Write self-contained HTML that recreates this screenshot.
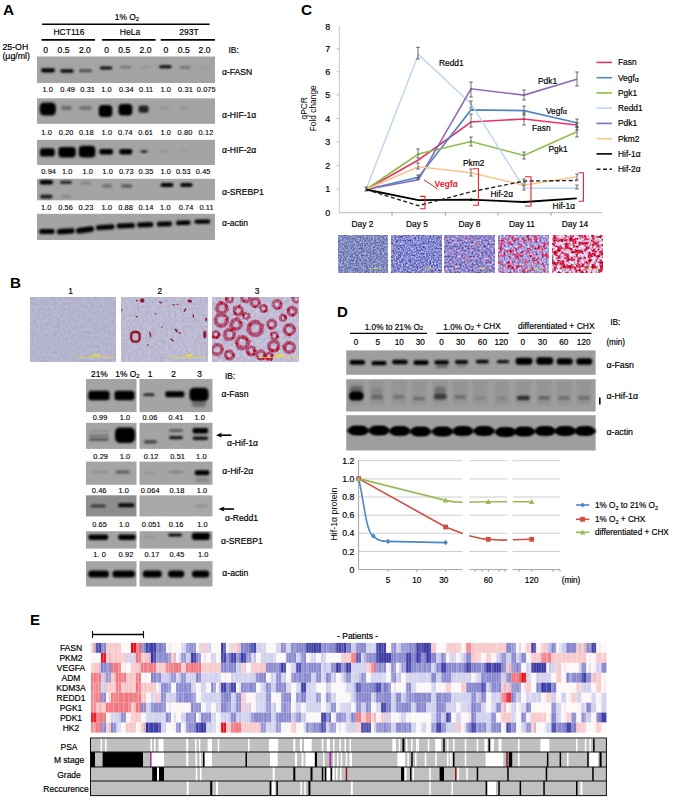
<!DOCTYPE html>
<html><head><meta charset="utf-8"><style>
html,body{margin:0;padding:0;background:#fff;}
body{width:675px;height:803px;overflow:hidden;}
svg{display:block;font-family:"Liberation Sans",sans-serif;}
</style></head><body>
<svg width="675" height="803" viewBox="0 0 675 803">
<defs>
<filter id="b05" x="-20%" y="-20%" width="140%" height="140%"><feGaussianBlur stdDeviation="0.5"/></filter>
<filter id="b07" x="-30%" y="-50%" width="160%" height="200%"><feGaussianBlur stdDeviation="0.8"/></filter>
<filter id="b1" x="-50%" y="-100%" width="200%" height="300%"><feGaussianBlur stdDeviation="1.0"/></filter>
<filter id="disp" x="-5%" y="-5%" width="110%" height="110%" color-interpolation-filters="sRGB"><feTurbulence type="fractalNoise" baseFrequency="0.25" numOctaves="2" seed="4" result="t"/><feDisplacementMap in="SourceGraphic" in2="t" scale="2.5" xChannelSelector="R" yChannelSelector="G" result="d"/><feGaussianBlur in="d" stdDeviation="0.5"/></filter>
<filter id="b2" x="-50%" y="-100%" width="200%" height="300%"><feGaussianBlur stdDeviation="1.8"/></filter>
<clipPath id="cpb1"><rect x="121.5" y="297" width="85.8" height="64.8"/></clipPath>
<clipPath id="cpb2"><rect x="212" y="297" width="86.6" height="64.8"/></clipPath><filter id="tx0" x="0" y="0" width="1" height="1" filterUnits="objectBoundingBox" color-interpolation-filters="sRGB">
<feTurbulence type="fractalNoise" baseFrequency="0.26" numOctaves="2" seed="3" result="A"/>
<feTurbulence type="fractalNoise" baseFrequency="0.6" numOctaves="2" seed="11" result="B"/>
<feColorMatrix in="A" type="matrix" values="1 0 0 0 0  0 0 0 0 0  0 0 0 0 0  0 0 0 0 1" result="A2"/>
<feColorMatrix in="B" type="matrix" values="0 0 0 0 0  0 1 0 0 0  0 0 0 0 0  0 0 0 0 1" result="B2"/>
<feComposite in="A2" in2="B2" operator="arithmetic" k1="0" k2="1" k3="1" k4="0" result="C"/>
<feComponentTransfer in="C"><feFuncR type="linear" slope="6.0" intercept="-2.500"/><feFuncG type="linear" slope="1.8" intercept="-0.4"/></feComponentTransfer>
<feColorMatrix type="matrix" values="0.000 0.400 0 0 0.300  0.000 0.400 0 0 0.340  0.000 0.400 0 0 0.550  0 0 0 0 1"/>
</filter>
<filter id="tx1" x="0" y="0" width="1" height="1" filterUnits="objectBoundingBox" color-interpolation-filters="sRGB">
<feTurbulence type="fractalNoise" baseFrequency="0.26" numOctaves="2" seed="10" result="A"/>
<feTurbulence type="fractalNoise" baseFrequency="0.6" numOctaves="2" seed="16" result="B"/>
<feColorMatrix in="A" type="matrix" values="1 0 0 0 0  0 0 0 0 0  0 0 0 0 0  0 0 0 0 1" result="A2"/>
<feColorMatrix in="B" type="matrix" values="0 0 0 0 0  0 1 0 0 0  0 0 0 0 0  0 0 0 0 1" result="B2"/>
<feComposite in="A2" in2="B2" operator="arithmetic" k1="0" k2="1" k3="1" k4="0" result="C"/>
<feComponentTransfer in="C"><feFuncR type="linear" slope="6.0" intercept="-2.500"/><feFuncG type="linear" slope="1.8" intercept="-0.4"/></feComponentTransfer>
<feColorMatrix type="matrix" values="0.000 0.550 0 0 0.245  0.000 0.550 0 0 0.255  0.000 0.550 0 0 0.535  0 0 0 0 1"/>
</filter>
<filter id="tx2" x="0" y="0" width="1" height="1" filterUnits="objectBoundingBox" color-interpolation-filters="sRGB">
<feTurbulence type="fractalNoise" baseFrequency="0.26" numOctaves="2" seed="17" result="A"/>
<feTurbulence type="fractalNoise" baseFrequency="0.5" numOctaves="2" seed="21" result="B"/>
<feColorMatrix in="A" type="matrix" values="1 0 0 0 0  0 0 0 0 0  0 0 0 0 0  0 0 0 0 1" result="A2"/>
<feColorMatrix in="B" type="matrix" values="0 0 0 0 0  0 1 0 0 0  0 0 0 0 0  0 0 0 0 1" result="B2"/>
<feComposite in="A2" in2="B2" operator="arithmetic" k1="0" k2="1" k3="1" k4="0" result="C"/>
<feComponentTransfer in="C"><feFuncR type="linear" slope="6.0" intercept="-3.280"/><feFuncG type="linear" slope="1.8" intercept="-0.4"/></feComponentTransfer>
<feColorMatrix type="matrix" values="0.280 0.500 0 0 0.290  0.030 0.500 0 0 0.280  -0.060 0.500 0 0 0.550  0 0 0 0 1"/>
</filter>
<filter id="tx3" x="0" y="0" width="1" height="1" filterUnits="objectBoundingBox" color-interpolation-filters="sRGB">
<feTurbulence type="fractalNoise" baseFrequency="0.26" numOctaves="2" seed="24" result="A"/>
<feTurbulence type="fractalNoise" baseFrequency="0.5" numOctaves="2" seed="26" result="B"/>
<feColorMatrix in="A" type="matrix" values="1 0 0 0 0  0 0 0 0 0  0 0 0 0 0  0 0 0 0 1" result="A2"/>
<feColorMatrix in="B" type="matrix" values="0 0 0 0 0  0 1 0 0 0  0 0 0 0 0  0 0 0 0 1" result="B2"/>
<feComposite in="A2" in2="B2" operator="arithmetic" k1="0" k2="1" k3="1" k4="0" result="C"/>
<feComponentTransfer in="C"><feFuncR type="linear" slope="6.0" intercept="-2.860"/><feFuncG type="linear" slope="1.8" intercept="-0.4"/></feComponentTransfer>
<feColorMatrix type="matrix" values="0.220 0.500 0 0 0.400  -0.420 0.500 0 0 0.400  -0.480 0.500 0 0 0.640  0 0 0 0 1"/>
</filter>
<filter id="tx4" x="0" y="0" width="1" height="1" filterUnits="objectBoundingBox" color-interpolation-filters="sRGB">
<feTurbulence type="fractalNoise" baseFrequency="0.26" numOctaves="2" seed="31" result="A"/>
<feTurbulence type="fractalNoise" baseFrequency="0.5" numOctaves="2" seed="31" result="B"/>
<feColorMatrix in="A" type="matrix" values="1 0 0 0 0  0 0 0 0 0  0 0 0 0 0  0 0 0 0 1" result="A2"/>
<feColorMatrix in="B" type="matrix" values="0 0 0 0 0  0 1 0 0 0  0 0 0 0 0  0 0 0 0 1" result="B2"/>
<feComposite in="A2" in2="B2" operator="arithmetic" k1="0" k2="1" k3="1" k4="0" result="C"/>
<feComponentTransfer in="C"><feFuncR type="linear" slope="6.0" intercept="-2.560"/><feFuncG type="linear" slope="1.8" intercept="-0.4"/></feComponentTransfer>
<feColorMatrix type="matrix" values="-0.040 0.450 0 0 0.645  -0.680 0.450 0 0 0.585  -0.670 0.450 0 0 0.715  0 0 0 0 1"/>
</filter>
<filter id="txb0" x="0" y="0" width="1" height="1" filterUnits="objectBoundingBox" color-interpolation-filters="sRGB">
<feTurbulence type="fractalNoise" baseFrequency="0.35" numOctaves="2" seed="21"/>
<feColorMatrix type="matrix" values="0 0.12 0 0 0.645  0 0.12 0 0 0.645  0 0.12 0 0 0.745  0 0 0 0 1"/>
</filter>
<filter id="txb1" x="0" y="0" width="1" height="1" filterUnits="objectBoundingBox" color-interpolation-filters="sRGB">
<feTurbulence type="fractalNoise" baseFrequency="0.35" numOctaves="2" seed="27"/>
<feColorMatrix type="matrix" values="0 0.14 0 0 0.665  0 0.14 0 0 0.66  0 0.14 0 0 0.755  0 0 0 0 1"/>
</filter>
<filter id="txb2" x="0" y="0" width="1" height="1" filterUnits="objectBoundingBox" color-interpolation-filters="sRGB">
<feTurbulence type="fractalNoise" baseFrequency="0.3" numOctaves="2" seed="31"/>
<feColorMatrix type="matrix" values="0 0.16 0 0 0.68  0 0.16 0 0 0.66  0 0.16 0 0 0.76  0 0 0 0 1"/>
</filter>
</defs>
<text x="3.0" y="14.6" font-size="15.4" text-anchor="start" font-weight="bold" fill="#000" >A</text>
<text x="127.0" y="20.0" font-size="8.4" text-anchor="middle" font-weight="normal" fill="#000"  stroke="#000" stroke-width="0.18">1% O<tspan font-size="6" dy="0.8">2</tspan></text>
<line x1="42.0" y1="24.2" x2="209.6" y2="24.2" stroke="#000" stroke-width="1.6" />
<text x="69.0" y="35.3" font-size="8.5" text-anchor="middle" font-weight="normal" fill="#000"  stroke="#000" stroke-width="0.18">HCT116</text>
<text x="130.0" y="35.3" font-size="8.5" text-anchor="middle" font-weight="normal" fill="#000"  stroke="#000" stroke-width="0.18">HeLa</text>
<text x="189.0" y="35.3" font-size="8.5" text-anchor="middle" font-weight="normal" fill="#000"  stroke="#000" stroke-width="0.18">293T</text>
<line x1="41.5" y1="39.9" x2="95.0" y2="39.9" stroke="#000" stroke-width="1.6" />
<line x1="102.0" y1="39.9" x2="155.6" y2="39.9" stroke="#000" stroke-width="1.6" />
<line x1="160.7" y1="39.9" x2="215.0" y2="39.9" stroke="#000" stroke-width="1.6" />
<text x="2.4" y="49.6" font-size="8.8" text-anchor="start" font-weight="normal" fill="#000"  stroke="#000" stroke-width="0.18">25-OH</text>
<text x="2.4" y="59.1" font-size="8.8" text-anchor="start" font-weight="normal" fill="#000"  stroke="#000" stroke-width="0.18">(µg/ml)</text>
<text x="45.7" y="53.1" font-size="8.6" text-anchor="middle" font-weight="normal" fill="#000"  stroke="#000" stroke-width="0.18">0</text>
<text x="63.6" y="53.1" font-size="8.6" text-anchor="middle" font-weight="normal" fill="#000"  stroke="#000" stroke-width="0.18">0.5</text>
<text x="84.9" y="53.1" font-size="8.6" text-anchor="middle" font-weight="normal" fill="#000"  stroke="#000" stroke-width="0.18">2.0</text>
<text x="106.7" y="53.1" font-size="8.6" text-anchor="middle" font-weight="normal" fill="#000"  stroke="#000" stroke-width="0.18">0</text>
<text x="124.2" y="53.1" font-size="8.6" text-anchor="middle" font-weight="normal" fill="#000"  stroke="#000" stroke-width="0.18">0.5</text>
<text x="145.5" y="53.1" font-size="8.6" text-anchor="middle" font-weight="normal" fill="#000"  stroke="#000" stroke-width="0.18">2.0</text>
<text x="166.0" y="53.1" font-size="8.6" text-anchor="middle" font-weight="normal" fill="#000"  stroke="#000" stroke-width="0.18">0</text>
<text x="183.7" y="53.1" font-size="8.6" text-anchor="middle" font-weight="normal" fill="#000"  stroke="#000" stroke-width="0.18">0.5</text>
<text x="204.6" y="53.1" font-size="8.6" text-anchor="middle" font-weight="normal" fill="#000"  stroke="#000" stroke-width="0.18">2.0</text>
<text x="228.5" y="53.0" font-size="8.4" text-anchor="start" font-weight="normal" fill="#000"  stroke="#000" stroke-width="0.18">IB:</text>
<rect x="37.0" y="56.5" width="178.0" height="26.5" fill="#a4a4a4" />
<rect x="37.0" y="98.3" width="178.0" height="25.5" fill="#a4a4a4" />
<rect x="37.0" y="139.8" width="178.0" height="25.2" fill="#a4a4a4" />
<rect x="37.0" y="178.8" width="178.0" height="21.5" fill="#a4a4a4" />
<rect x="37.0" y="213.8" width="178.0" height="26.2" fill="#a4a4a4" />
<text x="47.7" y="91.9" font-size="7.4" text-anchor="middle" font-weight="normal" fill="#000" letter-spacing="0.1" stroke="#000" stroke-width="0.12">1.0</text>
<text x="67.7" y="91.9" font-size="7.4" text-anchor="middle" font-weight="normal" fill="#000" letter-spacing="0.1" stroke="#000" stroke-width="0.12">0.49</text>
<text x="87.7" y="91.9" font-size="7.4" text-anchor="middle" font-weight="normal" fill="#000" letter-spacing="0.1" stroke="#000" stroke-width="0.12">0.31</text>
<text x="106.5" y="91.9" font-size="7.4" text-anchor="middle" font-weight="normal" fill="#000" letter-spacing="0.1" stroke="#000" stroke-width="0.12">1.0</text>
<text x="126.4" y="91.9" font-size="7.4" text-anchor="middle" font-weight="normal" fill="#000" letter-spacing="0.1" stroke="#000" stroke-width="0.12">0.34</text>
<text x="146.2" y="91.9" font-size="7.4" text-anchor="middle" font-weight="normal" fill="#000" letter-spacing="0.1" stroke="#000" stroke-width="0.12">0.11</text>
<text x="165.8" y="91.9" font-size="7.4" text-anchor="middle" font-weight="normal" fill="#000" letter-spacing="0.1" stroke="#000" stroke-width="0.12">1.0</text>
<text x="185.5" y="91.9" font-size="7.4" text-anchor="middle" font-weight="normal" fill="#000" letter-spacing="0.1" stroke="#000" stroke-width="0.12">0.31</text>
<text x="206.3" y="91.9" font-size="7.4" text-anchor="middle" font-weight="normal" fill="#000" letter-spacing="0.1" stroke="#000" stroke-width="0.12">0.075</text>
<text x="46.6" y="134.7" font-size="7.4" text-anchor="middle" font-weight="normal" fill="#000" letter-spacing="0.1" stroke="#000" stroke-width="0.12">1.0</text>
<text x="66.2" y="134.7" font-size="7.4" text-anchor="middle" font-weight="normal" fill="#000" letter-spacing="0.1" stroke="#000" stroke-width="0.12">0.20</text>
<text x="86.4" y="134.7" font-size="7.4" text-anchor="middle" font-weight="normal" fill="#000" letter-spacing="0.1" stroke="#000" stroke-width="0.12">0.18</text>
<text x="106.9" y="134.7" font-size="7.4" text-anchor="middle" font-weight="normal" fill="#000" letter-spacing="0.1" stroke="#000" stroke-width="0.12">1.0</text>
<text x="125.4" y="134.7" font-size="7.4" text-anchor="middle" font-weight="normal" fill="#000" letter-spacing="0.1" stroke="#000" stroke-width="0.12">0.74</text>
<text x="145.7" y="134.7" font-size="7.4" text-anchor="middle" font-weight="normal" fill="#000" letter-spacing="0.1" stroke="#000" stroke-width="0.12">0.61</text>
<text x="165.7" y="134.7" font-size="7.4" text-anchor="middle" font-weight="normal" fill="#000" letter-spacing="0.1" stroke="#000" stroke-width="0.12">1.0</text>
<text x="185.0" y="134.7" font-size="7.4" text-anchor="middle" font-weight="normal" fill="#000" letter-spacing="0.1" stroke="#000" stroke-width="0.12">0.80</text>
<text x="206.0" y="134.7" font-size="7.4" text-anchor="middle" font-weight="normal" fill="#000" letter-spacing="0.1" stroke="#000" stroke-width="0.12">0.12</text>
<text x="48.7" y="174.3" font-size="7.4" text-anchor="middle" font-weight="normal" fill="#000" letter-spacing="0.1" stroke="#000" stroke-width="0.12">0.94</text>
<text x="67.2" y="174.3" font-size="7.4" text-anchor="middle" font-weight="normal" fill="#000" letter-spacing="0.1" stroke="#000" stroke-width="0.12">1.0</text>
<text x="87.8" y="174.3" font-size="7.4" text-anchor="middle" font-weight="normal" fill="#000" letter-spacing="0.1" stroke="#000" stroke-width="0.12">1.0</text>
<text x="107.6" y="174.3" font-size="7.4" text-anchor="middle" font-weight="normal" fill="#000" letter-spacing="0.1" stroke="#000" stroke-width="0.12">1.0</text>
<text x="126.3" y="174.3" font-size="7.4" text-anchor="middle" font-weight="normal" fill="#000" letter-spacing="0.1" stroke="#000" stroke-width="0.12">0.73</text>
<text x="146.0" y="174.3" font-size="7.4" text-anchor="middle" font-weight="normal" fill="#000" letter-spacing="0.1" stroke="#000" stroke-width="0.12">0.35</text>
<text x="165.7" y="174.3" font-size="7.4" text-anchor="middle" font-weight="normal" fill="#000" letter-spacing="0.1" stroke="#000" stroke-width="0.12">1.0</text>
<text x="183.3" y="174.3" font-size="7.4" text-anchor="middle" font-weight="normal" fill="#000" letter-spacing="0.1" stroke="#000" stroke-width="0.12">0.53</text>
<text x="203.2" y="174.3" font-size="7.4" text-anchor="middle" font-weight="normal" fill="#000" letter-spacing="0.1" stroke="#000" stroke-width="0.12">0.45</text>
<text x="46.2" y="210.0" font-size="7.4" text-anchor="middle" font-weight="normal" fill="#000" letter-spacing="0.1" stroke="#000" stroke-width="0.12">1.0</text>
<text x="65.6" y="210.0" font-size="7.4" text-anchor="middle" font-weight="normal" fill="#000" letter-spacing="0.1" stroke="#000" stroke-width="0.12">0.56</text>
<text x="86.0" y="210.0" font-size="7.4" text-anchor="middle" font-weight="normal" fill="#000" letter-spacing="0.1" stroke="#000" stroke-width="0.12">0.23</text>
<text x="106.9" y="210.0" font-size="7.4" text-anchor="middle" font-weight="normal" fill="#000" letter-spacing="0.1" stroke="#000" stroke-width="0.12">1.0</text>
<text x="125.6" y="210.0" font-size="7.4" text-anchor="middle" font-weight="normal" fill="#000" letter-spacing="0.1" stroke="#000" stroke-width="0.12">0.88</text>
<text x="146.0" y="210.0" font-size="7.4" text-anchor="middle" font-weight="normal" fill="#000" letter-spacing="0.1" stroke="#000" stroke-width="0.12">0.14</text>
<text x="165.4" y="210.0" font-size="7.4" text-anchor="middle" font-weight="normal" fill="#000" letter-spacing="0.1" stroke="#000" stroke-width="0.12">1.0</text>
<text x="186.1" y="210.0" font-size="7.4" text-anchor="middle" font-weight="normal" fill="#000" letter-spacing="0.1" stroke="#000" stroke-width="0.12">0.74</text>
<text x="206.5" y="210.0" font-size="7.4" text-anchor="middle" font-weight="normal" fill="#000" letter-spacing="0.1" stroke="#000" stroke-width="0.12">0.11</text>
<text x="222.0" y="75.0" font-size="8.6" text-anchor="start" font-weight="normal" fill="#000"  stroke="#000" stroke-width="0.18">α-FASN</text>
<text x="222.0" y="117.9" font-size="8.6" text-anchor="start" font-weight="normal" fill="#000"  stroke="#000" stroke-width="0.18">α-HIF-1α</text>
<text x="222.0" y="152.8" font-size="8.6" text-anchor="start" font-weight="normal" fill="#000"  stroke="#000" stroke-width="0.18">α-HIF-2α</text>
<text x="222.0" y="195.2" font-size="8.6" text-anchor="start" font-weight="normal" fill="#000"  stroke="#000" stroke-width="0.18">α-SREBP1</text>
<text x="222.0" y="225.6" font-size="8.6" text-anchor="start" font-weight="normal" fill="#000"  stroke="#000" stroke-width="0.18">α-actin</text>
<rect x="41.0" y="68.2" width="14.0" height="4.2" rx="2.1" fill="#000" fill-opacity="1.00" filter="url(#b1)"/>
<rect x="60.2" y="69.3" width="13.5" height="3.4" rx="1.7" fill="#000" fill-opacity="0.95" filter="url(#b1)"/>
<rect x="79.0" y="69.4" width="13.0" height="2.6" rx="1.3" fill="#000" fill-opacity="0.60" filter="url(#b1)"/>
<rect x="99.8" y="66.6" width="12.5" height="2.8" rx="1.4" fill="#000" fill-opacity="0.95" filter="url(#b1)"/>
<rect x="120.0" y="66.3" width="11.0" height="2.0" rx="1.0" fill="#000" fill-opacity="0.35" filter="url(#b1)"/>
<rect x="140.5" y="66.2" width="10.0" height="1.5" rx="0.8" fill="#000" fill-opacity="0.15" filter="url(#b1)"/>
<rect x="159.2" y="65.3" width="12.5" height="3.0" rx="1.5" fill="#000" fill-opacity="0.95" filter="url(#b1)"/>
<rect x="179.5" y="66.5" width="11.0" height="2.0" rx="1.0" fill="#000" fill-opacity="0.40" filter="url(#b1)"/>
<rect x="200.0" y="66.8" width="10.0" height="1.5" rx="0.8" fill="#000" fill-opacity="0.12" filter="url(#b1)"/>
<rect x="39.8" y="102.5" width="16.0" height="13.0" rx="4.2" fill="#000" fill-opacity="1.00" filter="url(#b1)"/>
<rect x="61.0" y="106.0" width="11.0" height="4.0" rx="2.0" fill="#000" fill-opacity="0.35" filter="url(#b1)"/>
<rect x="79.0" y="106.0" width="13.0" height="4.0" rx="2.0" fill="#000" fill-opacity="0.30" filter="url(#b1)"/>
<rect x="98.8" y="105.0" width="13.5" height="12.0" rx="3.8" fill="#000" fill-opacity="1.00" filter="url(#b1)"/>
<rect x="118.5" y="104.0" width="13.8" height="11.5" rx="3.7" fill="#000" fill-opacity="1.00" filter="url(#b1)"/>
<rect x="138.6" y="105.4" width="10.0" height="7.4" rx="2.4" fill="#000" fill-opacity="0.80" filter="url(#b1)"/>
<rect x="160.0" y="106.0" width="10.0" height="4.0" rx="2.0" fill="#000" fill-opacity="0.08" filter="url(#b1)"/>
<rect x="179.0" y="106.0" width="10.0" height="4.0" rx="2.0" fill="#000" fill-opacity="0.08" filter="url(#b1)"/>
<rect x="40.0" y="148.3" width="14.7" height="8.3" rx="2.7" fill="#000" fill-opacity="1.00" filter="url(#b1)"/>
<rect x="58.4" y="146.9" width="17.3" height="10.5" rx="3.4" fill="#000" fill-opacity="1.00" filter="url(#b1)"/>
<rect x="78.8" y="145.7" width="16.5" height="11.8" rx="3.8" fill="#000" fill-opacity="1.00" filter="url(#b1)"/>
<rect x="99.4" y="148.9" width="13.6" height="5.5" rx="1.8" fill="#000" fill-opacity="1.00" filter="url(#b1)"/>
<rect x="119.3" y="148.9" width="12.9" height="5.5" rx="1.8" fill="#000" fill-opacity="1.00" filter="url(#b1)"/>
<rect x="140.5" y="150.0" width="7.0" height="3.0" rx="1.5" fill="#000" fill-opacity="0.70" filter="url(#b1)"/>
<rect x="160.5" y="150.0" width="9.0" height="3.0" rx="1.5" fill="#000" fill-opacity="0.08" filter="url(#b1)"/>
<rect x="179.5" y="150.0" width="9.0" height="3.0" rx="1.5" fill="#000" fill-opacity="0.05" filter="url(#b1)"/>
<rect x="39.6" y="180.0" width="13.5" height="4.6" rx="2.3" fill="#000" fill-opacity="1.00" filter="url(#b1)"/>
<rect x="40.1" y="194.8" width="12.5" height="3.6" rx="1.8" fill="#000" fill-opacity="0.85" filter="url(#b1)"/>
<rect x="60.1" y="180.7" width="11.8" height="3.2" rx="1.6" fill="#000" fill-opacity="0.75" filter="url(#b1)"/>
<rect x="61.0" y="195.3" width="10.0" height="2.5" rx="1.2" fill="#000" fill-opacity="0.20" filter="url(#b1)"/>
<rect x="80.5" y="181.5" width="11.0" height="3.0" rx="1.5" fill="#000" fill-opacity="0.20" filter="url(#b1)"/>
<rect x="101.8" y="184.4" width="10.3" height="3.0" rx="1.5" fill="#000" fill-opacity="0.35" filter="url(#b1)"/>
<rect x="121.3" y="184.4" width="11.0" height="3.0" rx="1.5" fill="#000" fill-opacity="0.50" filter="url(#b1)"/>
<rect x="160.5" y="182.9" width="13.0" height="4.2" rx="2.1" fill="#000" fill-opacity="1.00" filter="url(#b1)"/>
<rect x="180.2" y="183.1" width="12.4" height="3.8" rx="1.9" fill="#000" fill-opacity="0.95" filter="url(#b1)"/>
<rect x="39.1" y="228.9" width="15.6" height="5.2" rx="2.3" fill="#000" filter="url(#b07)" transform="rotate(0 46.9 231.5)"/>
<rect x="56.9" y="228.5" width="17.8" height="5.6" rx="2.5" fill="#000" filter="url(#b07)" transform="rotate(-4 65.8 231.3)"/>
<rect x="76.0" y="226.9" width="18.0" height="5.8" rx="2.6" fill="#000" filter="url(#b07)" transform="rotate(-8 85 229.8)"/>
<rect x="95.9" y="224.7" width="18.7" height="5.0" rx="2.2" fill="#000" filter="url(#b07)" transform="rotate(-4 105.2 227.2)"/>
<rect x="116.6" y="223.3" width="18.4" height="5.0" rx="2.2" fill="#000" filter="url(#b07)" transform="rotate(-2 125.8 225.8)"/>
<rect x="137.0" y="222.2" width="16.4" height="5.0" rx="2.2" fill="#000" filter="url(#b07)" transform="rotate(-2 145.2 224.7)"/>
<rect x="156.9" y="221.5" width="15.1" height="5.0" rx="2.2" fill="#000" filter="url(#b07)" transform="rotate(-2 164.5 224)"/>
<rect x="176.0" y="220.4" width="14.6" height="4.6" rx="2.1" fill="#000" filter="url(#b07)" transform="rotate(-2 183.3 222.7)"/>
<rect x="194.5" y="219.5" width="15.8" height="4.2" rx="1.9" fill="#000" filter="url(#b07)" transform="rotate(-1 202.4 221.6)"/>
<text x="9.9" y="287.8" font-size="15.2" text-anchor="start" font-weight="bold" fill="#000" >B</text>
<text x="70.7" y="294.0" font-size="8.4" text-anchor="middle" font-weight="normal" fill="#000"  stroke="#000" stroke-width="0.18">1</text>
<text x="159.8" y="294.0" font-size="8.4" text-anchor="middle" font-weight="normal" fill="#000"  stroke="#000" stroke-width="0.18">2</text>
<text x="257.0" y="294.0" font-size="8.4" text-anchor="middle" font-weight="normal" fill="#000"  stroke="#000" stroke-width="0.18">3</text>
<rect x="30" y="297" width="86" height="64.8" fill="#888" filter="url(#txb0)"/>
<rect x="76.4" y="357.0" width="39.20" height="0.80" fill="#e0d840" />
<rect x="92.7" y="354.5" width="7.50" height="1.60" fill="#f0e040" />
<rect x="121.5" y="297" width="85.8" height="64.8" fill="#888" filter="url(#txb1)"/>
<g clip-path="url(#cpb1)"><g filter="url(#b05)" fill="#8e1a34">
<ellipse cx="142.2" cy="300.4" rx="2.25" ry="2.25" transform="rotate(0 142.2 300.4)"/>
<ellipse cx="136.7" cy="300.5" rx="1.12" ry="0.75" transform="rotate(0 136.7 300.5)"/>
<ellipse cx="160.5" cy="302.5" rx="1.65" ry="0.75" transform="rotate(30 160.5 302.5)"/>
<ellipse cx="173.5" cy="304.8" rx="1.20" ry="0.75" transform="rotate(0 173.5 304.8)"/>
<ellipse cx="177.6" cy="304.5" rx="0.90" ry="0.75" transform="rotate(0 177.6 304.5)"/>
<ellipse cx="189.8" cy="301.1" rx="2.25" ry="1.50" transform="rotate(10 189.8 301.1)"/>
<ellipse cx="185" cy="310" rx="0.75" ry="2.25" transform="rotate(30 185 310)"/>
<ellipse cx="136.7" cy="316.8" rx="1.20" ry="0.75" transform="rotate(0 136.7 316.8)"/>
<ellipse cx="155.8" cy="314" rx="0.75" ry="0.75" transform="rotate(0 155.8 314)"/>
<ellipse cx="193.3" cy="316" rx="0.75" ry="1.88" transform="rotate(-10 193.3 316)"/>
<ellipse cx="206.2" cy="319.5" rx="0.90" ry="1.88" transform="rotate(0 206.2 319.5)"/>
<ellipse cx="150.3" cy="334.5" rx="0.75" ry="3.00" transform="rotate(-15 150.3 334.5)"/>
<ellipse cx="176.2" cy="330.4" rx="2.25" ry="1.05" transform="rotate(50 176.2 330.4)"/>
<ellipse cx="172.1" cy="340" rx="2.25" ry="0.75" transform="rotate(35 172.1 340)"/>
<ellipse cx="204.8" cy="334.5" rx="1.65" ry="3.75" transform="rotate(0 204.8 334.5)"/>
<ellipse cx="147.6" cy="344.7" rx="0.75" ry="0.75" transform="rotate(0 147.6 344.7)"/>
<ellipse cx="121.7" cy="310" rx="0.75" ry="1.50" transform="rotate(0 121.7 310)"/>
<ellipse cx="161.9" cy="327" rx="0.75" ry="0.75" transform="rotate(0 161.9 327)"/>
<ellipse cx="180" cy="333" rx="0.90" ry="0.90" transform="rotate(0 180 333)"/>
</g></g>
<rect x="131.2" y="332" width="8.4" height="9.6" rx="3" fill="none" stroke="#8e1628" stroke-width="2.3" filter="url(#b05)"/>
<rect x="168.0" y="357.0" width="39.30" height="0.80" fill="#e0d840" />
<rect x="185.5" y="354.5" width="7.50" height="1.60" fill="#f0e040" />
<rect x="212" y="297" width="86.6" height="64.8" fill="#888" filter="url(#txb2)"/>
<g clip-path="url(#cpb2)"><g filter="url(#disp)">
<circle cx="221.9" cy="307.9" r="4.8" fill="none" stroke="#b24a6c" stroke-opacity="0.85" stroke-width="3.9"/>
<circle cx="221.9" cy="307.9" r="4.8" fill="none" stroke="#8a1c40" stroke-opacity="0.6" stroke-width="1.2" stroke-dasharray="2 1.5"/>
<circle cx="238.3" cy="310.7" r="4.0" fill="none" stroke="#b24a6c" stroke-opacity="0.85" stroke-width="3.4"/>
<circle cx="238.3" cy="310.7" r="4.0" fill="none" stroke="#8a1c40" stroke-opacity="0.6" stroke-width="1.0" stroke-dasharray="2 1.5"/>
<circle cx="255.3" cy="302.5" r="4.0" fill="none" stroke="#b24a6c" stroke-opacity="0.85" stroke-width="3.4"/>
<circle cx="255.3" cy="302.5" r="4.0" fill="none" stroke="#8a1c40" stroke-opacity="0.6" stroke-width="1.0" stroke-dasharray="2 1.5"/>
<circle cx="263.5" cy="308.6" r="3.2" fill="none" stroke="#b24a6c" stroke-opacity="0.85" stroke-width="2.8"/>
<circle cx="263.5" cy="308.6" r="3.2" fill="none" stroke="#8a1c40" stroke-opacity="0.6" stroke-width="0.8" stroke-dasharray="2 1.5"/>
<circle cx="277.1" cy="304.5" r="4.0" fill="none" stroke="#b24a6c" stroke-opacity="0.85" stroke-width="3.4"/>
<circle cx="277.1" cy="304.5" r="4.0" fill="none" stroke="#8a1c40" stroke-opacity="0.6" stroke-width="1.0" stroke-dasharray="2 1.5"/>
<circle cx="292.1" cy="311.3" r="4.0" fill="none" stroke="#b24a6c" stroke-opacity="0.85" stroke-width="3.4"/>
<circle cx="292.1" cy="311.3" r="4.0" fill="none" stroke="#8a1c40" stroke-opacity="0.6" stroke-width="1.0" stroke-dasharray="2 1.5"/>
<circle cx="221.3" cy="320.2" r="5.6" fill="none" stroke="#b24a6c" stroke-opacity="0.85" stroke-width="4.5"/>
<circle cx="221.3" cy="320.2" r="5.6" fill="none" stroke="#8a1c40" stroke-opacity="0.6" stroke-width="1.4" stroke-dasharray="2 1.5"/>
<circle cx="236.2" cy="324.3" r="4.8" fill="none" stroke="#b24a6c" stroke-opacity="0.85" stroke-width="3.9"/>
<circle cx="236.2" cy="324.3" r="4.8" fill="none" stroke="#8a1c40" stroke-opacity="0.6" stroke-width="1.2" stroke-dasharray="2 1.5"/>
<circle cx="255.3" cy="328.4" r="6.4" fill="none" stroke="#b24a6c" stroke-opacity="0.85" stroke-width="5.0"/>
<circle cx="255.3" cy="328.4" r="6.4" fill="none" stroke="#8a1c40" stroke-opacity="0.6" stroke-width="1.6" stroke-dasharray="2 1.5"/>
<circle cx="271.7" cy="324.3" r="4.0" fill="none" stroke="#b24a6c" stroke-opacity="0.85" stroke-width="3.4"/>
<circle cx="271.7" cy="324.3" r="4.0" fill="none" stroke="#8a1c40" stroke-opacity="0.6" stroke-width="1.0" stroke-dasharray="2 1.5"/>
<circle cx="289.4" cy="329.7" r="4.8" fill="none" stroke="#b24a6c" stroke-opacity="0.85" stroke-width="3.9"/>
<circle cx="289.4" cy="329.7" r="4.8" fill="none" stroke="#8a1c40" stroke-opacity="0.6" stroke-width="1.2" stroke-dasharray="2 1.5"/>
<circle cx="215.8" cy="334.5" r="3.2" fill="none" stroke="#b24a6c" stroke-opacity="0.85" stroke-width="2.8"/>
<circle cx="215.8" cy="334.5" r="3.2" fill="none" stroke="#8a1c40" stroke-opacity="0.6" stroke-width="0.8" stroke-dasharray="2 1.5"/>
<circle cx="229.4" cy="334.5" r="4.8" fill="none" stroke="#b24a6c" stroke-opacity="0.85" stroke-width="3.9"/>
<circle cx="229.4" cy="334.5" r="4.8" fill="none" stroke="#8a1c40" stroke-opacity="0.6" stroke-width="1.2" stroke-dasharray="2 1.5"/>
<circle cx="242.4" cy="342.7" r="5.6" fill="none" stroke="#b24a6c" stroke-opacity="0.85" stroke-width="4.5"/>
<circle cx="242.4" cy="342.7" r="5.6" fill="none" stroke="#8a1c40" stroke-opacity="0.6" stroke-width="1.4" stroke-dasharray="2 1.5"/>
<circle cx="274.4" cy="335.9" r="3.2" fill="none" stroke="#b24a6c" stroke-opacity="0.85" stroke-width="2.8"/>
<circle cx="274.4" cy="335.9" r="3.2" fill="none" stroke="#8a1c40" stroke-opacity="0.6" stroke-width="0.8" stroke-dasharray="2 1.5"/>
<circle cx="273.7" cy="346.1" r="4.8" fill="none" stroke="#b24a6c" stroke-opacity="0.85" stroke-width="3.9"/>
<circle cx="273.7" cy="346.1" r="4.8" fill="none" stroke="#8a1c40" stroke-opacity="0.6" stroke-width="1.2" stroke-dasharray="2 1.5"/>
<circle cx="289.4" cy="347.5" r="4.8" fill="none" stroke="#b24a6c" stroke-opacity="0.85" stroke-width="3.9"/>
<circle cx="289.4" cy="347.5" r="4.8" fill="none" stroke="#8a1c40" stroke-opacity="0.6" stroke-width="1.2" stroke-dasharray="2 1.5"/>
<circle cx="217.2" cy="349.5" r="4.8" fill="none" stroke="#b24a6c" stroke-opacity="0.85" stroke-width="3.9"/>
<circle cx="217.2" cy="349.5" r="4.8" fill="none" stroke="#8a1c40" stroke-opacity="0.6" stroke-width="1.2" stroke-dasharray="2 1.5"/>
<circle cx="229.4" cy="355" r="4.0" fill="none" stroke="#b24a6c" stroke-opacity="0.85" stroke-width="3.4"/>
<circle cx="229.4" cy="355" r="4.0" fill="none" stroke="#8a1c40" stroke-opacity="0.6" stroke-width="1.0" stroke-dasharray="2 1.5"/>
<circle cx="251.2" cy="350.9" r="4.0" fill="none" stroke="#b24a6c" stroke-opacity="0.85" stroke-width="3.4"/>
<circle cx="251.2" cy="350.9" r="4.0" fill="none" stroke="#8a1c40" stroke-opacity="0.6" stroke-width="1.0" stroke-dasharray="2 1.5"/>
<circle cx="260.8" cy="355" r="4.0" fill="none" stroke="#b24a6c" stroke-opacity="0.85" stroke-width="3.4"/>
<circle cx="260.8" cy="355" r="4.0" fill="none" stroke="#8a1c40" stroke-opacity="0.6" stroke-width="1.0" stroke-dasharray="2 1.5"/>
<circle cx="269" cy="356.3" r="3.2" fill="none" stroke="#b24a6c" stroke-opacity="0.85" stroke-width="2.8"/>
<circle cx="269" cy="356.3" r="3.2" fill="none" stroke="#8a1c40" stroke-opacity="0.6" stroke-width="0.8" stroke-dasharray="2 1.5"/>
<circle cx="245.8" cy="297.7" r="4.0" fill="none" stroke="#b24a6c" stroke-opacity="0.85" stroke-width="3.4"/>
<circle cx="245.8" cy="297.7" r="4.0" fill="none" stroke="#8a1c40" stroke-opacity="0.6" stroke-width="1.0" stroke-dasharray="2 1.5"/>
<circle cx="229.4" cy="299.1" r="3.2" fill="none" stroke="#b24a6c" stroke-opacity="0.85" stroke-width="2.8"/>
<circle cx="229.4" cy="299.1" r="3.2" fill="none" stroke="#8a1c40" stroke-opacity="0.6" stroke-width="0.8" stroke-dasharray="2 1.5"/>
<circle cx="296.2" cy="299.1" r="3.2" fill="none" stroke="#b24a6c" stroke-opacity="0.85" stroke-width="2.8"/>
<circle cx="296.2" cy="299.1" r="3.2" fill="none" stroke="#8a1c40" stroke-opacity="0.6" stroke-width="0.8" stroke-dasharray="2 1.5"/>
<circle cx="283" cy="318" r="2.8" fill="none" stroke="#b24a6c" stroke-opacity="0.85" stroke-width="2.5"/>
<circle cx="283" cy="318" r="2.8" fill="none" stroke="#8a1c40" stroke-opacity="0.6" stroke-width="0.7" stroke-dasharray="2 1.5"/>
<circle cx="246" cy="316" r="2.8" fill="none" stroke="#b24a6c" stroke-opacity="0.85" stroke-width="2.5"/>
<circle cx="246" cy="316" r="2.8" fill="none" stroke="#8a1c40" stroke-opacity="0.6" stroke-width="0.7" stroke-dasharray="2 1.5"/>
<circle cx="221.6" cy="303.1" r="1.5" fill="#b8102c"/>
<circle cx="226.4" cy="306.2" r="1.4" fill="#b8102c"/>
<circle cx="226.1" cy="305.6" r="1.0" fill="#b8102c"/>
<circle cx="238.9" cy="306.8" r="1.1" fill="#b8102c"/>
<circle cx="242.1" cy="312.0" r="1.1" fill="#b8102c"/>
<circle cx="235.5" cy="313.6" r="1.5" fill="#b8102c"/>
<circle cx="235.4" cy="313.4" r="1.1" fill="#b8102c"/>
<circle cx="259.3" cy="302.8" r="1.1" fill="#b8102c"/>
<circle cx="254.6" cy="306.4" r="1.5" fill="#b8102c"/>
<circle cx="265.2" cy="311.3" r="1.5" fill="#b8102c"/>
<circle cx="265.6" cy="311.0" r="1.4" fill="#b8102c"/>
<circle cx="265.7" cy="310.9" r="1.0" fill="#b8102c"/>
<circle cx="265.7" cy="306.3" r="1.1" fill="#b8102c"/>
<circle cx="281.0" cy="303.5" r="1.1" fill="#b8102c"/>
<circle cx="279.1" cy="308.0" r="1.2" fill="#b8102c"/>
<circle cx="288.2" cy="310.3" r="1.4" fill="#b8102c"/>
<circle cx="293.2" cy="315.1" r="1.6" fill="#b8102c"/>
<circle cx="226.8" cy="319.0" r="1.5" fill="#b8102c"/>
<circle cx="219.6" cy="325.5" r="1.2" fill="#b8102c"/>
<circle cx="240.6" cy="322.4" r="1.2" fill="#b8102c"/>
<circle cx="233.8" cy="328.5" r="1.5" fill="#b8102c"/>
<circle cx="250.0" cy="324.8" r="1.4" fill="#b8102c"/>
<circle cx="270.2" cy="328.0" r="1.5" fill="#b8102c"/>
<circle cx="287.8" cy="325.2" r="1.1" fill="#b8102c"/>
<circle cx="284.7" cy="330.5" r="1.1" fill="#b8102c"/>
<circle cx="289.2" cy="334.5" r="1.6" fill="#b8102c"/>
<circle cx="294.0" cy="328.2" r="1.2" fill="#b8102c"/>
<circle cx="219.0" cy="334.9" r="1.5" fill="#b8102c"/>
<circle cx="213.7" cy="336.9" r="1.3" fill="#b8102c"/>
<circle cx="219.0" cy="334.7" r="1.0" fill="#b8102c"/>
<circle cx="217.1" cy="337.4" r="1.6" fill="#b8102c"/>
<circle cx="232.9" cy="337.8" r="1.1" fill="#b8102c"/>
<circle cx="231.4" cy="330.1" r="1.3" fill="#b8102c"/>
<circle cx="246.8" cy="339.2" r="1.2" fill="#b8102c"/>
<circle cx="237.0" cy="344.0" r="1.4" fill="#b8102c"/>
<circle cx="243.5" cy="337.2" r="1.2" fill="#b8102c"/>
<circle cx="277.5" cy="336.6" r="1.6" fill="#b8102c"/>
<circle cx="277.1" cy="337.6" r="1.2" fill="#b8102c"/>
<circle cx="271.9" cy="333.9" r="1.6" fill="#b8102c"/>
<circle cx="272.9" cy="350.8" r="1.4" fill="#b8102c"/>
<circle cx="277.7" cy="348.7" r="1.4" fill="#b8102c"/>
<circle cx="272.0" cy="350.6" r="1.5" fill="#b8102c"/>
<circle cx="288.5" cy="342.8" r="1.2" fill="#b8102c"/>
<circle cx="284.6" cy="348.0" r="1.4" fill="#b8102c"/>
<circle cx="222.0" cy="349.1" r="1.3" fill="#b8102c"/>
<circle cx="233.3" cy="355.8" r="1.4" fill="#b8102c"/>
<circle cx="227.2" cy="358.3" r="1.2" fill="#b8102c"/>
<circle cx="227.1" cy="351.8" r="1.1" fill="#b8102c"/>
<circle cx="233.4" cy="354.5" r="1.4" fill="#b8102c"/>
<circle cx="249.2" cy="354.4" r="1.1" fill="#b8102c"/>
<circle cx="255.2" cy="350.4" r="1.3" fill="#b8102c"/>
<circle cx="253.9" cy="353.9" r="1.5" fill="#b8102c"/>
<circle cx="247.8" cy="353.0" r="1.1" fill="#b8102c"/>
<circle cx="263.2" cy="358.2" r="1.5" fill="#b8102c"/>
<circle cx="259.7" cy="358.8" r="1.3" fill="#b8102c"/>
<circle cx="264.8" cy="355.0" r="1.5" fill="#b8102c"/>
<circle cx="272.1" cy="355.5" r="1.4" fill="#b8102c"/>
<circle cx="267.7" cy="359.2" r="1.2" fill="#b8102c"/>
<circle cx="265.9" cy="356.9" r="1.5" fill="#b8102c"/>
<circle cx="271.4" cy="358.4" r="1.5" fill="#b8102c"/>
<circle cx="243.0" cy="294.8" r="1.3" fill="#b8102c"/>
<circle cx="243.7" cy="301.1" r="1.1" fill="#b8102c"/>
<circle cx="226.2" cy="298.8" r="1.3" fill="#b8102c"/>
<circle cx="226.2" cy="299.0" r="1.0" fill="#b8102c"/>
<circle cx="230.3" cy="296.0" r="1.2" fill="#b8102c"/>
<circle cx="296.4" cy="295.9" r="1.2" fill="#b8102c"/>
<circle cx="284.4" cy="315.6" r="1.2" fill="#b8102c"/>
<circle cx="285.8" cy="317.7" r="1.4" fill="#b8102c"/>
<circle cx="285.7" cy="317.2" r="1.2" fill="#b8102c"/>
<circle cx="243.5" cy="314.6" r="1.0" fill="#b8102c"/>
<circle cx="243.3" cy="315.2" r="1.2" fill="#b8102c"/>
</g></g>
<rect x="258.7" y="357.0" width="39.30" height="0.80" fill="#e0d840" />
<rect x="276.0" y="354.5" width="7.50" height="1.60" fill="#f0e040" />
<text x="99.4" y="377.2" font-size="8.4" text-anchor="middle" font-weight="normal" fill="#000"  stroke="#000" stroke-width="0.18">21%</text>
<text x="127.4" y="377.2" font-size="8.4" text-anchor="middle" font-weight="normal" fill="#000"  stroke="#000" stroke-width="0.18">1% O<tspan font-size="6" dy="0.8">2</tspan></text>
<text x="150.0" y="377.2" font-size="8.4" text-anchor="middle" font-weight="normal" fill="#000"  stroke="#000" stroke-width="0.18">1</text>
<text x="173.6" y="377.2" font-size="8.4" text-anchor="middle" font-weight="normal" fill="#000"  stroke="#000" stroke-width="0.18">2</text>
<text x="199.7" y="377.2" font-size="8.4" text-anchor="middle" font-weight="normal" fill="#000"  stroke="#000" stroke-width="0.18">3</text>
<text x="225.0" y="379.0" font-size="8.4" text-anchor="start" font-weight="normal" fill="#000"  stroke="#000" stroke-width="0.18">IB:</text>
<rect x="86.0" y="379.0" width="50.5" height="33.1" fill="#a4a4a4" />
<rect x="139.5" y="379.0" width="73.0" height="33.1" fill="#a4a4a4" />
<rect x="86.0" y="422.8" width="50.5" height="26.1" fill="#a4a4a4" />
<rect x="139.5" y="422.8" width="73.0" height="26.1" fill="#a4a4a4" />
<rect x="86.0" y="461.6" width="50.5" height="23.2" fill="#a4a4a4" />
<rect x="139.5" y="461.6" width="73.0" height="23.2" fill="#a4a4a4" />
<rect x="86.0" y="495.3" width="50.5" height="21.1" fill="#8e8e8e" />
<rect x="139.5" y="495.3" width="73.0" height="21.1" fill="#a8a8a8" />
<rect x="86.0" y="531.2" width="50.5" height="17.4" fill="#a4a4a4" />
<rect x="139.5" y="531.2" width="73.0" height="17.4" fill="#a4a4a4" />
<rect x="86.0" y="561.2" width="50.5" height="25.3" fill="#a4a4a4" />
<rect x="139.5" y="561.2" width="73.0" height="25.3" fill="#a4a4a4" />
<text x="100.1" y="419.6" font-size="7.4" text-anchor="middle" font-weight="normal" fill="#000" letter-spacing="0.1" stroke="#000" stroke-width="0.12">0.99</text>
<text x="125.0" y="419.6" font-size="7.4" text-anchor="middle" font-weight="normal" fill="#000" letter-spacing="0.1" stroke="#000" stroke-width="0.12">1.0</text>
<text x="150.0" y="419.6" font-size="7.4" text-anchor="middle" font-weight="normal" fill="#000" letter-spacing="0.1" stroke="#000" stroke-width="0.12">0.06</text>
<text x="176.0" y="419.6" font-size="7.4" text-anchor="middle" font-weight="normal" fill="#000" letter-spacing="0.1" stroke="#000" stroke-width="0.12">0.41</text>
<text x="199.7" y="419.6" font-size="7.4" text-anchor="middle" font-weight="normal" fill="#000" letter-spacing="0.1" stroke="#000" stroke-width="0.12">1.0</text>
<text x="100.7" y="458.7" font-size="7.4" text-anchor="middle" font-weight="normal" fill="#000" letter-spacing="0.1" stroke="#000" stroke-width="0.12">0.29</text>
<text x="125.0" y="458.7" font-size="7.4" text-anchor="middle" font-weight="normal" fill="#000" letter-spacing="0.1" stroke="#000" stroke-width="0.12">1.0</text>
<text x="151.1" y="458.7" font-size="7.4" text-anchor="middle" font-weight="normal" fill="#000" letter-spacing="0.1" stroke="#000" stroke-width="0.12">0.12</text>
<text x="177.7" y="458.7" font-size="7.4" text-anchor="middle" font-weight="normal" fill="#000" letter-spacing="0.1" stroke="#000" stroke-width="0.12">0.51</text>
<text x="201.4" y="458.7" font-size="7.4" text-anchor="middle" font-weight="normal" fill="#000" letter-spacing="0.1" stroke="#000" stroke-width="0.12">1.0</text>
<text x="99.2" y="493.2" font-size="7.4" text-anchor="middle" font-weight="normal" fill="#000" letter-spacing="0.1" stroke="#000" stroke-width="0.12">0.46</text>
<text x="123.8" y="493.2" font-size="7.4" text-anchor="middle" font-weight="normal" fill="#000" letter-spacing="0.1" stroke="#000" stroke-width="0.12">1.0</text>
<text x="150.2" y="493.2" font-size="7.4" text-anchor="middle" font-weight="normal" fill="#000" letter-spacing="0.1" stroke="#000" stroke-width="0.12">0.064</text>
<text x="177.0" y="493.2" font-size="7.4" text-anchor="middle" font-weight="normal" fill="#000" letter-spacing="0.1" stroke="#000" stroke-width="0.12">0.18</text>
<text x="202.0" y="493.2" font-size="7.4" text-anchor="middle" font-weight="normal" fill="#000" letter-spacing="0.1" stroke="#000" stroke-width="0.12">1.0</text>
<text x="99.6" y="527.1" font-size="7.4" text-anchor="middle" font-weight="normal" fill="#000" letter-spacing="0.1" stroke="#000" stroke-width="0.12">0.65</text>
<text x="124.3" y="527.1" font-size="7.4" text-anchor="middle" font-weight="normal" fill="#000" letter-spacing="0.1" stroke="#000" stroke-width="0.12">1.0</text>
<text x="151.3" y="527.1" font-size="7.4" text-anchor="middle" font-weight="normal" fill="#000" letter-spacing="0.1" stroke="#000" stroke-width="0.12">0.051</text>
<text x="176.2" y="527.1" font-size="7.4" text-anchor="middle" font-weight="normal" fill="#000" letter-spacing="0.1" stroke="#000" stroke-width="0.12">0.16</text>
<text x="202.5" y="527.1" font-size="7.4" text-anchor="middle" font-weight="normal" fill="#000" letter-spacing="0.1" stroke="#000" stroke-width="0.12">1.0</text>
<text x="99.5" y="556.9" font-size="7.4" text-anchor="middle" font-weight="normal" fill="#000" letter-spacing="0.1" stroke="#000" stroke-width="0.12">1. 0</text>
<text x="126.0" y="556.9" font-size="7.4" text-anchor="middle" font-weight="normal" fill="#000" letter-spacing="0.1" stroke="#000" stroke-width="0.12">0.92</text>
<text x="152.0" y="556.9" font-size="7.4" text-anchor="middle" font-weight="normal" fill="#000" letter-spacing="0.1" stroke="#000" stroke-width="0.12">0.17</text>
<text x="177.0" y="556.9" font-size="7.4" text-anchor="middle" font-weight="normal" fill="#000" letter-spacing="0.1" stroke="#000" stroke-width="0.12">0.45</text>
<text x="203.2" y="556.9" font-size="7.4" text-anchor="middle" font-weight="normal" fill="#000" letter-spacing="0.1" stroke="#000" stroke-width="0.12">1.0</text>
<text x="221.5" y="397.2" font-size="8.6" text-anchor="start" font-weight="normal" fill="#000"  stroke="#000" stroke-width="0.18">α-Fasn</text>
<text x="227.0" y="445.7" font-size="8.6" text-anchor="start" font-weight="normal" fill="#000"  stroke="#000" stroke-width="0.18">α-Hif-1α</text>
<text x="222.3" y="473.6" font-size="8.6" text-anchor="start" font-weight="normal" fill="#000"  stroke="#000" stroke-width="0.18">α-Hif-2α</text>
<text x="225.0" y="521.1" font-size="8.6" text-anchor="start" font-weight="normal" fill="#000"  stroke="#000" stroke-width="0.18">α-Redd1</text>
<text x="221.0" y="544.3" font-size="8.6" text-anchor="start" font-weight="normal" fill="#000"  stroke="#000" stroke-width="0.18">α-SREBP1</text>
<text x="222.3" y="576.4" font-size="8.6" text-anchor="start" font-weight="normal" fill="#000"  stroke="#000" stroke-width="0.18">α-actin</text>
<line x1="220.0" y1="435.2" x2="231.4" y2="435.2" stroke="#000" stroke-width="1.6" />
<path d="M216.0,435.2 L222.0,432.6 L220.5,435.2 L222.0,437.8 Z" fill="#000"/>
<line x1="222.5" y1="509.0" x2="234.0" y2="509.0" stroke="#000" stroke-width="1.6" />
<path d="M218.5,509.0 L224.5,506.4 L223.0,509.0 L224.5,511.6 Z" fill="#000"/>
<rect x="88.3" y="390.8" width="21.3" height="9.5" rx="3.0" fill="#000" fill-opacity="1.00" filter="url(#b1)"/>
<rect x="114.5" y="390.8" width="20.0" height="9.5" rx="3.0" fill="#000" fill-opacity="1.00" filter="url(#b1)"/>
<rect x="143.5" y="393.5" width="11.0" height="2.6" rx="1.3" fill="#000" fill-opacity="0.85" filter="url(#b1)"/>
<rect x="165.3" y="391.2" width="19.0" height="6.1" rx="2.0" fill="#000" fill-opacity="1.00" filter="url(#b1)"/>
<rect x="189.5" y="387.8" width="19.0" height="13.5" rx="4.3" fill="#000" fill-opacity="1.00" filter="url(#b1)"/>
<rect x="192.0" y="401.0" width="14.0" height="6.0" rx="3.0" fill="#000" fill-opacity="0.35" filter="url(#b2)"/>
<rect x="89.0" y="430.0" width="20.0" height="2.0" rx="1.0" fill="#000" fill-opacity="0.15" filter="url(#b1)"/>
<rect x="89.0" y="434.6" width="20.0" height="2.4" rx="1.2" fill="#000" fill-opacity="0.30" filter="url(#b1)"/>
<rect x="89.0" y="437.9" width="20.0" height="3.0" rx="1.5" fill="#000" fill-opacity="0.45" filter="url(#b1)"/>
<rect x="115.0" y="427.4" width="20.0" height="15.5" rx="5.0" fill="#000" fill-opacity="1.00" filter="url(#b1)"/>
<rect x="144.0" y="440.2" width="13.0" height="3.2" rx="1.6" fill="#000" fill-opacity="0.60" filter="url(#b1)"/>
<rect x="169.0" y="428.9" width="14.0" height="3.0" rx="1.5" fill="#000" fill-opacity="0.45" filter="url(#b1)"/>
<rect x="169.0" y="436.1" width="14.0" height="3.2" rx="1.6" fill="#000" fill-opacity="0.85" filter="url(#b1)"/>
<rect x="192.6" y="427.9" width="15.5" height="5.5" rx="1.8" fill="#000" fill-opacity="1.00" filter="url(#b1)"/>
<rect x="192.6" y="436.4" width="15.5" height="3.6" rx="1.8" fill="#000" fill-opacity="0.90" filter="url(#b1)"/>
<rect x="90.0" y="470.9" width="18.0" height="2.2" rx="1.1" fill="#000" fill-opacity="0.15" filter="url(#b1)"/>
<rect x="115.4" y="470.5" width="14.3" height="3.0" rx="1.5" fill="#000" fill-opacity="0.45" filter="url(#b1)"/>
<rect x="144.0" y="472.0" width="12.0" height="2.0" rx="1.0" fill="#000" fill-opacity="0.08" filter="url(#b1)"/>
<rect x="169.0" y="470.7" width="14.0" height="2.6" rx="1.3" fill="#000" fill-opacity="0.20" filter="url(#b1)"/>
<rect x="194.8" y="470.2" width="14.5" height="5.0" rx="1.6" fill="#000" fill-opacity="1.00" filter="url(#b1)"/>
<rect x="195.0" y="478.0" width="14.0" height="4.0" rx="2.0" fill="#000" fill-opacity="0.20" filter="url(#b2)"/>
<rect x="90.6" y="504.5" width="15.3" height="3.0" rx="1.5" fill="#000" fill-opacity="0.60" filter="url(#b1)"/>
<rect x="118.0" y="503.2" width="16.5" height="4.0" rx="2.0" fill="#000" fill-opacity="0.95" filter="url(#b1)"/>
<rect x="195.0" y="504.5" width="13.0" height="3.0" rx="1.5" fill="#000" fill-opacity="0.15" filter="url(#b1)"/>
<rect x="88.4" y="534.4" width="19.7" height="5.5" rx="1.8" fill="#000" fill-opacity="1.00" filter="url(#b1)"/>
<rect x="118.3" y="534.4" width="17.3" height="5.5" rx="1.8" fill="#000" fill-opacity="1.00" filter="url(#b1)"/>
<rect x="144.0" y="535.5" width="12.0" height="3.0" rx="1.5" fill="#000" fill-opacity="0.08" filter="url(#b1)"/>
<rect x="168.2" y="533.6" width="13.7" height="3.0" rx="1.5" fill="#000" fill-opacity="0.95" filter="url(#b1)"/>
<rect x="191.9" y="532.7" width="18.0" height="7.2" rx="2.3" fill="#000" fill-opacity="1.00" filter="url(#b1)"/>
<rect x="88.2" y="570.6" width="20.7" height="6.8" rx="3.2" fill="#000" fill-opacity="1.00" filter="url(#b07)"/>
<rect x="112.5" y="570.6" width="22.5" height="6.8" rx="3.2" fill="#000" fill-opacity="1.00" filter="url(#b07)"/>
<rect x="142.8" y="570.6" width="19.0" height="6.8" rx="3.2" fill="#000" fill-opacity="1.00" filter="url(#b07)"/>
<rect x="168.1" y="570.6" width="16.1" height="6.8" rx="3.2" fill="#000" fill-opacity="1.00" filter="url(#b07)"/>
<rect x="192.0" y="570.6" width="17.2" height="6.8" rx="3.2" fill="#000" fill-opacity="1.00" filter="url(#b07)"/>
<text x="301.1" y="14.6" font-size="15.4" text-anchor="start" font-weight="bold" fill="#000" >C</text>
<line x1="339.3" y1="25.6" x2="339.3" y2="212.7" stroke="#c4c4c4" stroke-width="0.9" />
<line x1="339.3" y1="212.7" x2="602.0" y2="212.7" stroke="#b0b0b0" stroke-width="0.9" />
<text x="327.7" y="215.9" font-size="9" text-anchor="middle" font-weight="normal" fill="#000"  stroke="#000" stroke-width="0.18">0</text>
<text x="327.7" y="192.2" font-size="9" text-anchor="middle" font-weight="normal" fill="#000"  stroke="#000" stroke-width="0.18">1</text>
<text x="327.7" y="168.8" font-size="9" text-anchor="middle" font-weight="normal" fill="#000"  stroke="#000" stroke-width="0.18">2</text>
<text x="327.7" y="145.4" font-size="9" text-anchor="middle" font-weight="normal" fill="#000"  stroke="#000" stroke-width="0.18">3</text>
<text x="327.7" y="121.5" font-size="9" text-anchor="middle" font-weight="normal" fill="#000"  stroke="#000" stroke-width="0.18">4</text>
<text x="327.7" y="97.5" font-size="9" text-anchor="middle" font-weight="normal" fill="#000"  stroke="#000" stroke-width="0.18">5</text>
<text x="327.7" y="74.9" font-size="9" text-anchor="middle" font-weight="normal" fill="#000"  stroke="#000" stroke-width="0.18">6</text>
<text x="327.7" y="51.7" font-size="9" text-anchor="middle" font-weight="normal" fill="#000"  stroke="#000" stroke-width="0.18">7</text>
<text x="327.7" y="30.3" font-size="9" text-anchor="middle" font-weight="normal" fill="#000"  stroke="#000" stroke-width="0.18">8</text>
<line x1="336.7" y1="189.1" x2="339.0" y2="189.1" stroke="#aaa" stroke-width="0.8" />
<line x1="336.7" y1="165.4" x2="339.0" y2="165.4" stroke="#aaa" stroke-width="0.8" />
<line x1="336.7" y1="142.0" x2="339.0" y2="142.0" stroke="#aaa" stroke-width="0.8" />
<line x1="336.7" y1="118.6" x2="339.0" y2="118.6" stroke="#aaa" stroke-width="0.8" />
<line x1="336.7" y1="95.0" x2="339.0" y2="95.0" stroke="#aaa" stroke-width="0.8" />
<line x1="336.7" y1="71.7" x2="339.0" y2="71.7" stroke="#aaa" stroke-width="0.8" />
<line x1="336.7" y1="48.7" x2="339.0" y2="48.7" stroke="#aaa" stroke-width="0.8" />
<line x1="392.0" y1="212.7" x2="392.0" y2="215.7" stroke="#888" stroke-width="0.8" />
<line x1="445.4" y1="212.7" x2="445.4" y2="215.7" stroke="#888" stroke-width="0.8" />
<line x1="498.0" y1="212.7" x2="498.0" y2="215.7" stroke="#888" stroke-width="0.8" />
<line x1="551.0" y1="212.7" x2="551.0" y2="215.7" stroke="#888" stroke-width="0.8" />
<text x="362.4" y="227.4" font-size="8.4" text-anchor="middle" font-weight="normal" fill="#000"  stroke="#000" stroke-width="0.18">Day 2</text>
<text x="417.0" y="227.4" font-size="8.4" text-anchor="middle" font-weight="normal" fill="#000"  stroke="#000" stroke-width="0.18">Day 5</text>
<text x="469.5" y="227.4" font-size="8.4" text-anchor="middle" font-weight="normal" fill="#000"  stroke="#000" stroke-width="0.18">Day 8</text>
<text x="522.0" y="227.4" font-size="8.4" text-anchor="middle" font-weight="normal" fill="#000"  stroke="#000" stroke-width="0.18">Day 11</text>
<text x="575.0" y="227.4" font-size="8.4" text-anchor="middle" font-weight="normal" fill="#000"  stroke="#000" stroke-width="0.18">Day 14</text>
<text transform="translate(311.5,108.3) rotate(-90)" font-size="8.4" text-anchor="middle" fill="#000"><tspan x="0" dy="-4.2">qPCR</tspan><tspan x="0" dy="9">Fold change</tspan></text>
<polyline points="366.0,189.5 418.4,160.0 471.0,122.0 524.0,119.0 576.8,125.0" fill="none" stroke="#e8336b" stroke-width="1.6" />
<polyline points="366.0,189.5 418.4,177.2 471.0,109.9 524.0,110.6 576.8,122.7" fill="none" stroke="#4f86c6" stroke-width="1.6" />
<polyline points="366.0,189.5 418.4,154.0 471.0,141.5 524.0,155.4 576.8,131.7" fill="none" stroke="#8fbc45" stroke-width="1.6" />
<polyline points="366.0,189.5 418.4,54.5 471.0,103.7 524.0,188.1 576.8,188.3" fill="none" stroke="#bcd4ee" stroke-width="1.4" />
<polyline points="366.0,189.5 418.4,179.8 471.0,88.8 524.0,95.1 576.8,79.3" fill="none" stroke="#8c6bb6" stroke-width="1.6" />
<polyline points="366.0,189.5 418.4,166.8 471.0,172.8 524.0,185.3 576.8,176.7" fill="none" stroke="#f8c48c" stroke-width="1.4" />
<polyline points="366.0,189.5 418.4,200.2 471.0,199.7 524.0,202.0 576.8,198.3" fill="none" stroke="#000" stroke-width="1.8" />
<polyline points="366.0,189.5 418.4,205.7 471.0,191.8 524.0,181.1 576.8,180.5" fill="none" stroke="#222" stroke-width="1.4" stroke-dasharray="4,2.5"/>
<line x1="418.0" y1="47.3" x2="418.0" y2="59.0" stroke="#333" stroke-width="0.7" />
<line x1="416.2" y1="47.3" x2="419.8" y2="47.3" stroke="#333" stroke-width="0.7" />
<line x1="416.2" y1="59.0" x2="419.8" y2="59.0" stroke="#333" stroke-width="0.7" />
<line x1="471.0" y1="82.0" x2="471.0" y2="97.0" stroke="#333" stroke-width="0.7" />
<line x1="469.2" y1="82.0" x2="472.8" y2="82.0" stroke="#333" stroke-width="0.7" />
<line x1="469.2" y1="97.0" x2="472.8" y2="97.0" stroke="#333" stroke-width="0.7" />
<line x1="471.0" y1="101.0" x2="471.0" y2="108.0" stroke="#333" stroke-width="0.7" />
<line x1="469.2" y1="101.0" x2="472.8" y2="101.0" stroke="#333" stroke-width="0.7" />
<line x1="469.2" y1="108.0" x2="472.8" y2="108.0" stroke="#333" stroke-width="0.7" />
<line x1="471.0" y1="114.0" x2="471.0" y2="127.0" stroke="#333" stroke-width="0.7" />
<line x1="469.2" y1="114.0" x2="472.8" y2="114.0" stroke="#333" stroke-width="0.7" />
<line x1="469.2" y1="127.0" x2="472.8" y2="127.0" stroke="#333" stroke-width="0.7" />
<line x1="471.0" y1="137.0" x2="471.0" y2="146.0" stroke="#333" stroke-width="0.7" />
<line x1="469.2" y1="137.0" x2="472.8" y2="137.0" stroke="#333" stroke-width="0.7" />
<line x1="469.2" y1="146.0" x2="472.8" y2="146.0" stroke="#333" stroke-width="0.7" />
<line x1="524.0" y1="90.0" x2="524.0" y2="100.0" stroke="#333" stroke-width="0.7" />
<line x1="522.2" y1="90.0" x2="525.8" y2="90.0" stroke="#333" stroke-width="0.7" />
<line x1="522.2" y1="100.0" x2="525.8" y2="100.0" stroke="#333" stroke-width="0.7" />
<line x1="524.0" y1="106.0" x2="524.0" y2="115.0" stroke="#333" stroke-width="0.7" />
<line x1="522.2" y1="106.0" x2="525.8" y2="106.0" stroke="#333" stroke-width="0.7" />
<line x1="522.2" y1="115.0" x2="525.8" y2="115.0" stroke="#333" stroke-width="0.7" />
<line x1="524.0" y1="113.0" x2="524.0" y2="125.0" stroke="#333" stroke-width="0.7" />
<line x1="522.2" y1="113.0" x2="525.8" y2="113.0" stroke="#333" stroke-width="0.7" />
<line x1="522.2" y1="125.0" x2="525.8" y2="125.0" stroke="#333" stroke-width="0.7" />
<line x1="524.0" y1="152.0" x2="524.0" y2="159.0" stroke="#333" stroke-width="0.7" />
<line x1="522.2" y1="152.0" x2="525.8" y2="152.0" stroke="#333" stroke-width="0.7" />
<line x1="522.2" y1="159.0" x2="525.8" y2="159.0" stroke="#333" stroke-width="0.7" />
<line x1="577.0" y1="72.0" x2="577.0" y2="86.0" stroke="#333" stroke-width="0.7" />
<line x1="575.2" y1="72.0" x2="578.8" y2="72.0" stroke="#333" stroke-width="0.7" />
<line x1="575.2" y1="86.0" x2="578.8" y2="86.0" stroke="#333" stroke-width="0.7" />
<line x1="577.0" y1="119.0" x2="577.0" y2="127.0" stroke="#333" stroke-width="0.7" />
<line x1="575.2" y1="119.0" x2="578.8" y2="119.0" stroke="#333" stroke-width="0.7" />
<line x1="575.2" y1="127.0" x2="578.8" y2="127.0" stroke="#333" stroke-width="0.7" />
<line x1="577.0" y1="123.0" x2="577.0" y2="130.0" stroke="#333" stroke-width="0.7" />
<line x1="575.2" y1="123.0" x2="578.8" y2="123.0" stroke="#333" stroke-width="0.7" />
<line x1="575.2" y1="130.0" x2="578.8" y2="130.0" stroke="#333" stroke-width="0.7" />
<line x1="577.0" y1="127.0" x2="577.0" y2="137.0" stroke="#333" stroke-width="0.7" />
<line x1="575.2" y1="127.0" x2="578.8" y2="127.0" stroke="#333" stroke-width="0.7" />
<line x1="575.2" y1="137.0" x2="578.8" y2="137.0" stroke="#333" stroke-width="0.7" />
<line x1="418.0" y1="149.0" x2="418.0" y2="158.0" stroke="#333" stroke-width="0.7" />
<line x1="416.2" y1="149.0" x2="419.8" y2="149.0" stroke="#333" stroke-width="0.7" />
<line x1="416.2" y1="158.0" x2="419.8" y2="158.0" stroke="#333" stroke-width="0.7" />
<line x1="418.0" y1="163.0" x2="418.0" y2="169.0" stroke="#333" stroke-width="0.7" />
<line x1="416.2" y1="163.0" x2="419.8" y2="163.0" stroke="#333" stroke-width="0.7" />
<line x1="416.2" y1="169.0" x2="419.8" y2="169.0" stroke="#333" stroke-width="0.7" />
<line x1="418.0" y1="175.0" x2="418.0" y2="179.0" stroke="#333" stroke-width="0.7" />
<line x1="416.2" y1="175.0" x2="419.8" y2="175.0" stroke="#333" stroke-width="0.7" />
<line x1="416.2" y1="179.0" x2="419.8" y2="179.0" stroke="#333" stroke-width="0.7" />
<line x1="471.0" y1="169.0" x2="471.0" y2="176.0" stroke="#333" stroke-width="0.7" />
<line x1="469.2" y1="169.0" x2="472.8" y2="169.0" stroke="#333" stroke-width="0.7" />
<line x1="469.2" y1="176.0" x2="472.8" y2="176.0" stroke="#333" stroke-width="0.7" />
<line x1="524.0" y1="185.0" x2="524.0" y2="190.0" stroke="#333" stroke-width="0.7" />
<line x1="522.2" y1="185.0" x2="525.8" y2="185.0" stroke="#333" stroke-width="0.7" />
<line x1="522.2" y1="190.0" x2="525.8" y2="190.0" stroke="#333" stroke-width="0.7" />
<line x1="577.0" y1="174.0" x2="577.0" y2="180.0" stroke="#333" stroke-width="0.7" />
<line x1="575.2" y1="174.0" x2="578.8" y2="174.0" stroke="#333" stroke-width="0.7" />
<line x1="575.2" y1="180.0" x2="578.8" y2="180.0" stroke="#333" stroke-width="0.7" />
<line x1="577.0" y1="185.0" x2="577.0" y2="189.0" stroke="#333" stroke-width="0.7" />
<line x1="575.2" y1="185.0" x2="578.8" y2="185.0" stroke="#333" stroke-width="0.7" />
<line x1="575.2" y1="189.0" x2="578.8" y2="189.0" stroke="#333" stroke-width="0.7" />
<line x1="524.0" y1="179.0" x2="524.0" y2="183.0" stroke="#333" stroke-width="0.7" />
<line x1="522.2" y1="179.0" x2="525.8" y2="179.0" stroke="#333" stroke-width="0.7" />
<line x1="522.2" y1="183.0" x2="525.8" y2="183.0" stroke="#333" stroke-width="0.7" />
<line x1="366.0" y1="187.0" x2="366.0" y2="191.0" stroke="#333" stroke-width="0.7" />
<line x1="364.2" y1="187.0" x2="367.8" y2="187.0" stroke="#333" stroke-width="0.7" />
<line x1="364.2" y1="191.0" x2="367.8" y2="191.0" stroke="#333" stroke-width="0.7" />
<circle cx="471.0" cy="199.7" r="1.2" fill="#000"/>
<circle cx="524.0" cy="202.0" r="1.2" fill="#000"/>
<text x="439.0" y="66.0" font-size="8.4" text-anchor="start" font-weight="normal" fill="#000"  stroke="#000" stroke-width="0.18">Redd1</text>
<text x="538.0" y="84.0" font-size="8.4" text-anchor="start" font-weight="normal" fill="#000"  stroke="#000" stroke-width="0.18">Pdk1</text>
<text x="546.0" y="113.5" font-size="8.4" text-anchor="start" font-weight="normal" fill="#000"  stroke="#000" stroke-width="0.18">Vegf<tspan font-size="7.2" dy="0.8">α</tspan></text>
<text x="532.0" y="130.5" font-size="8.4" text-anchor="start" font-weight="normal" fill="#000"  stroke="#000" stroke-width="0.18">Fasn</text>
<text x="548.5" y="152.0" font-size="8.4" text-anchor="start" font-weight="normal" fill="#000"  stroke="#000" stroke-width="0.18">Pgk1</text>
<text x="463.0" y="166.3" font-size="8.4" text-anchor="start" font-weight="normal" fill="#000"  stroke="#000" stroke-width="0.18">Pkm2</text>
<text x="490.5" y="197.0" font-size="8.4" text-anchor="start" font-weight="normal" fill="#000"  stroke="#000" stroke-width="0.18">Hif-2α</text>
<text x="552.6" y="209.0" font-size="8.4" text-anchor="start" font-weight="normal" fill="#000"  stroke="#000" stroke-width="0.18">Hif-1α</text>
<text x="434.4" y="187.4" font-size="8.6" text-anchor="start" font-weight="bold" fill="#e8212e" >Vegfα</text>
<line x1="424.0" y1="179.8" x2="437.5" y2="189.0" stroke="#e8212e" stroke-width="1.0" />
<polyline points="420.0,196.4 425.0,196.4 425.0,208.8 420.0,208.8" fill="none" stroke="#e8212e" stroke-width="1.1"/>
<polyline points="473.0,168.8 478.4,168.8 478.4,205.3 473.0,205.3" fill="none" stroke="#e8212e" stroke-width="1.1"/>
<polyline points="525.0,176.8 531.0,176.8 531.0,206.0 525.0,206.0" fill="none" stroke="#e8212e" stroke-width="1.1"/>
<polyline points="578.7,172.8 583.4,172.8 583.4,201.3 578.7,201.3" fill="none" stroke="#e8212e" stroke-width="1.1"/>
<line x1="596.5" y1="62.4" x2="612.0" y2="62.4" stroke="#e8336b" stroke-width="1.6" />
<text x="618.0" y="65.4" font-size="8.4" text-anchor="start" font-weight="normal" fill="#000"  stroke="#000" stroke-width="0.18">Fasn</text>
<line x1="596.5" y1="77.7" x2="612.0" y2="77.7" stroke="#4f86c6" stroke-width="1.6" />
<text x="618.0" y="80.7" font-size="8.4" text-anchor="start" font-weight="normal" fill="#000"  stroke="#000" stroke-width="0.18">Vegf<tspan font-size="7.2" dy="0.8">α</tspan></text>
<line x1="596.5" y1="92.9" x2="612.0" y2="92.9" stroke="#8fbc45" stroke-width="1.6" />
<text x="618.0" y="95.9" font-size="8.4" text-anchor="start" font-weight="normal" fill="#000"  stroke="#000" stroke-width="0.18">Pgk1</text>
<line x1="596.5" y1="108.2" x2="612.0" y2="108.2" stroke="#bcd4ee" stroke-width="1.6" />
<text x="618.0" y="111.2" font-size="8.4" text-anchor="start" font-weight="normal" fill="#000"  stroke="#000" stroke-width="0.18">Redd1</text>
<line x1="596.5" y1="123.4" x2="612.0" y2="123.4" stroke="#8c6bb6" stroke-width="1.6" />
<text x="618.0" y="126.4" font-size="8.4" text-anchor="start" font-weight="normal" fill="#000"  stroke="#000" stroke-width="0.18">Pdk1</text>
<line x1="596.5" y1="138.7" x2="612.0" y2="138.7" stroke="#f8c48c" stroke-width="1.6" />
<text x="618.0" y="141.7" font-size="8.4" text-anchor="start" font-weight="normal" fill="#000"  stroke="#000" stroke-width="0.18">Pkm2</text>
<line x1="596.5" y1="153.9" x2="612.0" y2="153.9" stroke="#000" stroke-width="1.6" />
<text x="618.0" y="156.9" font-size="8.4" text-anchor="start" font-weight="normal" fill="#000"  stroke="#000" stroke-width="0.18">Hif-1α</text>
<line x1="596.5" y1="169.2" x2="612.0" y2="169.2" stroke="#222" stroke-width="1.6" stroke-dasharray="4,2.5"/>
<text x="618.0" y="172.2" font-size="8.4" text-anchor="start" font-weight="normal" fill="#000"  stroke="#000" stroke-width="0.18">Hif-2α</text>
<rect x="338" y="235.5" width="49.8" height="37.4" fill="#888" filter="url(#tx0)"/>
<rect x="367.9" y="268.4" width="17.93" height="0.60" fill="#d8d040" fill-opacity="0.6"/>
<rect x="373.9" y="267.7" width="3.50" height="1.40" fill="#f0e040" fill-opacity="0.8"/>
<rect x="391.2" y="235.5" width="50.2" height="37.4" fill="#888" filter="url(#tx1)"/>
<rect x="421.3" y="268.4" width="18.07" height="0.60" fill="#d8d040" fill-opacity="0.6"/>
<rect x="427.3" y="267.7" width="3.50" height="1.40" fill="#f0e040" fill-opacity="0.8"/>
<rect x="444.6" y="235.5" width="50.3" height="37.4" fill="#888" filter="url(#tx2)"/>
<rect x="474.8" y="268.4" width="18.11" height="0.60" fill="#d8d040" fill-opacity="0.6"/>
<rect x="480.8" y="267.7" width="3.50" height="1.40" fill="#f0e040" fill-opacity="0.8"/>
<rect x="498.3" y="235.5" width="50" height="37.4" fill="#888" filter="url(#tx3)"/>
<rect x="528.3" y="268.4" width="18.00" height="0.60" fill="#d8d040" fill-opacity="0.6"/>
<rect x="534.3" y="267.7" width="3.50" height="1.40" fill="#f0e040" fill-opacity="0.8"/>
<rect x="552" y="235.5" width="50.5" height="37.4" fill="#888" filter="url(#tx4)"/>
<rect x="582.3" y="268.4" width="18.18" height="0.60" fill="#d8d040" fill-opacity="0.6"/>
<rect x="588.4" y="267.7" width="3.50" height="1.40" fill="#f0e040" fill-opacity="0.8"/>
<text x="337.1" y="316.9" font-size="15" text-anchor="start" font-weight="bold" fill="#000" >D</text>
<text x="394.0" y="329.5" font-size="8.2" text-anchor="middle" font-weight="normal" fill="#000"  stroke="#000" stroke-width="0.18">1.0% to 21% O<tspan font-size="6" dy="0.8">2</tspan></text>
<text x="472.0" y="329.5" font-size="8.2" text-anchor="middle" font-weight="normal" fill="#000"  stroke="#000" stroke-width="0.18">1.0% O<tspan font-size="6" dy="0.8">2</tspan><tspan dy="-1.5"> + CHX</tspan></text>
<text x="556.3" y="328.5" font-size="8.5" text-anchor="middle" font-weight="normal" fill="#000"  stroke="#000" stroke-width="0.18">differentiated + CHX</text>
<line x1="350.0" y1="333.4" x2="427.0" y2="333.4" stroke="#000" stroke-width="1.3" />
<line x1="436.3" y1="333.4" x2="509.0" y2="333.4" stroke="#000" stroke-width="1.3" />
<line x1="517.7" y1="333.4" x2="591.5" y2="333.4" stroke="#000" stroke-width="1.3" />
<text x="356.0" y="345.4" font-size="8.2" text-anchor="middle" font-weight="normal" fill="#000"  stroke="#000" stroke-width="0.18">0</text>
<text x="377.9" y="345.4" font-size="8.2" text-anchor="middle" font-weight="normal" fill="#000"  stroke="#000" stroke-width="0.18">5</text>
<text x="399.3" y="345.4" font-size="8.2" text-anchor="middle" font-weight="normal" fill="#000"  stroke="#000" stroke-width="0.18">10</text>
<text x="420.2" y="345.4" font-size="8.2" text-anchor="middle" font-weight="normal" fill="#000"  stroke="#000" stroke-width="0.18">30</text>
<text x="441.6" y="345.4" font-size="8.2" text-anchor="middle" font-weight="normal" fill="#000"  stroke="#000" stroke-width="0.18">0</text>
<text x="460.5" y="345.4" font-size="8.2" text-anchor="middle" font-weight="normal" fill="#000"  stroke="#000" stroke-width="0.18">30</text>
<text x="482.4" y="345.4" font-size="8.2" text-anchor="middle" font-weight="normal" fill="#000"  stroke="#000" stroke-width="0.18">60</text>
<text x="501.3" y="345.4" font-size="8.2" text-anchor="middle" font-weight="normal" fill="#000"  stroke="#000" stroke-width="0.18">120</text>
<text x="522.7" y="345.4" font-size="8.2" text-anchor="middle" font-weight="normal" fill="#000"  stroke="#000" stroke-width="0.18">0</text>
<text x="542.4" y="345.4" font-size="8.2" text-anchor="middle" font-weight="normal" fill="#000"  stroke="#000" stroke-width="0.18">30</text>
<text x="563.8" y="345.4" font-size="8.2" text-anchor="middle" font-weight="normal" fill="#000"  stroke="#000" stroke-width="0.18">60</text>
<text x="583.7" y="345.4" font-size="8.2" text-anchor="middle" font-weight="normal" fill="#000"  stroke="#000" stroke-width="0.18">120</text>
<text x="610.2" y="324.6" font-size="8.4" text-anchor="start" font-weight="normal" fill="#000"  stroke="#000" stroke-width="0.18">IB:</text>
<text x="606.4" y="345.4" font-size="8.2" text-anchor="start" font-weight="normal" fill="#000"  stroke="#000" stroke-width="0.18">(min)</text>
<rect x="346.2" y="350.4" width="249.4" height="24.4" fill="#9e9e9e" />
<rect x="346.2" y="379.2" width="249.4" height="32.3" fill="#9e9e9e" />
<rect x="346.2" y="415.2" width="249.4" height="35.3" fill="#9e9e9e" />
<text x="606.4" y="368.4" font-size="8.8" text-anchor="start" font-weight="normal" fill="#000"  stroke="#000" stroke-width="0.18">α-Fasn</text>
<text x="606.4" y="398.8" font-size="8.8" text-anchor="start" font-weight="normal" fill="#000"  stroke="#000" stroke-width="0.18">α-Hif-1α</text>
<text x="606.4" y="435.0" font-size="8.8" text-anchor="start" font-weight="normal" fill="#000"  stroke="#000" stroke-width="0.18">α-actin</text>
<line x1="599.8" y1="397.4" x2="599.8" y2="404.5" stroke="#000" stroke-width="1.6" />
<rect x="349.6" y="360.1" width="15.5" height="4.6" rx="2.1" fill="#000" fill-opacity="1.00" filter="url(#b07)"/>
<rect x="371.5" y="361.0" width="15.0" height="4.2" rx="1.9" fill="#000" fill-opacity="1.00" filter="url(#b07)"/>
<rect x="392.2" y="359.7" width="15.5" height="4.6" rx="2.1" fill="#000" fill-opacity="1.00" filter="url(#b07)"/>
<rect x="413.4" y="360.3" width="15.2" height="4.6" rx="2.1" fill="#000" fill-opacity="1.00" filter="url(#b07)"/>
<rect x="434.4" y="360.3" width="14.5" height="4.2" rx="1.9" fill="#000" fill-opacity="1.00" filter="url(#b07)"/>
<rect x="455.0" y="360.1" width="13.0" height="3.8" rx="1.7" fill="#000" fill-opacity="0.95" filter="url(#b07)"/>
<rect x="475.8" y="359.7" width="13.0" height="3.8" rx="1.7" fill="#000" fill-opacity="0.95" filter="url(#b07)"/>
<rect x="496.8" y="360.0" width="12.5" height="3.3" rx="1.5" fill="#000" fill-opacity="0.90" filter="url(#b07)"/>
<rect x="515.5" y="357.7" width="17.0" height="7.0" rx="3.1" fill="#000" fill-opacity="1.00" filter="url(#b07)"/>
<rect x="536.2" y="357.2" width="17.0" height="7.5" rx="3.4" fill="#000" fill-opacity="1.00" filter="url(#b07)"/>
<rect x="556.7" y="358.2" width="16.0" height="6.5" rx="2.9" fill="#000" fill-opacity="1.00" filter="url(#b07)"/>
<rect x="576.3" y="358.2" width="16.0" height="6.5" rx="2.9" fill="#000" fill-opacity="1.00" filter="url(#b07)"/>
<rect x="435.7" y="365.0" width="12.0" height="3.0" rx="1.5" fill="#000" fill-opacity="0.35" filter="url(#b1)"/>
<rect x="456.5" y="364.8" width="10.0" height="2.5" rx="1.2" fill="#000" fill-opacity="0.20" filter="url(#b1)"/>
<rect x="348.8" y="381.0" width="15.0" height="24.0" fill="#000" fill-opacity="0.06" filter="url(#b1)"/>
<rect x="369.6" y="381.0" width="15.0" height="24.0" fill="#000" fill-opacity="0.06" filter="url(#b1)"/>
<rect x="391.5" y="381.0" width="15.0" height="24.0" fill="#000" fill-opacity="0.06" filter="url(#b1)"/>
<rect x="411.2" y="381.0" width="15.0" height="24.0" fill="#000" fill-opacity="0.06" filter="url(#b1)"/>
<rect x="432.7" y="381.0" width="15.0" height="24.0" fill="#000" fill-opacity="0.06" filter="url(#b1)"/>
<rect x="452.7" y="381.0" width="15.0" height="24.0" fill="#000" fill-opacity="0.06" filter="url(#b1)"/>
<rect x="472.7" y="381.0" width="15.0" height="24.0" fill="#000" fill-opacity="0.06" filter="url(#b1)"/>
<rect x="494.3" y="381.0" width="15.0" height="24.0" fill="#000" fill-opacity="0.06" filter="url(#b1)"/>
<rect x="515.8" y="381.0" width="15.0" height="24.0" fill="#000" fill-opacity="0.06" filter="url(#b1)"/>
<rect x="536.6" y="381.0" width="15.0" height="24.0" fill="#000" fill-opacity="0.06" filter="url(#b1)"/>
<rect x="556.6" y="381.0" width="15.0" height="24.0" fill="#000" fill-opacity="0.06" filter="url(#b1)"/>
<rect x="576.3" y="381.0" width="15.0" height="24.0" fill="#000" fill-opacity="0.06" filter="url(#b1)"/>
<rect x="348.8" y="391.5" width="15.0" height="9.0" rx="4.5" fill="#000" fill-opacity="1.00" filter="url(#b1)"/>
<rect x="371.1" y="394.5" width="12.0" height="5.0" rx="2.5" fill="#000" fill-opacity="0.30" filter="url(#b1)"/>
<rect x="393.0" y="395.0" width="12.0" height="4.0" rx="2.0" fill="#000" fill-opacity="0.22" filter="url(#b1)"/>
<rect x="412.7" y="396.8" width="12.0" height="3.5" rx="1.8" fill="#000" fill-opacity="0.28" filter="url(#b1)"/>
<rect x="433.7" y="393.5" width="13.0" height="6.0" rx="3.0" fill="#000" fill-opacity="0.60" filter="url(#b1)"/>
<rect x="454.2" y="395.0" width="12.0" height="4.0" rx="2.0" fill="#000" fill-opacity="0.25" filter="url(#b1)"/>
<rect x="474.7" y="396.5" width="11.0" height="3.0" rx="1.5" fill="#000" fill-opacity="0.12" filter="url(#b1)"/>
<rect x="496.3" y="397.0" width="11.0" height="3.0" rx="1.5" fill="#000" fill-opacity="0.15" filter="url(#b1)"/>
<rect x="516.8" y="395.8" width="13.0" height="4.5" rx="2.2" fill="#000" fill-opacity="0.70" filter="url(#b1)"/>
<rect x="538.1" y="396.0" width="12.0" height="4.0" rx="2.0" fill="#000" fill-opacity="0.30" filter="url(#b1)"/>
<rect x="558.1" y="396.0" width="12.0" height="4.0" rx="2.0" fill="#000" fill-opacity="0.25" filter="url(#b1)"/>
<rect x="577.8" y="396.0" width="12.0" height="4.0" rx="2.0" fill="#000" fill-opacity="0.25" filter="url(#b1)"/>
<rect x="349.8" y="386.0" width="13.0" height="8.0" rx="4.0" fill="#000" fill-opacity="0.35" filter="url(#b2)"/>
<rect x="434.2" y="386.5" width="12.0" height="7.0" rx="3.5" fill="#000" fill-opacity="0.25" filter="url(#b2)"/>
<rect x="371.6" y="388.0" width="11.0" height="6.0" rx="3.0" fill="#000" fill-opacity="0.12" filter="url(#b2)"/>
<ellipse cx="358.2" cy="430.5" rx="11.2" ry="4.4" fill="#000" filter="url(#b07)"/>
<rect x="350.2" y="426.3" width="16" height="8.4" rx="3.5" fill="#000" filter="url(#b07)"/>
<ellipse cx="379.0" cy="430.5" rx="11.2" ry="4.4" fill="#000" filter="url(#b07)"/>
<rect x="371.0" y="426.3" width="16" height="8.4" rx="3.5" fill="#000" filter="url(#b07)"/>
<ellipse cx="399.8" cy="431.0" rx="11.2" ry="4.4" fill="#000" filter="url(#b07)"/>
<rect x="391.8" y="426.8" width="16" height="8.4" rx="3.5" fill="#000" filter="url(#b07)"/>
<ellipse cx="420.6" cy="431.5" rx="11.2" ry="4.4" fill="#000" filter="url(#b07)"/>
<rect x="412.6" y="427.3" width="16" height="8.4" rx="3.5" fill="#000" filter="url(#b07)"/>
<ellipse cx="442.5" cy="431.5" rx="11.2" ry="4.4" fill="#000" filter="url(#b07)"/>
<rect x="434.5" y="427.3" width="16" height="8.4" rx="3.5" fill="#000" filter="url(#b07)"/>
<ellipse cx="462.9" cy="431.0" rx="11.2" ry="4.4" fill="#000" filter="url(#b07)"/>
<rect x="454.9" y="426.8" width="16" height="8.4" rx="3.5" fill="#000" filter="url(#b07)"/>
<ellipse cx="484.0" cy="431.0" rx="11.2" ry="4.4" fill="#000" filter="url(#b07)"/>
<rect x="476.0" y="426.8" width="16" height="8.4" rx="3.5" fill="#000" filter="url(#b07)"/>
<ellipse cx="505.6" cy="432.0" rx="11.2" ry="4.4" fill="#000" filter="url(#b07)"/>
<rect x="497.6" y="427.8" width="16" height="8.4" rx="3.5" fill="#000" filter="url(#b07)"/>
<ellipse cx="524.4" cy="431.5" rx="11.2" ry="4.4" fill="#000" filter="url(#b07)"/>
<rect x="516.4" y="427.3" width="16" height="8.4" rx="3.5" fill="#000" filter="url(#b07)"/>
<ellipse cx="545.2" cy="431.0" rx="11.2" ry="4.4" fill="#000" filter="url(#b07)"/>
<rect x="537.2" y="426.8" width="16" height="8.4" rx="3.5" fill="#000" filter="url(#b07)"/>
<ellipse cx="565.2" cy="431.0" rx="11.2" ry="4.4" fill="#000" filter="url(#b07)"/>
<rect x="557.2" y="426.8" width="16" height="8.4" rx="3.5" fill="#000" filter="url(#b07)"/>
<ellipse cx="584.9" cy="431.0" rx="11.2" ry="4.4" fill="#000" filter="url(#b07)"/>
<rect x="576.9" y="426.8" width="16" height="8.4" rx="3.5" fill="#000" filter="url(#b07)"/>
<line x1="358.6" y1="551.5" x2="462.7" y2="551.5" stroke="#c8c8c8" stroke-width="0.9" />
<line x1="469.3" y1="551.5" x2="507.3" y2="551.5" stroke="#c8c8c8" stroke-width="0.9" />
<line x1="512.7" y1="551.5" x2="560.0" y2="551.5" stroke="#c8c8c8" stroke-width="0.9" />
<line x1="358.6" y1="533.3" x2="462.7" y2="533.3" stroke="#c8c8c8" stroke-width="0.9" />
<line x1="469.3" y1="533.3" x2="507.3" y2="533.3" stroke="#c8c8c8" stroke-width="0.9" />
<line x1="512.7" y1="533.3" x2="560.0" y2="533.3" stroke="#c8c8c8" stroke-width="0.9" />
<line x1="358.6" y1="515.2" x2="462.7" y2="515.2" stroke="#c8c8c8" stroke-width="0.9" />
<line x1="469.3" y1="515.2" x2="507.3" y2="515.2" stroke="#c8c8c8" stroke-width="0.9" />
<line x1="512.7" y1="515.2" x2="560.0" y2="515.2" stroke="#c8c8c8" stroke-width="0.9" />
<line x1="358.6" y1="497.0" x2="462.7" y2="497.0" stroke="#c8c8c8" stroke-width="0.9" />
<line x1="469.3" y1="497.0" x2="507.3" y2="497.0" stroke="#c8c8c8" stroke-width="0.9" />
<line x1="512.7" y1="497.0" x2="560.0" y2="497.0" stroke="#c8c8c8" stroke-width="0.9" />
<line x1="358.6" y1="478.9" x2="462.7" y2="478.9" stroke="#c8c8c8" stroke-width="0.9" />
<line x1="469.3" y1="478.9" x2="507.3" y2="478.9" stroke="#c8c8c8" stroke-width="0.9" />
<line x1="512.7" y1="478.9" x2="560.0" y2="478.9" stroke="#c8c8c8" stroke-width="0.9" />
<line x1="358.6" y1="460.7" x2="462.7" y2="460.7" stroke="#c8c8c8" stroke-width="0.9" />
<line x1="469.3" y1="460.7" x2="507.3" y2="460.7" stroke="#c8c8c8" stroke-width="0.9" />
<line x1="512.7" y1="460.7" x2="560.0" y2="460.7" stroke="#c8c8c8" stroke-width="0.9" />
<line x1="358.6" y1="569.6" x2="462.7" y2="569.6" stroke="#999" stroke-width="0.9" />
<line x1="469.3" y1="569.6" x2="507.3" y2="569.6" stroke="#999" stroke-width="0.9" />
<line x1="512.7" y1="569.6" x2="560.0" y2="569.6" stroke="#999" stroke-width="0.9" />
<line x1="358.6" y1="460.0" x2="358.6" y2="569.6" stroke="#999" stroke-width="0.9" />
<text x="354.3" y="572.7" font-size="8.7" text-anchor="end" font-weight="normal" fill="#000"  stroke="#000" stroke-width="0.18">0</text>
<text x="354.3" y="554.6" font-size="8.7" text-anchor="end" font-weight="normal" fill="#000"  stroke="#000" stroke-width="0.18">0.2</text>
<text x="354.3" y="536.4" font-size="8.7" text-anchor="end" font-weight="normal" fill="#000"  stroke="#000" stroke-width="0.18">0.4</text>
<text x="354.3" y="518.3" font-size="8.7" text-anchor="end" font-weight="normal" fill="#000"  stroke="#000" stroke-width="0.18">0.6</text>
<text x="354.3" y="500.1" font-size="8.7" text-anchor="end" font-weight="normal" fill="#000"  stroke="#000" stroke-width="0.18">0.8</text>
<text x="354.3" y="482.0" font-size="8.7" text-anchor="end" font-weight="normal" fill="#000"  stroke="#000" stroke-width="0.18">1.0</text>
<text x="354.3" y="463.8" font-size="8.7" text-anchor="end" font-weight="normal" fill="#000"  stroke="#000" stroke-width="0.18">1.2</text>
<line x1="388.0" y1="569.6" x2="388.0" y2="572.1" stroke="#999" stroke-width="0.8" />
<line x1="416.7" y1="569.6" x2="416.7" y2="572.1" stroke="#999" stroke-width="0.8" />
<line x1="445.6" y1="569.6" x2="445.6" y2="572.1" stroke="#999" stroke-width="0.8" />
<line x1="475.0" y1="569.6" x2="475.0" y2="572.1" stroke="#999" stroke-width="0.8" />
<line x1="482.0" y1="569.6" x2="482.0" y2="572.1" stroke="#999" stroke-width="0.8" />
<line x1="488.3" y1="569.6" x2="488.3" y2="572.1" stroke="#999" stroke-width="0.8" />
<line x1="499.0" y1="569.6" x2="499.0" y2="572.1" stroke="#999" stroke-width="0.8" />
<line x1="505.0" y1="569.6" x2="505.0" y2="572.1" stroke="#999" stroke-width="0.8" />
<line x1="519.0" y1="569.6" x2="519.0" y2="572.1" stroke="#999" stroke-width="0.8" />
<line x1="531.7" y1="569.6" x2="531.7" y2="572.1" stroke="#999" stroke-width="0.8" />
<line x1="553.0" y1="569.6" x2="553.0" y2="572.1" stroke="#999" stroke-width="0.8" />
<line x1="560.0" y1="569.6" x2="560.0" y2="572.1" stroke="#999" stroke-width="0.8" />
<text transform="translate(334.3,514) rotate(-90)" font-size="8.8" text-anchor="middle" fill="#000" dy="3">Hif-1α protein</text>
<text x="388.0" y="583.3" font-size="8.2" text-anchor="middle" font-weight="normal" fill="#000"  stroke="#000" stroke-width="0.18">5</text>
<text x="416.7" y="583.3" font-size="8.2" text-anchor="middle" font-weight="normal" fill="#000"  stroke="#000" stroke-width="0.18">10</text>
<text x="443.7" y="583.3" font-size="8.2" text-anchor="middle" font-weight="normal" fill="#000"  stroke="#000" stroke-width="0.18">30</text>
<text x="488.3" y="583.3" font-size="8.2" text-anchor="middle" font-weight="normal" fill="#000"  stroke="#000" stroke-width="0.18">60</text>
<text x="531.7" y="583.3" font-size="8.2" text-anchor="middle" font-weight="normal" fill="#000"  stroke="#000" stroke-width="0.18">120</text>
<text x="561.7" y="583.3" font-size="8.2" text-anchor="start" font-weight="normal" fill="#000"  stroke="#000" stroke-width="0.18">(min)</text>
<path d="M358.6,478.6 C364,500 366,533 373.3,536 C378,541 382,541.4 388,541.4 L445.6,542.6" fill="none" stroke="#4a86c8" stroke-width="1.6"/>
<path d="M358.6,478.6 L445.6,527 L462.7,533.6 M469.3,535.7 C478,538 485,539.3 488.3,539.3 C496,540.3 502,540.2 507.3,540 M512.7,539.8 L531.7,539.3" fill="none" stroke="#cf4d43" stroke-width="1.6"/>
<path d="M358.6,478.6 L445.6,500.4 C452,502 456,502.3 462.7,502.3 M469.3,502.3 C476,501.5 482,501.7 488.3,501.7 L507.3,501.7 M512.7,501.7 L531.7,501.7" fill="none" stroke="#9bbb59" stroke-width="1.6"/>
<path d="M358.6,476.0 L361.0,478.6 L358.6,481.20000000000005 L356.20000000000005,478.6 Z" fill="#4a86c8"/>
<rect x="356.2" y="476.2" width="4.8" height="4.8" fill="#cf4d43" />
<path d="M358.6,476.2 L361.40000000000003,481.2 L355.8,481.2 Z" fill="#9bbb59"/>
<path d="M373.3,533.4 L375.7,536 L373.3,538.6 L370.90000000000003,536 Z" fill="#4a86c8"/>
<path d="M388,538.8 L390.4,541.4 L388,544.0 L385.6,541.4 Z" fill="#4a86c8"/>
<path d="M445.6,540.0 L448.0,542.6 L445.6,545.2 L443.20000000000005,542.6 Z" fill="#4a86c8"/>
<rect x="443.2" y="524.6" width="4.8" height="4.8" fill="#cf4d43" />
<rect x="485.9" y="536.9" width="4.8" height="4.8" fill="#cf4d43" />
<rect x="529.3" y="536.9" width="4.8" height="4.8" fill="#cf4d43" />
<path d="M445.6,497.59999999999997 L448.40000000000003,502.59999999999997 L442.8,502.59999999999997 Z" fill="#9bbb59"/>
<path d="M488.3,498.9 L491.1,503.9 L485.5,503.9 Z" fill="#9bbb59"/>
<path d="M531.7,498.9 L534.5,503.9 L528.9000000000001,503.9 Z" fill="#9bbb59"/>
<line x1="576.0" y1="505.0" x2="589.3" y2="505.0" stroke="#4a86c8" stroke-width="1.6" />
<path d="M582.6,502.4 L585.0,505 L582.6,507.6 L580.2,505 Z" fill="#4a86c8"/>
<text x="595.0" y="508.0" font-size="8.2" text-anchor="start" font-weight="normal" fill="#000"  stroke="#000" stroke-width="0.18">1% O<tspan font-size="5.5" dy="1.5">2</tspan><tspan dy="-1.5"> to 21% O</tspan><tspan font-size="5.5" dy="1.5">2</tspan></text>
<line x1="576.0" y1="519.3" x2="589.3" y2="519.3" stroke="#cf4d43" stroke-width="1.6" />
<rect x="580.2" y="516.9" width="4.8" height="4.8" fill="#cf4d43" />
<text x="595.0" y="522.3" font-size="8.2" text-anchor="start" font-weight="normal" fill="#000"  stroke="#000" stroke-width="0.18">1% O<tspan font-size="5.5" dy="1.5">2</tspan><tspan dy="-1.5"> + CHX</tspan></text>
<line x1="576.0" y1="532.3" x2="589.3" y2="532.3" stroke="#9bbb59" stroke-width="1.6" />
<path d="M582.6,529.5 L585.4,534.5 L579.8000000000001,534.5 Z" fill="#9bbb59"/>
<text x="595.0" y="535.3" font-size="8.2" text-anchor="start" font-weight="normal" fill="#000"  stroke="#000" stroke-width="0.18">differentiated + CHX</text>
<text x="30.0" y="624.6" font-size="15" text-anchor="start" font-weight="bold" fill="#000" >E</text>
<line x1="92.0" y1="634.5" x2="144.0" y2="634.5" stroke="#000" stroke-width="1.3" />
<line x1="92.5" y1="631.0" x2="92.5" y2="638.0" stroke="#000" stroke-width="1.1" />
<line x1="143.5" y1="631.0" x2="143.5" y2="638.0" stroke="#000" stroke-width="1.1" />
<text x="357.6" y="638.9" font-size="8.5" text-anchor="middle" font-weight="normal" fill="#000"  stroke="#000" stroke-width="0.18">- Patients -</text>
<text x="71.0" y="651.1" font-size="8.5" text-anchor="middle" font-weight="normal" fill="#000"  stroke="#000" stroke-width="0.18">FASN</text>
<text x="71.0" y="661.0" font-size="8.5" text-anchor="middle" font-weight="normal" fill="#000"  stroke="#000" stroke-width="0.18">PKM2</text>
<text x="71.0" y="671.0" font-size="8.5" text-anchor="middle" font-weight="normal" fill="#000"  stroke="#000" stroke-width="0.18">VEGFA</text>
<text x="71.0" y="680.9" font-size="8.5" text-anchor="middle" font-weight="normal" fill="#000"  stroke="#000" stroke-width="0.18">ADM</text>
<text x="71.0" y="690.9" font-size="8.5" text-anchor="middle" font-weight="normal" fill="#000"  stroke="#000" stroke-width="0.18">KDM3A</text>
<text x="71.0" y="700.9" font-size="8.5" text-anchor="middle" font-weight="normal" fill="#000"  stroke="#000" stroke-width="0.18">REDD1</text>
<text x="71.0" y="710.8" font-size="8.5" text-anchor="middle" font-weight="normal" fill="#000"  stroke="#000" stroke-width="0.18">PGK1</text>
<text x="71.0" y="720.8" font-size="8.5" text-anchor="middle" font-weight="normal" fill="#000"  stroke="#000" stroke-width="0.18">PDK1</text>
<text x="71.0" y="730.7" font-size="8.5" text-anchor="middle" font-weight="normal" fill="#000"  stroke="#000" stroke-width="0.18">HK2</text>
<text x="69.0" y="749.7" font-size="8.5" text-anchor="middle" font-weight="normal" fill="#000"  stroke="#000" stroke-width="0.18">PSA</text>
<text x="69.0" y="763.1" font-size="8.5" text-anchor="middle" font-weight="normal" fill="#000"  stroke="#000" stroke-width="0.18">M stage</text>
<text x="69.0" y="777.6" font-size="8.5" text-anchor="middle" font-weight="normal" fill="#000"  stroke="#000" stroke-width="0.18">Grade</text>
<text x="66.0" y="791.8" font-size="8.5" text-anchor="middle" font-weight="normal" fill="#000"  stroke="#000" stroke-width="0.18">Reccurence</text>
<rect x="91.0" y="642.9" width="2.55" height="10.01" fill="#f9d0d2" />
<rect x="93.5" y="642.9" width="2.55" height="10.01" fill="#c8a6c3" />
<rect x="96.0" y="642.9" width="2.55" height="10.01" fill="#5656b2" />
<rect x="98.5" y="642.9" width="2.55" height="10.01" fill="#4a4aad" />
<rect x="101.0" y="642.9" width="2.55" height="10.01" fill="#8d8dd1" />
<rect x="103.5" y="642.9" width="2.55" height="10.01" fill="#8686ce" />
<rect x="106.0" y="642.9" width="2.55" height="10.01" fill="#f8c9cb" />
<rect x="108.5" y="642.9" width="2.55" height="10.01" fill="#f5c8cc" />
<rect x="111.0" y="642.9" width="2.55" height="10.01" fill="#f9d0d2" />
<rect x="113.5" y="642.9" width="2.55" height="10.01" fill="#f8cacc" />
<rect x="116.0" y="642.9" width="2.55" height="10.01" fill="#f8cacc" />
<rect x="118.5" y="642.9" width="2.55" height="10.01" fill="#f8cacc" />
<rect x="121.0" y="642.9" width="2.55" height="10.01" fill="#fdf8f8" />
<rect x="123.5" y="642.9" width="2.55" height="10.01" fill="#fdf8f8" />
<rect x="126.0" y="642.9" width="2.55" height="10.01" fill="#fdf8f8" />
<rect x="128.5" y="642.9" width="2.55" height="10.01" fill="#fdf8f8" />
<rect x="131.0" y="642.9" width="2.55" height="10.01" fill="#e70812" />
<rect x="133.5" y="642.9" width="2.55" height="10.01" fill="#e81822" />
<rect x="136.0" y="642.9" width="2.55" height="10.01" fill="#f18890" />
<rect x="138.5" y="642.9" width="2.55" height="10.01" fill="#ef6972" />
<rect x="141.0" y="642.9" width="2.55" height="10.01" fill="#9797d5" />
<rect x="143.5" y="642.9" width="2.55" height="10.01" fill="#8080cb" />
<rect x="146.0" y="642.9" width="2.55" height="10.01" fill="#4545aa" />
<rect x="148.5" y="642.9" width="2.55" height="10.01" fill="#4e4eb0" />
<rect x="151.0" y="642.9" width="2.55" height="10.01" fill="#3a3aa5" />
<rect x="153.5" y="642.9" width="2.55" height="10.01" fill="#4040a8" />
<rect x="156.1" y="642.9" width="2.55" height="10.01" fill="#8888cf" />
<rect x="158.6" y="642.9" width="2.55" height="10.01" fill="#7a7ac8" />
<rect x="161.1" y="642.9" width="2.55" height="10.01" fill="#7f7fcc" />
<rect x="163.6" y="642.9" width="2.55" height="10.01" fill="#8a8ad0" />
<rect x="166.1" y="642.9" width="2.55" height="10.01" fill="#fdf8f8" />
<rect x="168.6" y="642.9" width="2.55" height="10.01" fill="#efebf3" />
<rect x="171.1" y="642.9" width="2.55" height="10.01" fill="#fdf8f8" />
<rect x="173.6" y="642.9" width="2.55" height="10.01" fill="#fdf8f8" />
<rect x="176.1" y="642.9" width="2.55" height="10.01" fill="#fdf8f8" />
<rect x="178.6" y="642.9" width="2.55" height="10.01" fill="#fdf8f8" />
<rect x="181.1" y="642.9" width="2.55" height="10.01" fill="#d8d8f0" />
<rect x="183.6" y="642.9" width="2.55" height="10.01" fill="#d5d4ef" />
<rect x="186.1" y="642.9" width="2.55" height="10.01" fill="#9b9bd7" />
<rect x="188.6" y="642.9" width="2.55" height="10.01" fill="#9494d4" />
<rect x="191.1" y="642.9" width="2.55" height="10.01" fill="#8f8fd2" />
<rect x="193.6" y="642.9" width="2.55" height="10.01" fill="#9898d5" />
<rect x="196.1" y="642.9" width="2.55" height="10.01" fill="#fdf8f8" />
<rect x="198.6" y="642.9" width="2.55" height="10.01" fill="#e2deef" />
<rect x="201.1" y="642.9" width="2.55" height="10.01" fill="#f8c9cb" />
<rect x="203.6" y="642.9" width="2.55" height="10.01" fill="#f4cbcf" />
<rect x="206.1" y="642.9" width="2.55" height="10.01" fill="#d6d6f0" />
<rect x="208.6" y="642.9" width="2.55" height="10.01" fill="#ddd0e4" />
<rect x="211.1" y="642.9" width="2.55" height="10.01" fill="#fdf8f8" />
<rect x="213.6" y="642.9" width="2.55" height="10.01" fill="#fbf6f8" />
<rect x="216.1" y="642.9" width="2.55" height="10.01" fill="#fdf8f8" />
<rect x="218.6" y="642.9" width="2.55" height="10.01" fill="#fdf8f8" />
<rect x="221.1" y="642.9" width="2.55" height="10.01" fill="#3535a3" />
<rect x="223.6" y="642.9" width="2.55" height="10.01" fill="#6d6cbb" />
<rect x="226.1" y="642.9" width="2.55" height="10.01" fill="#fdf8f8" />
<rect x="228.6" y="642.9" width="2.55" height="10.01" fill="#e4dfed" />
<rect x="231.1" y="642.9" width="2.55" height="10.01" fill="#f9cfd1" />
<rect x="233.6" y="642.9" width="2.55" height="10.01" fill="#f9d8d9" />
<rect x="236.1" y="642.9" width="2.55" height="10.01" fill="#f8c6c8" />
<rect x="238.6" y="642.9" width="2.55" height="10.01" fill="#e3becd" />
<rect x="241.1" y="642.9" width="2.55" height="10.01" fill="#7e7ecb" />
<rect x="243.6" y="642.9" width="2.55" height="10.01" fill="#8a8ad0" />
<rect x="246.1" y="642.9" width="2.55" height="10.01" fill="#7f7fcc" />
<rect x="248.6" y="642.9" width="2.55" height="10.01" fill="#7474c4" />
<rect x="251.1" y="642.9" width="2.55" height="10.01" fill="#5656b2" />
<rect x="253.6" y="642.9" width="2.55" height="10.01" fill="#4949ad" />
<rect x="256.1" y="642.9" width="2.55" height="10.01" fill="#cfcfed" />
<rect x="258.6" y="642.9" width="2.55" height="10.01" fill="#d0d0ed" />
<rect x="261.1" y="642.9" width="2.55" height="10.01" fill="#d6d6f0" />
<rect x="263.6" y="642.9" width="2.55" height="10.01" fill="#d5d5ef" />
<rect x="266.1" y="642.9" width="2.55" height="10.01" fill="#fdf8f8" />
<rect x="268.6" y="642.9" width="2.55" height="10.01" fill="#fdf8f8" />
<rect x="271.1" y="642.9" width="2.55" height="10.01" fill="#fdf8f8" />
<rect x="273.6" y="642.9" width="2.55" height="10.01" fill="#fcf7f8" />
<rect x="276.1" y="642.9" width="2.55" height="10.01" fill="#d5d5ef" />
<rect x="278.6" y="642.9" width="2.55" height="10.01" fill="#d5d4ef" />
<rect x="281.1" y="642.9" width="2.55" height="10.01" fill="#8989d0" />
<rect x="283.6" y="642.9" width="2.55" height="10.01" fill="#9797d5" />
<rect x="286.2" y="642.9" width="2.55" height="10.01" fill="#d4d4ef" />
<rect x="288.7" y="642.9" width="2.55" height="10.01" fill="#cfcfed" />
<rect x="291.2" y="642.9" width="2.55" height="10.01" fill="#8484cd" />
<rect x="293.7" y="642.9" width="2.55" height="10.01" fill="#9d9dd8" />
<rect x="296.2" y="642.9" width="2.55" height="10.01" fill="#8585ce" />
<rect x="298.7" y="642.9" width="2.55" height="10.01" fill="#8a8ad0" />
<rect x="301.2" y="642.9" width="2.55" height="10.01" fill="#8383cd" />
<rect x="303.7" y="642.9" width="2.55" height="10.01" fill="#8a8ad0" />
<rect x="306.2" y="642.9" width="2.55" height="10.01" fill="#3f3fa8" />
<rect x="308.7" y="642.9" width="2.55" height="10.01" fill="#4f4fb0" />
<rect x="311.2" y="642.9" width="2.55" height="10.01" fill="#4141a8" />
<rect x="313.7" y="642.9" width="2.55" height="10.01" fill="#4040a8" />
<rect x="316.2" y="642.9" width="2.55" height="10.01" fill="#4545aa" />
<rect x="318.7" y="642.9" width="2.55" height="10.01" fill="#4040a8" />
<rect x="321.2" y="642.9" width="2.55" height="10.01" fill="#9393d4" />
<rect x="323.7" y="642.9" width="2.55" height="10.01" fill="#8a8ad0" />
<rect x="326.2" y="642.9" width="2.55" height="10.01" fill="#9999d6" />
<rect x="328.7" y="642.9" width="2.55" height="10.01" fill="#8a8ad0" />
<rect x="331.2" y="642.9" width="2.55" height="10.01" fill="#8383cd" />
<rect x="333.7" y="642.9" width="2.55" height="10.01" fill="#8383cc" />
<rect x="336.2" y="642.9" width="2.55" height="10.01" fill="#4444aa" />
<rect x="338.7" y="642.9" width="2.55" height="10.01" fill="#4343aa" />
<rect x="341.2" y="642.9" width="2.55" height="10.01" fill="#5959b3" />
<rect x="343.7" y="642.9" width="2.55" height="10.01" fill="#4040a8" />
<rect x="346.2" y="642.9" width="2.55" height="10.01" fill="#8080cc" />
<rect x="348.7" y="642.9" width="2.55" height="10.01" fill="#7979c7" />
<rect x="351.2" y="642.9" width="2.55" height="10.01" fill="#ceceed" />
<rect x="353.7" y="642.9" width="2.55" height="10.01" fill="#c8c8ea" />
<rect x="356.2" y="642.9" width="2.55" height="10.01" fill="#8e8ed2" />
<rect x="358.7" y="642.9" width="2.55" height="10.01" fill="#9090d3" />
<rect x="361.2" y="642.9" width="2.55" height="10.01" fill="#8282cd" />
<rect x="363.7" y="642.9" width="2.55" height="10.01" fill="#8a8ad0" />
<rect x="366.2" y="642.9" width="2.55" height="10.01" fill="#d5d5ef" />
<rect x="368.7" y="642.9" width="2.55" height="10.01" fill="#d2d2ee" />
<rect x="371.2" y="642.9" width="2.55" height="10.01" fill="#d8d8f0" />
<rect x="373.7" y="642.9" width="2.55" height="10.01" fill="#d2d2ee" />
<rect x="376.2" y="642.9" width="2.55" height="10.01" fill="#4e4eaf" />
<rect x="378.7" y="642.9" width="2.55" height="10.01" fill="#4040a8" />
<rect x="381.2" y="642.9" width="2.55" height="10.01" fill="#4b4bad" />
<rect x="383.7" y="642.9" width="2.55" height="10.01" fill="#4040a8" />
<rect x="386.2" y="642.9" width="2.55" height="10.01" fill="#fdf8f8" />
<rect x="388.7" y="642.9" width="2.55" height="10.01" fill="#fbf6f7" />
<rect x="391.2" y="642.9" width="2.55" height="10.01" fill="#9c9cd7" />
<rect x="393.7" y="642.9" width="2.55" height="10.01" fill="#9191d3" />
<rect x="396.2" y="642.9" width="2.55" height="10.01" fill="#d2d2ee" />
<rect x="398.7" y="642.9" width="2.55" height="10.01" fill="#c8c8ea" />
<rect x="401.2" y="642.9" width="2.55" height="10.01" fill="#9494d4" />
<rect x="403.7" y="642.9" width="2.55" height="10.01" fill="#9d9dd8" />
<rect x="406.2" y="642.9" width="2.55" height="10.01" fill="#9999d6" />
<rect x="408.7" y="642.9" width="2.55" height="10.01" fill="#8a8ad0" />
<rect x="411.2" y="642.9" width="2.55" height="10.01" fill="#8c8cd1" />
<rect x="413.8" y="642.9" width="2.55" height="10.01" fill="#8888cf" />
<rect x="416.3" y="642.9" width="2.55" height="10.01" fill="#4141a8" />
<rect x="418.8" y="642.9" width="2.55" height="10.01" fill="#5353b2" />
<rect x="421.3" y="642.9" width="2.55" height="10.01" fill="#4848ac" />
<rect x="423.8" y="642.9" width="2.55" height="10.01" fill="#4040a8" />
<rect x="426.3" y="642.9" width="2.55" height="10.01" fill="#2d2da0" />
<rect x="428.8" y="642.9" width="2.55" height="10.01" fill="#5550ac" />
<rect x="431.3" y="642.9" width="2.55" height="10.01" fill="#f8cdcf" />
<rect x="433.8" y="642.9" width="2.55" height="10.01" fill="#f4c7cb" />
<rect x="436.3" y="642.9" width="2.55" height="10.01" fill="#fdf8f8" />
<rect x="438.8" y="642.9" width="2.55" height="10.01" fill="#fdf8f8" />
<rect x="441.3" y="642.9" width="2.55" height="10.01" fill="#fdf8f8" />
<rect x="443.8" y="642.9" width="2.55" height="10.01" fill="#fcf3f3" />
<rect x="446.3" y="642.9" width="2.55" height="10.01" fill="#f9d0d2" />
<rect x="448.8" y="642.9" width="2.55" height="10.01" fill="#f8cacc" />
<rect x="451.3" y="642.9" width="2.55" height="10.01" fill="#f8cccd" />
<rect x="453.8" y="642.9" width="2.55" height="10.01" fill="#f8cacc" />
<rect x="456.3" y="642.9" width="2.55" height="10.01" fill="#f8cbcd" />
<rect x="458.8" y="642.9" width="2.55" height="10.01" fill="#f9d2d4" />
<rect x="461.3" y="642.9" width="2.55" height="10.01" fill="#fdf8f8" />
<rect x="463.8" y="642.9" width="2.55" height="10.01" fill="#fcebeb" />
<rect x="466.3" y="642.9" width="2.55" height="10.01" fill="#f1838b" />
<rect x="468.8" y="642.9" width="2.55" height="10.01" fill="#f28e95" />
<rect x="471.3" y="642.9" width="2.55" height="10.01" fill="#f7c5c7" />
<rect x="473.8" y="642.9" width="2.55" height="10.01" fill="#f8cacc" />
<rect x="476.3" y="642.9" width="2.55" height="10.01" fill="#f8cdcf" />
<rect x="478.8" y="642.9" width="2.55" height="10.01" fill="#f8cacc" />
<rect x="481.3" y="642.9" width="2.55" height="10.01" fill="#f8c9cb" />
<rect x="483.8" y="642.9" width="2.55" height="10.01" fill="#f8cacc" />
<rect x="486.3" y="642.9" width="2.55" height="10.01" fill="#f8c8ca" />
<rect x="488.8" y="642.9" width="2.55" height="10.01" fill="#f8cacc" />
<rect x="491.3" y="642.9" width="2.55" height="10.01" fill="#f8c7c9" />
<rect x="493.8" y="642.9" width="2.55" height="10.01" fill="#f8cacc" />
<rect x="496.3" y="642.9" width="2.55" height="10.01" fill="#f9cfd1" />
<rect x="498.8" y="642.9" width="2.55" height="10.01" fill="#f8cacc" />
<rect x="501.3" y="642.9" width="2.55" height="10.01" fill="#f8cacc" />
<rect x="503.8" y="642.9" width="2.55" height="10.01" fill="#f8cacc" />
<rect x="506.3" y="642.9" width="2.55" height="10.01" fill="#8282cd" />
<rect x="508.8" y="642.9" width="2.55" height="10.01" fill="#8a8ad0" />
<rect x="511.3" y="642.9" width="2.55" height="10.01" fill="#9797d5" />
<rect x="513.8" y="642.9" width="2.55" height="10.01" fill="#a7a6da" />
<rect x="516.3" y="642.9" width="2.55" height="10.01" fill="#fdf8f8" />
<rect x="518.8" y="642.9" width="2.55" height="10.01" fill="#dcd9ed" />
<rect x="521.3" y="642.9" width="2.55" height="10.01" fill="#fdf8f8" />
<rect x="523.8" y="642.9" width="2.55" height="10.01" fill="#fceded" />
<rect x="526.3" y="642.9" width="2.55" height="10.01" fill="#f8c8ca" />
<rect x="528.8" y="642.9" width="2.55" height="10.01" fill="#f9d0d2" />
<rect x="531.3" y="642.9" width="2.55" height="10.01" fill="#3f3fa8" />
<rect x="533.8" y="642.9" width="2.55" height="10.01" fill="#6e62b1" />
<rect x="536.3" y="642.9" width="2.55" height="10.01" fill="#fdf8f8" />
<rect x="538.8" y="642.9" width="2.55" height="10.01" fill="#fcefef" />
<rect x="541.3" y="642.9" width="2.55" height="10.01" fill="#f9d0d1" />
<rect x="543.9" y="642.9" width="2.55" height="10.01" fill="#f4cbcf" />
<rect x="546.4" y="642.9" width="2.55" height="10.01" fill="#ceceec" />
<rect x="548.9" y="642.9" width="2.55" height="10.01" fill="#bfbfe6" />
<rect x="551.4" y="642.9" width="2.55" height="10.01" fill="#8787cf" />
<rect x="553.9" y="642.9" width="2.55" height="10.01" fill="#9e9dd7" />
<rect x="556.4" y="642.9" width="2.55" height="10.01" fill="#fdf8f8" />
<rect x="558.9" y="642.9" width="2.55" height="10.01" fill="#e7e3f0" />
<rect x="561.4" y="642.9" width="2.55" height="10.01" fill="#ceceec" />
<rect x="563.9" y="642.9" width="2.55" height="10.01" fill="#c8c8ea" />
<rect x="566.4" y="642.9" width="2.55" height="10.01" fill="#8282cd" />
<rect x="568.9" y="642.9" width="2.55" height="10.01" fill="#8a8ad0" />
<rect x="571.4" y="642.9" width="2.55" height="10.01" fill="#8282cd" />
<rect x="573.9" y="642.9" width="2.55" height="10.01" fill="#8a8ad0" />
<rect x="576.4" y="642.9" width="2.55" height="10.01" fill="#f8cdcf" />
<rect x="578.9" y="642.9" width="2.55" height="10.01" fill="#e3becd" />
<rect x="581.4" y="642.9" width="2.55" height="10.01" fill="#f8ced0" />
<rect x="583.9" y="642.9" width="2.55" height="10.01" fill="#d8b8cd" />
<rect x="586.4" y="642.9" width="2.55" height="10.01" fill="#8686ce" />
<rect x="588.9" y="642.9" width="2.55" height="10.01" fill="#a59acf" />
<rect x="591.4" y="642.9" width="2.55" height="10.01" fill="#4646ab" />
<rect x="593.9" y="642.9" width="2.55" height="10.01" fill="#5151b1" />
<rect x="596.4" y="642.9" width="2.55" height="10.01" fill="#fdf8f8" />
<rect x="598.9" y="642.9" width="2.55" height="10.01" fill="#f3eef4" />
<rect x="601.4" y="642.9" width="2.55" height="10.01" fill="#fdf8f8" />
<rect x="603.9" y="642.9" width="2.55" height="10.01" fill="#fdf8f8" />
<rect x="91.0" y="652.9" width="2.55" height="10.01" fill="#fdf8f8" />
<rect x="93.5" y="652.9" width="2.55" height="10.01" fill="#fcf3f3" />
<rect x="96.0" y="652.9" width="2.55" height="10.01" fill="#fdf8f8" />
<rect x="98.5" y="652.9" width="2.55" height="10.01" fill="#fdf8f8" />
<rect x="101.0" y="652.9" width="2.55" height="10.01" fill="#e81721" />
<rect x="103.5" y="652.9" width="2.55" height="10.01" fill="#e91b25" />
<rect x="106.0" y="652.9" width="2.55" height="10.01" fill="#f8ccce" />
<rect x="108.5" y="652.9" width="2.55" height="10.01" fill="#f6b5b8" />
<rect x="111.0" y="652.9" width="2.55" height="10.01" fill="#f8cdcf" />
<rect x="113.5" y="652.9" width="2.55" height="10.01" fill="#f8cacc" />
<rect x="116.0" y="652.9" width="2.55" height="10.01" fill="#f9d0d2" />
<rect x="118.5" y="652.9" width="2.55" height="10.01" fill="#f8cacc" />
<rect x="121.0" y="652.9" width="2.55" height="10.01" fill="#f9d1d2" />
<rect x="123.5" y="652.9" width="2.55" height="10.01" fill="#f8cacc" />
<rect x="126.0" y="652.9" width="2.55" height="10.01" fill="#d4d4ef" />
<rect x="128.5" y="652.9" width="2.55" height="10.01" fill="#ddd0e4" />
<rect x="131.0" y="652.9" width="2.55" height="10.01" fill="#d6d6ef" />
<rect x="133.5" y="652.9" width="2.55" height="10.01" fill="#d4cbe6" />
<rect x="136.0" y="652.9" width="2.55" height="10.01" fill="#ef727a" />
<rect x="138.5" y="652.9" width="2.55" height="10.01" fill="#ed858f" />
<rect x="141.0" y="652.9" width="2.55" height="10.01" fill="#f8cacc" />
<rect x="143.5" y="652.9" width="2.55" height="10.01" fill="#f8cacc" />
<rect x="146.0" y="652.9" width="2.55" height="10.01" fill="#f7c5c7" />
<rect x="148.5" y="652.9" width="2.55" height="10.01" fill="#ddb6c7" />
<rect x="151.0" y="652.9" width="2.55" height="10.01" fill="#2f2fa0" />
<rect x="153.5" y="652.9" width="2.55" height="10.01" fill="#5852ad" />
<rect x="156.1" y="652.9" width="2.55" height="10.01" fill="#9999d6" />
<rect x="158.6" y="652.9" width="2.55" height="10.01" fill="#8a8ad0" />
<rect x="161.1" y="652.9" width="2.55" height="10.01" fill="#8d8dd1" />
<rect x="163.6" y="652.9" width="2.55" height="10.01" fill="#8a8ad0" />
<rect x="166.1" y="652.9" width="2.55" height="10.01" fill="#8d8dd1" />
<rect x="168.6" y="652.9" width="2.55" height="10.01" fill="#a99ccf" />
<rect x="171.1" y="652.9" width="2.55" height="10.01" fill="#f8cbcd" />
<rect x="173.6" y="652.9" width="2.55" height="10.01" fill="#dfbbcd" />
<rect x="176.1" y="652.9" width="2.55" height="10.01" fill="#fdf8f8" />
<rect x="178.6" y="652.9" width="2.55" height="10.01" fill="#e0ddee" />
<rect x="181.1" y="652.9" width="2.55" height="10.01" fill="#9797d5" />
<rect x="183.6" y="652.9" width="2.55" height="10.01" fill="#9c9bd6" />
<rect x="186.1" y="652.9" width="2.55" height="10.01" fill="#d2d2ee" />
<rect x="188.6" y="652.9" width="2.55" height="10.01" fill="#c4c4e7" />
<rect x="191.1" y="652.9" width="2.55" height="10.01" fill="#3434a2" />
<rect x="193.6" y="652.9" width="2.55" height="10.01" fill="#4d4dae" />
<rect x="196.1" y="652.9" width="2.55" height="10.01" fill="#8484ce" />
<rect x="198.6" y="652.9" width="2.55" height="10.01" fill="#9e9dd7" />
<rect x="201.1" y="652.9" width="2.55" height="10.01" fill="#fdf8f8" />
<rect x="203.6" y="652.9" width="2.55" height="10.01" fill="#ece7f2" />
<rect x="206.1" y="652.9" width="2.55" height="10.01" fill="#fdf8f8" />
<rect x="208.6" y="652.9" width="2.55" height="10.01" fill="#fdf8f8" />
<rect x="211.1" y="652.9" width="2.55" height="10.01" fill="#d2d2ee" />
<rect x="213.6" y="652.9" width="2.55" height="10.01" fill="#d9d8f0" />
<rect x="216.1" y="652.9" width="2.55" height="10.01" fill="#fdf8f8" />
<rect x="218.6" y="652.9" width="2.55" height="10.01" fill="#f7f2f7" />
<rect x="221.1" y="652.9" width="2.55" height="10.01" fill="#4747ab" />
<rect x="223.6" y="652.9" width="2.55" height="10.01" fill="#4444aa" />
<rect x="226.1" y="652.9" width="2.55" height="10.01" fill="#9696d5" />
<rect x="228.6" y="652.9" width="2.55" height="10.01" fill="#7676c5" />
<rect x="231.1" y="652.9" width="2.55" height="10.01" fill="#4343aa" />
<rect x="233.6" y="652.9" width="2.55" height="10.01" fill="#4646ab" />
<rect x="236.1" y="652.9" width="2.55" height="10.01" fill="#9999d6" />
<rect x="238.6" y="652.9" width="2.55" height="10.01" fill="#8282cc" />
<rect x="241.1" y="652.9" width="2.55" height="10.01" fill="#3232a2" />
<rect x="243.6" y="652.9" width="2.55" height="10.01" fill="#4c4cae" />
<rect x="246.1" y="652.9" width="2.55" height="10.01" fill="#9999d6" />
<rect x="248.6" y="652.9" width="2.55" height="10.01" fill="#9797d6" />
<rect x="251.1" y="652.9" width="2.55" height="10.01" fill="#d8d8f0" />
<rect x="253.6" y="652.9" width="2.55" height="10.01" fill="#c3c3e8" />
<rect x="256.1" y="652.9" width="2.55" height="10.01" fill="#fdf8f8" />
<rect x="258.6" y="652.9" width="2.55" height="10.01" fill="#faf6f7" />
<rect x="261.1" y="652.9" width="2.55" height="10.01" fill="#d1d1ee" />
<rect x="263.6" y="652.9" width="2.55" height="10.01" fill="#d2d2ee" />
<rect x="266.1" y="652.9" width="2.55" height="10.01" fill="#d3d3ee" />
<rect x="268.6" y="652.9" width="2.55" height="10.01" fill="#d2d2ee" />
<rect x="271.1" y="652.9" width="2.55" height="10.01" fill="#cfcfed" />
<rect x="273.6" y="652.9" width="2.55" height="10.01" fill="#dbdaf0" />
<rect x="276.1" y="652.9" width="2.55" height="10.01" fill="#fdf8f8" />
<rect x="278.6" y="652.9" width="2.55" height="10.01" fill="#fdf8f8" />
<rect x="281.1" y="652.9" width="2.55" height="10.01" fill="#fdf8f8" />
<rect x="283.6" y="652.9" width="2.55" height="10.01" fill="#fcf7f8" />
<rect x="286.2" y="652.9" width="2.55" height="10.01" fill="#9090d3" />
<rect x="288.7" y="652.9" width="2.55" height="10.01" fill="#8a8ad0" />
<rect x="291.2" y="652.9" width="2.55" height="10.01" fill="#8e8ed2" />
<rect x="293.7" y="652.9" width="2.55" height="10.01" fill="#8a8ad0" />
<rect x="296.2" y="652.9" width="2.55" height="10.01" fill="#d7d7f0" />
<rect x="298.7" y="652.9" width="2.55" height="10.01" fill="#c7c7e9" />
<rect x="301.2" y="652.9" width="2.55" height="10.01" fill="#9494d4" />
<rect x="303.7" y="652.9" width="2.55" height="10.01" fill="#8f8fd2" />
<rect x="306.2" y="652.9" width="2.55" height="10.01" fill="#fdf8f8" />
<rect x="308.7" y="652.9" width="2.55" height="10.01" fill="#f1eef5" />
<rect x="311.2" y="652.9" width="2.55" height="10.01" fill="#d8d8f0" />
<rect x="313.7" y="652.9" width="2.55" height="10.01" fill="#dad9f0" />
<rect x="316.2" y="652.9" width="2.55" height="10.01" fill="#fdf8f8" />
<rect x="318.7" y="652.9" width="2.55" height="10.01" fill="#faf6f7" />
<rect x="321.2" y="652.9" width="2.55" height="10.01" fill="#cfcfed" />
<rect x="323.7" y="652.9" width="2.55" height="10.01" fill="#dddcf1" />
<rect x="326.2" y="652.9" width="2.55" height="10.01" fill="#fdf8f8" />
<rect x="328.7" y="652.9" width="2.55" height="10.01" fill="#fbf6f8" />
<rect x="331.2" y="652.9" width="2.55" height="10.01" fill="#fdf8f8" />
<rect x="333.7" y="652.9" width="2.55" height="10.01" fill="#fdf8f8" />
<rect x="336.2" y="652.9" width="2.55" height="10.01" fill="#fdf8f8" />
<rect x="338.7" y="652.9" width="2.55" height="10.01" fill="#fdf8f8" />
<rect x="341.2" y="652.9" width="2.55" height="10.01" fill="#f9ced0" />
<rect x="343.7" y="652.9" width="2.55" height="10.01" fill="#f8cacc" />
<rect x="346.2" y="652.9" width="2.55" height="10.01" fill="#f8ced0" />
<rect x="348.7" y="652.9" width="2.55" height="10.01" fill="#f8cacc" />
<rect x="351.2" y="652.9" width="2.55" height="10.01" fill="#f18289" />
<rect x="353.7" y="652.9" width="2.55" height="10.01" fill="#f07e86" />
<rect x="356.2" y="652.9" width="2.55" height="10.01" fill="#5b5bb4" />
<rect x="358.7" y="652.9" width="2.55" height="10.01" fill="#6868bb" />
<rect x="361.2" y="652.9" width="2.55" height="10.01" fill="#d5d5ef" />
<rect x="363.7" y="652.9" width="2.55" height="10.01" fill="#b3b3df" />
<rect x="366.2" y="652.9" width="2.55" height="10.01" fill="#9292d3" />
<rect x="368.7" y="652.9" width="2.55" height="10.01" fill="#8a8ad0" />
<rect x="371.2" y="652.9" width="2.55" height="10.01" fill="#8c8cd1" />
<rect x="373.7" y="652.9" width="2.55" height="10.01" fill="#8a8ad0" />
<rect x="376.2" y="652.9" width="2.55" height="10.01" fill="#4747ab" />
<rect x="378.7" y="652.9" width="2.55" height="10.01" fill="#4141a8" />
<rect x="381.2" y="652.9" width="2.55" height="10.01" fill="#3636a3" />
<rect x="383.7" y="652.9" width="2.55" height="10.01" fill="#4040a8" />
<rect x="386.2" y="652.9" width="2.55" height="10.01" fill="#3434a3" />
<rect x="388.7" y="652.9" width="2.55" height="10.01" fill="#4040a8" />
<rect x="391.2" y="652.9" width="2.55" height="10.01" fill="#8181cc" />
<rect x="393.7" y="652.9" width="2.55" height="10.01" fill="#8a8ad0" />
<rect x="396.2" y="652.9" width="2.55" height="10.01" fill="#9292d3" />
<rect x="398.7" y="652.9" width="2.55" height="10.01" fill="#8a8ad0" />
<rect x="401.2" y="652.9" width="2.55" height="10.01" fill="#8888cf" />
<rect x="403.7" y="652.9" width="2.55" height="10.01" fill="#8a8ad0" />
<rect x="406.2" y="652.9" width="2.55" height="10.01" fill="#3e3ea7" />
<rect x="408.7" y="652.9" width="2.55" height="10.01" fill="#4949ad" />
<rect x="411.2" y="652.9" width="2.55" height="10.01" fill="#7f7fcb" />
<rect x="413.8" y="652.9" width="2.55" height="10.01" fill="#7d7dc9" />
<rect x="416.3" y="652.9" width="2.55" height="10.01" fill="#3636a3" />
<rect x="418.8" y="652.9" width="2.55" height="10.01" fill="#5353b2" />
<rect x="421.3" y="652.9" width="2.55" height="10.01" fill="#8989d0" />
<rect x="423.8" y="652.9" width="2.55" height="10.01" fill="#8282cc" />
<rect x="426.3" y="652.9" width="2.55" height="10.01" fill="#3131a1" />
<rect x="428.8" y="652.9" width="2.55" height="10.01" fill="#4d4daf" />
<rect x="431.3" y="652.9" width="2.55" height="10.01" fill="#8181cc" />
<rect x="433.8" y="652.9" width="2.55" height="10.01" fill="#8383cc" />
<rect x="436.3" y="652.9" width="2.55" height="10.01" fill="#d0d0ed" />
<rect x="438.8" y="652.9" width="2.55" height="10.01" fill="#c6c6e9" />
<rect x="441.3" y="652.9" width="2.55" height="10.01" fill="#8686ce" />
<rect x="443.8" y="652.9" width="2.55" height="10.01" fill="#a6a5da" />
<rect x="446.3" y="652.9" width="2.55" height="10.01" fill="#fdf8f8" />
<rect x="448.8" y="652.9" width="2.55" height="10.01" fill="#e3dfef" />
<rect x="451.3" y="652.9" width="2.55" height="10.01" fill="#d2d2ee" />
<rect x="453.8" y="652.9" width="2.55" height="10.01" fill="#dddbf0" />
<rect x="456.3" y="652.9" width="2.55" height="10.01" fill="#fdf8f8" />
<rect x="458.8" y="652.9" width="2.55" height="10.01" fill="#f2eef5" />
<rect x="461.3" y="652.9" width="2.55" height="10.01" fill="#d6d6f0" />
<rect x="463.8" y="652.9" width="2.55" height="10.01" fill="#c1c1e7" />
<rect x="466.3" y="652.9" width="2.55" height="10.01" fill="#8484cd" />
<rect x="468.8" y="652.9" width="2.55" height="10.01" fill="#918ed0" />
<rect x="471.3" y="652.9" width="2.55" height="10.01" fill="#f7c6c8" />
<rect x="473.8" y="652.9" width="2.55" height="10.01" fill="#f8cacc" />
<rect x="476.3" y="652.9" width="2.55" height="10.01" fill="#f9d1d2" />
<rect x="478.8" y="652.9" width="2.55" height="10.01" fill="#f9d8d9" />
<rect x="481.3" y="652.9" width="2.55" height="10.01" fill="#fdf8f8" />
<rect x="483.8" y="652.9" width="2.55" height="10.01" fill="#fdf5f5" />
<rect x="486.3" y="652.9" width="2.55" height="10.01" fill="#f8cdcf" />
<rect x="488.8" y="652.9" width="2.55" height="10.01" fill="#f9cfd0" />
<rect x="491.3" y="652.9" width="2.55" height="10.01" fill="#fdf8f8" />
<rect x="493.8" y="652.9" width="2.55" height="10.01" fill="#fcf1f1" />
<rect x="496.3" y="652.9" width="2.55" height="10.01" fill="#d3d3ee" />
<rect x="498.8" y="652.9" width="2.55" height="10.01" fill="#c7c7e9" />
<rect x="501.3" y="652.9" width="2.55" height="10.01" fill="#9595d4" />
<rect x="503.8" y="652.9" width="2.55" height="10.01" fill="#9999d6" />
<rect x="506.3" y="652.9" width="2.55" height="10.01" fill="#cfcfed" />
<rect x="508.8" y="652.9" width="2.55" height="10.01" fill="#d0d0ed" />
<rect x="511.3" y="652.9" width="2.55" height="10.01" fill="#8a8ad0" />
<rect x="513.8" y="652.9" width="2.55" height="10.01" fill="#9090d2" />
<rect x="516.3" y="652.9" width="2.55" height="10.01" fill="#d5d5ef" />
<rect x="518.8" y="652.9" width="2.55" height="10.01" fill="#c2c2e7" />
<rect x="521.3" y="652.9" width="2.55" height="10.01" fill="#8686ce" />
<rect x="523.8" y="652.9" width="2.55" height="10.01" fill="#8c8cd1" />
<rect x="526.3" y="652.9" width="2.55" height="10.01" fill="#fdf8f8" />
<rect x="528.8" y="652.9" width="2.55" height="10.01" fill="#fcf0f1" />
<rect x="531.3" y="652.9" width="2.55" height="10.01" fill="#f8ccce" />
<rect x="533.8" y="652.9" width="2.55" height="10.01" fill="#f8cacc" />
<rect x="536.3" y="652.9" width="2.55" height="10.01" fill="#f9cfd1" />
<rect x="538.8" y="652.9" width="2.55" height="10.01" fill="#f8cacc" />
<rect x="541.3" y="652.9" width="2.55" height="10.01" fill="#f1858c" />
<rect x="543.9" y="652.9" width="2.55" height="10.01" fill="#f18990" />
<rect x="546.4" y="652.9" width="2.55" height="10.01" fill="#f28e95" />
<rect x="548.9" y="652.9" width="2.55" height="10.01" fill="#f07c84" />
<rect x="551.4" y="652.9" width="2.55" height="10.01" fill="#f8c7c9" />
<rect x="553.9" y="652.9" width="2.55" height="10.01" fill="#f8cacc" />
<rect x="556.4" y="652.9" width="2.55" height="10.01" fill="#f8cdcf" />
<rect x="558.9" y="652.9" width="2.55" height="10.01" fill="#f8cacc" />
<rect x="561.4" y="652.9" width="2.55" height="10.01" fill="#f8cacc" />
<rect x="563.9" y="652.9" width="2.55" height="10.01" fill="#f8cacc" />
<rect x="566.4" y="652.9" width="2.55" height="10.01" fill="#f8cacc" />
<rect x="568.9" y="652.9" width="2.55" height="10.01" fill="#f8cacc" />
<rect x="571.4" y="652.9" width="2.55" height="10.01" fill="#f8c8ca" />
<rect x="573.9" y="652.9" width="2.55" height="10.01" fill="#f8cacc" />
<rect x="576.4" y="652.9" width="2.55" height="10.01" fill="#f9cfd0" />
<rect x="578.9" y="652.9" width="2.55" height="10.01" fill="#f8cacc" />
<rect x="581.4" y="652.9" width="2.55" height="10.01" fill="#f8c8ca" />
<rect x="583.9" y="652.9" width="2.55" height="10.01" fill="#f8cacc" />
<rect x="586.4" y="652.9" width="2.55" height="10.01" fill="#fdf8f8" />
<rect x="588.9" y="652.9" width="2.55" height="10.01" fill="#fceff0" />
<rect x="591.4" y="652.9" width="2.55" height="10.01" fill="#fdf8f8" />
<rect x="593.9" y="652.9" width="2.55" height="10.01" fill="#fceeee" />
<rect x="596.4" y="652.9" width="2.55" height="10.01" fill="#f8c9cb" />
<rect x="598.9" y="652.9" width="2.55" height="10.01" fill="#f8cacc" />
<rect x="601.4" y="652.9" width="2.55" height="10.01" fill="#f9d2d4" />
<rect x="603.9" y="652.9" width="2.55" height="10.01" fill="#f8cacc" />
<rect x="91.0" y="662.8" width="2.55" height="10.01" fill="#f9d1d2" />
<rect x="93.5" y="662.8" width="2.55" height="10.01" fill="#f8cacc" />
<rect x="96.0" y="662.8" width="2.55" height="10.01" fill="#f8c8ca" />
<rect x="98.5" y="662.8" width="2.55" height="10.01" fill="#e0bccd" />
<rect x="101.0" y="662.8" width="2.55" height="10.01" fill="#8181cc" />
<rect x="103.5" y="662.8" width="2.55" height="10.01" fill="#8b8bd0" />
<rect x="106.0" y="662.8" width="2.55" height="10.01" fill="#9a9ad7" />
<rect x="108.5" y="662.8" width="2.55" height="10.01" fill="#8e89cd" />
<rect x="111.0" y="662.8" width="2.55" height="10.01" fill="#ef737b" />
<rect x="113.5" y="662.8" width="2.55" height="10.01" fill="#de7f92" />
<rect x="116.0" y="662.8" width="2.55" height="10.01" fill="#ef767e" />
<rect x="118.5" y="662.8" width="2.55" height="10.01" fill="#f28d94" />
<rect x="121.0" y="662.8" width="2.55" height="10.01" fill="#fdf8f8" />
<rect x="123.5" y="662.8" width="2.55" height="10.01" fill="#fcebec" />
<rect x="126.0" y="662.8" width="2.55" height="10.01" fill="#fdf8f8" />
<rect x="128.5" y="662.8" width="2.55" height="10.01" fill="#fdf8f8" />
<rect x="131.0" y="662.8" width="2.55" height="10.01" fill="#f8cacc" />
<rect x="133.5" y="662.8" width="2.55" height="10.01" fill="#f8cacc" />
<rect x="136.0" y="662.8" width="2.55" height="10.01" fill="#f8ced0" />
<rect x="138.5" y="662.8" width="2.55" height="10.01" fill="#f6bbbe" />
<rect x="141.0" y="662.8" width="2.55" height="10.01" fill="#f08088" />
<rect x="143.5" y="662.8" width="2.55" height="10.01" fill="#f07c84" />
<rect x="146.0" y="662.8" width="2.55" height="10.01" fill="#f1878e" />
<rect x="148.5" y="662.8" width="2.55" height="10.01" fill="#f07c84" />
<rect x="151.0" y="662.8" width="2.55" height="10.01" fill="#f07f87" />
<rect x="153.5" y="662.8" width="2.55" height="10.01" fill="#f07c84" />
<rect x="156.1" y="662.8" width="2.55" height="10.01" fill="#f8cdcf" />
<rect x="158.6" y="662.8" width="2.55" height="10.01" fill="#f8cacc" />
<rect x="161.1" y="662.8" width="2.55" height="10.01" fill="#f8cdcf" />
<rect x="163.6" y="662.8" width="2.55" height="10.01" fill="#f7c4c6" />
<rect x="166.1" y="662.8" width="2.55" height="10.01" fill="#f1888f" />
<rect x="168.6" y="662.8" width="2.55" height="10.01" fill="#f28b92" />
<rect x="171.1" y="662.8" width="2.55" height="10.01" fill="#f07f87" />
<rect x="173.6" y="662.8" width="2.55" height="10.01" fill="#f07c84" />
<rect x="176.1" y="662.8" width="2.55" height="10.01" fill="#ef7079" />
<rect x="178.6" y="662.8" width="2.55" height="10.01" fill="#f07c84" />
<rect x="181.1" y="662.8" width="2.55" height="10.01" fill="#f8c8ca" />
<rect x="183.6" y="662.8" width="2.55" height="10.01" fill="#f8cacc" />
<rect x="186.1" y="662.8" width="2.55" height="10.01" fill="#ef727b" />
<rect x="188.6" y="662.8" width="2.55" height="10.01" fill="#f18b91" />
<rect x="191.1" y="662.8" width="2.55" height="10.01" fill="#ef727a" />
<rect x="193.6" y="662.8" width="2.55" height="10.01" fill="#f07c84" />
<rect x="196.1" y="662.8" width="2.55" height="10.01" fill="#f1848b" />
<rect x="198.6" y="662.8" width="2.55" height="10.01" fill="#f07c84" />
<rect x="201.1" y="662.8" width="2.55" height="10.01" fill="#f8c9cb" />
<rect x="203.6" y="662.8" width="2.55" height="10.01" fill="#f8cacc" />
<rect x="206.1" y="662.8" width="2.55" height="10.01" fill="#f9cfd0" />
<rect x="208.6" y="662.8" width="2.55" height="10.01" fill="#f8cacc" />
<rect x="211.1" y="662.8" width="2.55" height="10.01" fill="#f8cbcd" />
<rect x="213.6" y="662.8" width="2.55" height="10.01" fill="#f8cacc" />
<rect x="216.1" y="662.8" width="2.55" height="10.01" fill="#f9cfd0" />
<rect x="218.6" y="662.8" width="2.55" height="10.01" fill="#f8cacc" />
<rect x="221.1" y="662.8" width="2.55" height="10.01" fill="#8989d0" />
<rect x="223.6" y="662.8" width="2.55" height="10.01" fill="#8a8ad0" />
<rect x="226.1" y="662.8" width="2.55" height="10.01" fill="#9595d4" />
<rect x="228.6" y="662.8" width="2.55" height="10.01" fill="#8a8ad0" />
<rect x="231.1" y="662.8" width="2.55" height="10.01" fill="#8989d0" />
<rect x="233.6" y="662.8" width="2.55" height="10.01" fill="#8a8ad0" />
<rect x="236.1" y="662.8" width="2.55" height="10.01" fill="#d1d1ee" />
<rect x="238.6" y="662.8" width="2.55" height="10.01" fill="#c8c8ea" />
<rect x="241.1" y="662.8" width="2.55" height="10.01" fill="#f8ccce" />
<rect x="243.6" y="662.8" width="2.55" height="10.01" fill="#f3cbd0" />
<rect x="246.1" y="662.8" width="2.55" height="10.01" fill="#fdf8f8" />
<rect x="248.6" y="662.8" width="2.55" height="10.01" fill="#fdf4f4" />
<rect x="251.1" y="662.8" width="2.55" height="10.01" fill="#f8c8ca" />
<rect x="253.6" y="662.8" width="2.55" height="10.01" fill="#f8cbcd" />
<rect x="256.1" y="662.8" width="2.55" height="10.01" fill="#f8cbcd" />
<rect x="258.6" y="662.8" width="2.55" height="10.01" fill="#f8cacc" />
<rect x="261.1" y="662.8" width="2.55" height="10.01" fill="#f8c7c9" />
<rect x="263.6" y="662.8" width="2.55" height="10.01" fill="#efc5cc" />
<rect x="266.1" y="662.8" width="2.55" height="10.01" fill="#8888cf" />
<rect x="268.6" y="662.8" width="2.55" height="10.01" fill="#8a8ad0" />
<rect x="271.1" y="662.8" width="2.55" height="10.01" fill="#8b8bd0" />
<rect x="273.6" y="662.8" width="2.55" height="10.01" fill="#8a8ad0" />
<rect x="276.1" y="662.8" width="2.55" height="10.01" fill="#9696d5" />
<rect x="278.6" y="662.8" width="2.55" height="10.01" fill="#8080cb" />
<rect x="281.1" y="662.8" width="2.55" height="10.01" fill="#3737a4" />
<rect x="283.6" y="662.8" width="2.55" height="10.01" fill="#5a59b3" />
<rect x="286.2" y="662.8" width="2.55" height="10.01" fill="#fdf8f8" />
<rect x="288.7" y="662.8" width="2.55" height="10.01" fill="#f8f3f6" />
<rect x="291.2" y="662.8" width="2.55" height="10.01" fill="#d5d5ef" />
<rect x="293.7" y="662.8" width="2.55" height="10.01" fill="#d1d1ed" />
<rect x="296.2" y="662.8" width="2.55" height="10.01" fill="#5050af" />
<rect x="298.7" y="662.8" width="2.55" height="10.01" fill="#5252b2" />
<rect x="301.2" y="662.8" width="2.55" height="10.01" fill="#8e8ed2" />
<rect x="303.7" y="662.8" width="2.55" height="10.01" fill="#8a8ad0" />
<rect x="306.2" y="662.8" width="2.55" height="10.01" fill="#9494d4" />
<rect x="308.7" y="662.8" width="2.55" height="10.01" fill="#8a8ad0" />
<rect x="311.2" y="662.8" width="2.55" height="10.01" fill="#8585ce" />
<rect x="313.7" y="662.8" width="2.55" height="10.01" fill="#8a8ad0" />
<rect x="316.2" y="662.8" width="2.55" height="10.01" fill="#8f8fd2" />
<rect x="318.7" y="662.8" width="2.55" height="10.01" fill="#8a8ad0" />
<rect x="321.2" y="662.8" width="2.55" height="10.01" fill="#d7d7f0" />
<rect x="323.7" y="662.8" width="2.55" height="10.01" fill="#c4c4e8" />
<rect x="326.2" y="662.8" width="2.55" height="10.01" fill="#d1d1ee" />
<rect x="328.7" y="662.8" width="2.55" height="10.01" fill="#d2d2ee" />
<rect x="331.2" y="662.8" width="2.55" height="10.01" fill="#8686cf" />
<rect x="333.7" y="662.8" width="2.55" height="10.01" fill="#9191d3" />
<rect x="336.2" y="662.8" width="2.55" height="10.01" fill="#3131a1" />
<rect x="338.7" y="662.8" width="2.55" height="10.01" fill="#5454b3" />
<rect x="341.2" y="662.8" width="2.55" height="10.01" fill="#9696d5" />
<rect x="343.7" y="662.8" width="2.55" height="10.01" fill="#8888cf" />
<rect x="346.2" y="662.8" width="2.55" height="10.01" fill="#3737a4" />
<rect x="348.7" y="662.8" width="2.55" height="10.01" fill="#4b4bad" />
<rect x="351.2" y="662.8" width="2.55" height="10.01" fill="#d2d2ee" />
<rect x="353.7" y="662.8" width="2.55" height="10.01" fill="#d2d2ee" />
<rect x="356.2" y="662.8" width="2.55" height="10.01" fill="#d1d1ee" />
<rect x="358.7" y="662.8" width="2.55" height="10.01" fill="#d2d2ee" />
<rect x="361.2" y="662.8" width="2.55" height="10.01" fill="#d4d4ef" />
<rect x="363.7" y="662.8" width="2.55" height="10.01" fill="#d2d2ee" />
<rect x="366.2" y="662.8" width="2.55" height="10.01" fill="#f9d1d3" />
<rect x="368.7" y="662.8" width="2.55" height="10.01" fill="#f0ccd3" />
<rect x="371.2" y="662.8" width="2.55" height="10.01" fill="#f28f96" />
<rect x="373.7" y="662.8" width="2.55" height="10.01" fill="#d97f95" />
<rect x="376.2" y="662.8" width="2.55" height="10.01" fill="#9696d5" />
<rect x="378.7" y="662.8" width="2.55" height="10.01" fill="#8a8ad0" />
<rect x="381.2" y="662.8" width="2.55" height="10.01" fill="#9a9ad7" />
<rect x="383.7" y="662.8" width="2.55" height="10.01" fill="#8a8ad0" />
<rect x="386.2" y="662.8" width="2.55" height="10.01" fill="#fdf8f8" />
<rect x="388.7" y="662.8" width="2.55" height="10.01" fill="#ebe7f2" />
<rect x="391.2" y="662.8" width="2.55" height="10.01" fill="#8b8bd0" />
<rect x="393.7" y="662.8" width="2.55" height="10.01" fill="#a6a4da" />
<rect x="396.2" y="662.8" width="2.55" height="10.01" fill="#fdf8f8" />
<rect x="398.7" y="662.8" width="2.55" height="10.01" fill="#dddaed" />
<rect x="401.2" y="662.8" width="2.55" height="10.01" fill="#9b9bd7" />
<rect x="403.7" y="662.8" width="2.55" height="10.01" fill="#a4a2d9" />
<rect x="406.2" y="662.8" width="2.55" height="10.01" fill="#3c3ca6" />
<rect x="408.7" y="662.8" width="2.55" height="10.01" fill="#4f4fb0" />
<rect x="411.2" y="662.8" width="2.55" height="10.01" fill="#8787cf" />
<rect x="413.8" y="662.8" width="2.55" height="10.01" fill="#8a8ad0" />
<rect x="416.3" y="662.8" width="2.55" height="10.01" fill="#9494d4" />
<rect x="418.8" y="662.8" width="2.55" height="10.01" fill="#8a8ad0" />
<rect x="421.3" y="662.8" width="2.55" height="10.01" fill="#9595d4" />
<rect x="423.8" y="662.8" width="2.55" height="10.01" fill="#8a8ad0" />
<rect x="426.3" y="662.8" width="2.55" height="10.01" fill="#9494d4" />
<rect x="428.8" y="662.8" width="2.55" height="10.01" fill="#8a8ad0" />
<rect x="431.3" y="662.8" width="2.55" height="10.01" fill="#d8d8f0" />
<rect x="433.8" y="662.8" width="2.55" height="10.01" fill="#c5c5e9" />
<rect x="436.3" y="662.8" width="2.55" height="10.01" fill="#8484ce" />
<rect x="438.8" y="662.8" width="2.55" height="10.01" fill="#9191d3" />
<rect x="441.3" y="662.8" width="2.55" height="10.01" fill="#3838a4" />
<rect x="443.8" y="662.8" width="2.55" height="10.01" fill="#4545ab" />
<rect x="446.3" y="662.8" width="2.55" height="10.01" fill="#8585ce" />
<rect x="448.8" y="662.8" width="2.55" height="10.01" fill="#8a8ad0" />
<rect x="451.3" y="662.8" width="2.55" height="10.01" fill="#8a8ad0" />
<rect x="453.8" y="662.8" width="2.55" height="10.01" fill="#8a8ad0" />
<rect x="456.3" y="662.8" width="2.55" height="10.01" fill="#9a9ad6" />
<rect x="458.8" y="662.8" width="2.55" height="10.01" fill="#8a8ad0" />
<rect x="461.3" y="662.8" width="2.55" height="10.01" fill="#8c8cd1" />
<rect x="463.8" y="662.8" width="2.55" height="10.01" fill="#7777c6" />
<rect x="466.3" y="662.8" width="2.55" height="10.01" fill="#3d3da7" />
<rect x="468.8" y="662.8" width="2.55" height="10.01" fill="#5454b3" />
<rect x="471.3" y="662.8" width="2.55" height="10.01" fill="#8585ce" />
<rect x="473.8" y="662.8" width="2.55" height="10.01" fill="#7f7fca" />
<rect x="476.3" y="662.8" width="2.55" height="10.01" fill="#8282cd" />
<rect x="478.8" y="662.8" width="2.55" height="10.01" fill="#8a8ad0" />
<rect x="481.3" y="662.8" width="2.55" height="10.01" fill="#9696d5" />
<rect x="483.8" y="662.8" width="2.55" height="10.01" fill="#7474c4" />
<rect x="486.3" y="662.8" width="2.55" height="10.01" fill="#3030a1" />
<rect x="488.8" y="662.8" width="2.55" height="10.01" fill="#4040a8" />
<rect x="491.3" y="662.8" width="2.55" height="10.01" fill="#5757b2" />
<rect x="493.8" y="662.8" width="2.55" height="10.01" fill="#4040a8" />
<rect x="496.3" y="662.8" width="2.55" height="10.01" fill="#3939a5" />
<rect x="498.8" y="662.8" width="2.55" height="10.01" fill="#4a4aad" />
<rect x="501.3" y="662.8" width="2.55" height="10.01" fill="#8383cd" />
<rect x="503.8" y="662.8" width="2.55" height="10.01" fill="#9e96cf" />
<rect x="506.3" y="662.8" width="2.55" height="10.01" fill="#f8c7c9" />
<rect x="508.8" y="662.8" width="2.55" height="10.01" fill="#dfbbcd" />
<rect x="511.3" y="662.8" width="2.55" height="10.01" fill="#9b9bd7" />
<rect x="513.8" y="662.8" width="2.55" height="10.01" fill="#9f96cf" />
<rect x="516.3" y="662.8" width="2.55" height="10.01" fill="#8080cc" />
<rect x="518.8" y="662.8" width="2.55" height="10.01" fill="#9c9bd6" />
<rect x="521.3" y="662.8" width="2.55" height="10.01" fill="#fdf8f8" />
<rect x="523.8" y="662.8" width="2.55" height="10.01" fill="#fdf8f8" />
<rect x="526.3" y="662.8" width="2.55" height="10.01" fill="#ceceed" />
<rect x="528.8" y="662.8" width="2.55" height="10.01" fill="#dddbf0" />
<rect x="531.3" y="662.8" width="2.55" height="10.01" fill="#4646ab" />
<rect x="533.8" y="662.8" width="2.55" height="10.01" fill="#4040a8" />
<rect x="536.3" y="662.8" width="2.55" height="10.01" fill="#3131a1" />
<rect x="538.8" y="662.8" width="2.55" height="10.01" fill="#4040a8" />
<rect x="541.3" y="662.8" width="2.55" height="10.01" fill="#3636a3" />
<rect x="543.9" y="662.8" width="2.55" height="10.01" fill="#4141a8" />
<rect x="546.4" y="662.8" width="2.55" height="10.01" fill="#fdf8f8" />
<rect x="548.9" y="662.8" width="2.55" height="10.01" fill="#c9c5e2" />
<rect x="551.4" y="662.8" width="2.55" height="10.01" fill="#d2d2ee" />
<rect x="553.9" y="662.8" width="2.55" height="10.01" fill="#dcdbf0" />
<rect x="556.4" y="662.8" width="2.55" height="10.01" fill="#f8ccce" />
<rect x="558.9" y="662.8" width="2.55" height="10.01" fill="#f2cbd2" />
<rect x="561.4" y="662.8" width="2.55" height="10.01" fill="#fdf8f8" />
<rect x="563.9" y="662.8" width="2.55" height="10.01" fill="#fcebec" />
<rect x="566.4" y="662.8" width="2.55" height="10.01" fill="#fdf8f8" />
<rect x="568.9" y="662.8" width="2.55" height="10.01" fill="#fdf8f8" />
<rect x="571.4" y="662.8" width="2.55" height="10.01" fill="#fdf8f8" />
<rect x="573.9" y="662.8" width="2.55" height="10.01" fill="#fdf8f8" />
<rect x="576.4" y="662.8" width="2.55" height="10.01" fill="#fdf8f8" />
<rect x="578.9" y="662.8" width="2.55" height="10.01" fill="#dbd7ec" />
<rect x="581.4" y="662.8" width="2.55" height="10.01" fill="#9292d3" />
<rect x="583.9" y="662.8" width="2.55" height="10.01" fill="#9696d4" />
<rect x="586.4" y="662.8" width="2.55" height="10.01" fill="#fdf8f8" />
<rect x="588.9" y="662.8" width="2.55" height="10.01" fill="#e6e2f0" />
<rect x="591.4" y="662.8" width="2.55" height="10.01" fill="#fdf8f8" />
<rect x="593.9" y="662.8" width="2.55" height="10.01" fill="#f3eff6" />
<rect x="596.4" y="662.8" width="2.55" height="10.01" fill="#ceceec" />
<rect x="598.9" y="662.8" width="2.55" height="10.01" fill="#dad9f0" />
<rect x="601.4" y="662.8" width="2.55" height="10.01" fill="#8c8cd1" />
<rect x="603.9" y="662.8" width="2.55" height="10.01" fill="#8a8ad0" />
<rect x="91.0" y="672.8" width="2.55" height="10.01" fill="#f07e86" />
<rect x="93.5" y="672.8" width="2.55" height="10.01" fill="#f07c84" />
<rect x="96.0" y="672.8" width="2.55" height="10.01" fill="#f28b92" />
<rect x="98.5" y="672.8" width="2.55" height="10.01" fill="#f07c84" />
<rect x="101.0" y="672.8" width="2.55" height="10.01" fill="#cfcfed" />
<rect x="103.5" y="672.8" width="2.55" height="10.01" fill="#dabbd1" />
<rect x="106.0" y="672.8" width="2.55" height="10.01" fill="#9494d4" />
<rect x="108.5" y="672.8" width="2.55" height="10.01" fill="#a99ccf" />
<rect x="111.0" y="672.8" width="2.55" height="10.01" fill="#f8ccce" />
<rect x="113.5" y="672.8" width="2.55" height="10.01" fill="#f6b8bc" />
<rect x="116.0" y="672.8" width="2.55" height="10.01" fill="#ef757e" />
<rect x="118.5" y="672.8" width="2.55" height="10.01" fill="#f1828a" />
<rect x="121.0" y="672.8" width="2.55" height="10.01" fill="#f28e95" />
<rect x="123.5" y="672.8" width="2.55" height="10.01" fill="#f07c84" />
<rect x="126.0" y="672.8" width="2.55" height="10.01" fill="#f8c9cb" />
<rect x="128.5" y="672.8" width="2.55" height="10.01" fill="#f8cacc" />
<rect x="131.0" y="672.8" width="2.55" height="10.01" fill="#f8c7c9" />
<rect x="133.5" y="672.8" width="2.55" height="10.01" fill="#f8c8ca" />
<rect x="136.0" y="672.8" width="2.55" height="10.01" fill="#f1848b" />
<rect x="138.5" y="672.8" width="2.55" height="10.01" fill="#f07f87" />
<rect x="141.0" y="672.8" width="2.55" height="10.01" fill="#fdf8f8" />
<rect x="143.5" y="672.8" width="2.55" height="10.01" fill="#fcf1f2" />
<rect x="146.0" y="672.8" width="2.55" height="10.01" fill="#fdf8f8" />
<rect x="148.5" y="672.8" width="2.55" height="10.01" fill="#fcf7f8" />
<rect x="151.0" y="672.8" width="2.55" height="10.01" fill="#8181cc" />
<rect x="153.5" y="672.8" width="2.55" height="10.01" fill="#8a8ad0" />
<rect x="156.1" y="672.8" width="2.55" height="10.01" fill="#9b9bd7" />
<rect x="158.6" y="672.8" width="2.55" height="10.01" fill="#8a8ad0" />
<rect x="161.1" y="672.8" width="2.55" height="10.01" fill="#ceceed" />
<rect x="163.6" y="672.8" width="2.55" height="10.01" fill="#d2d2ee" />
<rect x="166.1" y="672.8" width="2.55" height="10.01" fill="#cfcfed" />
<rect x="168.6" y="672.8" width="2.55" height="10.01" fill="#bebee6" />
<rect x="171.1" y="672.8" width="2.55" height="10.01" fill="#9696d5" />
<rect x="173.6" y="672.8" width="2.55" height="10.01" fill="#9b9bd7" />
<rect x="176.1" y="672.8" width="2.55" height="10.01" fill="#d8d8f0" />
<rect x="178.6" y="672.8" width="2.55" height="10.01" fill="#c8c8ea" />
<rect x="181.1" y="672.8" width="2.55" height="10.01" fill="#9090d3" />
<rect x="183.6" y="672.8" width="2.55" height="10.01" fill="#9a9ad7" />
<rect x="186.1" y="672.8" width="2.55" height="10.01" fill="#d6d6f0" />
<rect x="188.6" y="672.8" width="2.55" height="10.01" fill="#d2d2ee" />
<rect x="191.1" y="672.8" width="2.55" height="10.01" fill="#d0d0ed" />
<rect x="193.6" y="672.8" width="2.55" height="10.01" fill="#d2d2ee" />
<rect x="196.1" y="672.8" width="2.55" height="10.01" fill="#8181cd" />
<rect x="198.6" y="672.8" width="2.55" height="10.01" fill="#9898d6" />
<rect x="201.1" y="672.8" width="2.55" height="10.01" fill="#d1d1ee" />
<rect x="203.6" y="672.8" width="2.55" height="10.01" fill="#d2d2ee" />
<rect x="206.1" y="672.8" width="2.55" height="10.01" fill="#d4d4ef" />
<rect x="208.6" y="672.8" width="2.55" height="10.01" fill="#d2d2ee" />
<rect x="211.1" y="672.8" width="2.55" height="10.01" fill="#d4d4ef" />
<rect x="213.6" y="672.8" width="2.55" height="10.01" fill="#d2d2ee" />
<rect x="216.1" y="672.8" width="2.55" height="10.01" fill="#d1d1ee" />
<rect x="218.6" y="672.8" width="2.55" height="10.01" fill="#d9d8f0" />
<rect x="221.1" y="672.8" width="2.55" height="10.01" fill="#fdf8f8" />
<rect x="223.6" y="672.8" width="2.55" height="10.01" fill="#f6f1f6" />
<rect x="226.1" y="672.8" width="2.55" height="10.01" fill="#fdf8f8" />
<rect x="228.6" y="672.8" width="2.55" height="10.01" fill="#fdf8f8" />
<rect x="231.1" y="672.8" width="2.55" height="10.01" fill="#ceceec" />
<rect x="233.6" y="672.8" width="2.55" height="10.01" fill="#d9d8f0" />
<rect x="236.1" y="672.8" width="2.55" height="10.01" fill="#cfcfed" />
<rect x="238.6" y="672.8" width="2.55" height="10.01" fill="#d2d2ee" />
<rect x="241.1" y="672.8" width="2.55" height="10.01" fill="#d5d5ef" />
<rect x="243.6" y="672.8" width="2.55" height="10.01" fill="#d2d2ee" />
<rect x="246.1" y="672.8" width="2.55" height="10.01" fill="#d7d7f0" />
<rect x="248.6" y="672.8" width="2.55" height="10.01" fill="#d2d2ee" />
<rect x="251.1" y="672.8" width="2.55" height="10.01" fill="#cfcfed" />
<rect x="253.6" y="672.8" width="2.55" height="10.01" fill="#c8c8ea" />
<rect x="256.1" y="672.8" width="2.55" height="10.01" fill="#8f8fd2" />
<rect x="258.6" y="672.8" width="2.55" height="10.01" fill="#8f8fd2" />
<rect x="261.1" y="672.8" width="2.55" height="10.01" fill="#8686ce" />
<rect x="263.6" y="672.8" width="2.55" height="10.01" fill="#8a8ad0" />
<rect x="266.1" y="672.8" width="2.55" height="10.01" fill="#fdf8f8" />
<rect x="268.6" y="672.8" width="2.55" height="10.01" fill="#f5f1f6" />
<rect x="271.1" y="672.8" width="2.55" height="10.01" fill="#ceceec" />
<rect x="273.6" y="672.8" width="2.55" height="10.01" fill="#deddf1" />
<rect x="276.1" y="672.8" width="2.55" height="10.01" fill="#8f8fd2" />
<rect x="278.6" y="672.8" width="2.55" height="10.01" fill="#8f8fd2" />
<rect x="281.1" y="672.8" width="2.55" height="10.01" fill="#d4d4ef" />
<rect x="283.6" y="672.8" width="2.55" height="10.01" fill="#ceceec" />
<rect x="286.2" y="672.8" width="2.55" height="10.01" fill="#fdf8f8" />
<rect x="288.7" y="672.8" width="2.55" height="10.01" fill="#f7f3f7" />
<rect x="291.2" y="672.8" width="2.55" height="10.01" fill="#9b9bd7" />
<rect x="293.7" y="672.8" width="2.55" height="10.01" fill="#8a8ad0" />
<rect x="296.2" y="672.8" width="2.55" height="10.01" fill="#9292d3" />
<rect x="298.7" y="672.8" width="2.55" height="10.01" fill="#8a8ad0" />
<rect x="301.2" y="672.8" width="2.55" height="10.01" fill="#9191d3" />
<rect x="303.7" y="672.8" width="2.55" height="10.01" fill="#8a8ad0" />
<rect x="306.2" y="672.8" width="2.55" height="10.01" fill="#8a8ad0" />
<rect x="308.7" y="672.8" width="2.55" height="10.01" fill="#8a8ad0" />
<rect x="311.2" y="672.8" width="2.55" height="10.01" fill="#d2d2ee" />
<rect x="313.7" y="672.8" width="2.55" height="10.01" fill="#cfcfed" />
<rect x="316.2" y="672.8" width="2.55" height="10.01" fill="#8e8ed1" />
<rect x="318.7" y="672.8" width="2.55" height="10.01" fill="#8e8ed2" />
<rect x="321.2" y="672.8" width="2.55" height="10.01" fill="#d8d8f0" />
<rect x="323.7" y="672.8" width="2.55" height="10.01" fill="#cdcdec" />
<rect x="326.2" y="672.8" width="2.55" height="10.01" fill="#7f7fcc" />
<rect x="328.7" y="672.8" width="2.55" height="10.01" fill="#9898d6" />
<rect x="331.2" y="672.8" width="2.55" height="10.01" fill="#d3d3ee" />
<rect x="333.7" y="672.8" width="2.55" height="10.01" fill="#c9c9ea" />
<rect x="336.2" y="672.8" width="2.55" height="10.01" fill="#fdf8f8" />
<rect x="338.7" y="672.8" width="2.55" height="10.01" fill="#f7f3f7" />
<rect x="341.2" y="672.8" width="2.55" height="10.01" fill="#d8d8f0" />
<rect x="343.7" y="672.8" width="2.55" height="10.01" fill="#bfbfe6" />
<rect x="346.2" y="672.8" width="2.55" height="10.01" fill="#8d8dd1" />
<rect x="348.7" y="672.8" width="2.55" height="10.01" fill="#9a9ad7" />
<rect x="351.2" y="672.8" width="2.55" height="10.01" fill="#d7d7f0" />
<rect x="353.7" y="672.8" width="2.55" height="10.01" fill="#d2d2ee" />
<rect x="356.2" y="672.8" width="2.55" height="10.01" fill="#cfcfed" />
<rect x="358.7" y="672.8" width="2.55" height="10.01" fill="#c0c0e7" />
<rect x="361.2" y="672.8" width="2.55" height="10.01" fill="#8e8ed1" />
<rect x="363.7" y="672.8" width="2.55" height="10.01" fill="#9e9ed8" />
<rect x="366.2" y="672.8" width="2.55" height="10.01" fill="#fdf8f8" />
<rect x="368.7" y="672.8" width="2.55" height="10.01" fill="#f8f3f7" />
<rect x="371.2" y="672.8" width="2.55" height="10.01" fill="#ceceed" />
<rect x="373.7" y="672.8" width="2.55" height="10.01" fill="#d6d6ef" />
<rect x="376.2" y="672.8" width="2.55" height="10.01" fill="#d4d4ef" />
<rect x="378.7" y="672.8" width="2.55" height="10.01" fill="#d2d2ee" />
<rect x="381.2" y="672.8" width="2.55" height="10.01" fill="#d7d7f0" />
<rect x="383.7" y="672.8" width="2.55" height="10.01" fill="#dddcf1" />
<rect x="386.2" y="672.8" width="2.55" height="10.01" fill="#fdf8f8" />
<rect x="388.7" y="672.8" width="2.55" height="10.01" fill="#fbf7f8" />
<rect x="391.2" y="672.8" width="2.55" height="10.01" fill="#9898d6" />
<rect x="393.7" y="672.8" width="2.55" height="10.01" fill="#8f8fd2" />
<rect x="396.2" y="672.8" width="2.55" height="10.01" fill="#cfcfed" />
<rect x="398.7" y="672.8" width="2.55" height="10.01" fill="#c8c8ea" />
<rect x="401.2" y="672.8" width="2.55" height="10.01" fill="#fdf8f8" />
<rect x="403.7" y="672.8" width="2.55" height="10.01" fill="#f6f2f6" />
<rect x="406.2" y="672.8" width="2.55" height="10.01" fill="#d7d7f0" />
<rect x="408.7" y="672.8" width="2.55" height="10.01" fill="#d2d2ee" />
<rect x="411.2" y="672.8" width="2.55" height="10.01" fill="#d2d2ee" />
<rect x="413.8" y="672.8" width="2.55" height="10.01" fill="#d2d2ee" />
<rect x="416.3" y="672.8" width="2.55" height="10.01" fill="#d6d6ef" />
<rect x="418.8" y="672.8" width="2.55" height="10.01" fill="#d2d2ee" />
<rect x="421.3" y="672.8" width="2.55" height="10.01" fill="#cfcfed" />
<rect x="423.8" y="672.8" width="2.55" height="10.01" fill="#d2d2ee" />
<rect x="426.3" y="672.8" width="2.55" height="10.01" fill="#d4d4ef" />
<rect x="428.8" y="672.8" width="2.55" height="10.01" fill="#d2d2ee" />
<rect x="431.3" y="672.8" width="2.55" height="10.01" fill="#8585ce" />
<rect x="433.8" y="672.8" width="2.55" height="10.01" fill="#8a8ad0" />
<rect x="436.3" y="672.8" width="2.55" height="10.01" fill="#cfcfed" />
<rect x="438.8" y="672.8" width="2.55" height="10.01" fill="#d1d1ee" />
<rect x="441.3" y="672.8" width="2.55" height="10.01" fill="#9696d5" />
<rect x="443.8" y="672.8" width="2.55" height="10.01" fill="#8a8ad0" />
<rect x="446.3" y="672.8" width="2.55" height="10.01" fill="#9393d3" />
<rect x="448.8" y="672.8" width="2.55" height="10.01" fill="#8d8dd1" />
<rect x="451.3" y="672.8" width="2.55" height="10.01" fill="#ceceec" />
<rect x="453.8" y="672.8" width="2.55" height="10.01" fill="#d1d1ee" />
<rect x="456.3" y="672.8" width="2.55" height="10.01" fill="#d3d3ee" />
<rect x="458.8" y="672.8" width="2.55" height="10.01" fill="#d2d2ee" />
<rect x="461.3" y="672.8" width="2.55" height="10.01" fill="#d0d0ed" />
<rect x="463.8" y="672.8" width="2.55" height="10.01" fill="#d2d2ee" />
<rect x="466.3" y="672.8" width="2.55" height="10.01" fill="#d7d7f0" />
<rect x="468.8" y="672.8" width="2.55" height="10.01" fill="#d2d2ee" />
<rect x="471.3" y="672.8" width="2.55" height="10.01" fill="#fdf8f8" />
<rect x="473.8" y="672.8" width="2.55" height="10.01" fill="#f1eef5" />
<rect x="476.3" y="672.8" width="2.55" height="10.01" fill="#d7d7f0" />
<rect x="478.8" y="672.8" width="2.55" height="10.01" fill="#d4d4ef" />
<rect x="481.3" y="672.8" width="2.55" height="10.01" fill="#8585ce" />
<rect x="483.8" y="672.8" width="2.55" height="10.01" fill="#9696d5" />
<rect x="486.3" y="672.8" width="2.55" height="10.01" fill="#8787cf" />
<rect x="488.8" y="672.8" width="2.55" height="10.01" fill="#8a8ad0" />
<rect x="491.3" y="672.8" width="2.55" height="10.01" fill="#8686cf" />
<rect x="493.8" y="672.8" width="2.55" height="10.01" fill="#8a8ad0" />
<rect x="496.3" y="672.8" width="2.55" height="10.01" fill="#8282cd" />
<rect x="498.8" y="672.8" width="2.55" height="10.01" fill="#9999d6" />
<rect x="501.3" y="672.8" width="2.55" height="10.01" fill="#cfcfed" />
<rect x="503.8" y="672.8" width="2.55" height="10.01" fill="#c9c9ea" />
<rect x="506.3" y="672.8" width="2.55" height="10.01" fill="#9393d3" />
<rect x="508.8" y="672.8" width="2.55" height="10.01" fill="#8e89cd" />
<rect x="511.3" y="672.8" width="2.55" height="10.01" fill="#ef777f" />
<rect x="513.8" y="672.8" width="2.55" height="10.01" fill="#f07c84" />
<rect x="516.3" y="672.8" width="2.55" height="10.01" fill="#f07b83" />
<rect x="518.8" y="672.8" width="2.55" height="10.01" fill="#ee636c" />
<rect x="521.3" y="672.8" width="2.55" height="10.01" fill="#e70a14" />
<rect x="523.8" y="672.8" width="2.55" height="10.01" fill="#e92630" />
<rect x="526.3" y="672.8" width="2.55" height="10.01" fill="#d0d0ed" />
<rect x="528.8" y="672.8" width="2.55" height="10.01" fill="#dedcf1" />
<rect x="531.3" y="672.8" width="2.55" height="10.01" fill="#fdf8f8" />
<rect x="533.8" y="672.8" width="2.55" height="10.01" fill="#f9f5f7" />
<rect x="536.3" y="672.8" width="2.55" height="10.01" fill="#ceceed" />
<rect x="538.8" y="672.8" width="2.55" height="10.01" fill="#d8d7ef" />
<rect x="541.3" y="672.8" width="2.55" height="10.01" fill="#ceceec" />
<rect x="543.9" y="672.8" width="2.55" height="10.01" fill="#d2d2ee" />
<rect x="546.4" y="672.8" width="2.55" height="10.01" fill="#d2d2ee" />
<rect x="548.9" y="672.8" width="2.55" height="10.01" fill="#d9d8f0" />
<rect x="551.4" y="672.8" width="2.55" height="10.01" fill="#fdf8f8" />
<rect x="553.9" y="672.8" width="2.55" height="10.01" fill="#fbf6f8" />
<rect x="556.4" y="672.8" width="2.55" height="10.01" fill="#f8c8ca" />
<rect x="558.9" y="672.8" width="2.55" height="10.01" fill="#f8cdcf" />
<rect x="561.4" y="672.8" width="2.55" height="10.01" fill="#fdf8f8" />
<rect x="563.9" y="672.8" width="2.55" height="10.01" fill="#fdf5f6" />
<rect x="566.4" y="672.8" width="2.55" height="10.01" fill="#7f7fcc" />
<rect x="568.9" y="672.8" width="2.55" height="10.01" fill="#acabdc" />
<rect x="571.4" y="672.8" width="2.55" height="10.01" fill="#8f8fd2" />
<rect x="573.9" y="672.8" width="2.55" height="10.01" fill="#8a8ad0" />
<rect x="576.4" y="672.8" width="2.55" height="10.01" fill="#8d8dd1" />
<rect x="578.9" y="672.8" width="2.55" height="10.01" fill="#8a8ad0" />
<rect x="581.4" y="672.8" width="2.55" height="10.01" fill="#5252b0" />
<rect x="583.9" y="672.8" width="2.55" height="10.01" fill="#4141a9" />
<rect x="586.4" y="672.8" width="2.55" height="10.01" fill="#8c8cd1" />
<rect x="588.9" y="672.8" width="2.55" height="10.01" fill="#9590d0" />
<rect x="591.4" y="672.8" width="2.55" height="10.01" fill="#f8cbcd" />
<rect x="593.9" y="672.8" width="2.55" height="10.01" fill="#e7c0cd" />
<rect x="596.4" y="672.8" width="2.55" height="10.01" fill="#f9cfd1" />
<rect x="598.9" y="672.8" width="2.55" height="10.01" fill="#f8cacc" />
<rect x="601.4" y="672.8" width="2.55" height="10.01" fill="#fdf8f8" />
<rect x="603.9" y="672.8" width="2.55" height="10.01" fill="#fcf0f0" />
<rect x="91.0" y="682.7" width="2.55" height="10.01" fill="#f18189" />
<rect x="93.5" y="682.7" width="2.55" height="10.01" fill="#f3959b" />
<rect x="96.0" y="682.7" width="2.55" height="10.01" fill="#f18990" />
<rect x="98.5" y="682.7" width="2.55" height="10.01" fill="#e9909d" />
<rect x="101.0" y="682.7" width="2.55" height="10.01" fill="#d4d4ef" />
<rect x="103.5" y="682.7" width="2.55" height="10.01" fill="#d4cbe6" />
<rect x="106.0" y="682.7" width="2.55" height="10.01" fill="#f8c7c9" />
<rect x="108.5" y="682.7" width="2.55" height="10.01" fill="#f8cacc" />
<rect x="111.0" y="682.7" width="2.55" height="10.01" fill="#f9d0d2" />
<rect x="113.5" y="682.7" width="2.55" height="10.01" fill="#f8cacc" />
<rect x="116.0" y="682.7" width="2.55" height="10.01" fill="#f1838a" />
<rect x="118.5" y="682.7" width="2.55" height="10.01" fill="#f1848b" />
<rect x="121.0" y="682.7" width="2.55" height="10.01" fill="#f8cbcd" />
<rect x="123.5" y="682.7" width="2.55" height="10.01" fill="#f8cacc" />
<rect x="126.0" y="682.7" width="2.55" height="10.01" fill="#f7c5c7" />
<rect x="128.5" y="682.7" width="2.55" height="10.01" fill="#f8cacc" />
<rect x="131.0" y="682.7" width="2.55" height="10.01" fill="#f8ccce" />
<rect x="133.5" y="682.7" width="2.55" height="10.01" fill="#f8cacc" />
<rect x="136.0" y="682.7" width="2.55" height="10.01" fill="#ef7179" />
<rect x="138.5" y="682.7" width="2.55" height="10.01" fill="#f18b91" />
<rect x="141.0" y="682.7" width="2.55" height="10.01" fill="#f8c9cb" />
<rect x="143.5" y="682.7" width="2.55" height="10.01" fill="#f8cacc" />
<rect x="146.0" y="682.7" width="2.55" height="10.01" fill="#f8cbcd" />
<rect x="148.5" y="682.7" width="2.55" height="10.01" fill="#f8cacc" />
<rect x="151.0" y="682.7" width="2.55" height="10.01" fill="#f8c8ca" />
<rect x="153.5" y="682.7" width="2.55" height="10.01" fill="#f8cacc" />
<rect x="156.1" y="682.7" width="2.55" height="10.01" fill="#fdf8f8" />
<rect x="158.6" y="682.7" width="2.55" height="10.01" fill="#e5e1f0" />
<rect x="161.1" y="682.7" width="2.55" height="10.01" fill="#8a8ad0" />
<rect x="163.6" y="682.7" width="2.55" height="10.01" fill="#8a8ad0" />
<rect x="166.1" y="682.7" width="2.55" height="10.01" fill="#9393d4" />
<rect x="168.6" y="682.7" width="2.55" height="10.01" fill="#a2a1d8" />
<rect x="171.1" y="682.7" width="2.55" height="10.01" fill="#fdf8f8" />
<rect x="173.6" y="682.7" width="2.55" height="10.01" fill="#f9f4f6" />
<rect x="176.1" y="682.7" width="2.55" height="10.01" fill="#8c8cd1" />
<rect x="178.6" y="682.7" width="2.55" height="10.01" fill="#8f8fd2" />
<rect x="181.1" y="682.7" width="2.55" height="10.01" fill="#8a8ad0" />
<rect x="183.6" y="682.7" width="2.55" height="10.01" fill="#8a8ad0" />
<rect x="186.1" y="682.7" width="2.55" height="10.01" fill="#8f8fd2" />
<rect x="188.6" y="682.7" width="2.55" height="10.01" fill="#8a8ad0" />
<rect x="191.1" y="682.7" width="2.55" height="10.01" fill="#ceceed" />
<rect x="193.6" y="682.7" width="2.55" height="10.01" fill="#d7d7ef" />
<rect x="196.1" y="682.7" width="2.55" height="10.01" fill="#fdf8f8" />
<rect x="198.6" y="682.7" width="2.55" height="10.01" fill="#f4f0f6" />
<rect x="201.1" y="682.7" width="2.55" height="10.01" fill="#cfcfed" />
<rect x="203.6" y="682.7" width="2.55" height="10.01" fill="#d6d5ef" />
<rect x="206.1" y="682.7" width="2.55" height="10.01" fill="#fdf8f8" />
<rect x="208.6" y="682.7" width="2.55" height="10.01" fill="#f8f3f7" />
<rect x="211.1" y="682.7" width="2.55" height="10.01" fill="#8989d0" />
<rect x="213.6" y="682.7" width="2.55" height="10.01" fill="#aaa9db" />
<rect x="216.1" y="682.7" width="2.55" height="10.01" fill="#fdf8f8" />
<rect x="218.6" y="682.7" width="2.55" height="10.01" fill="#c7c4e1" />
<rect x="221.1" y="682.7" width="2.55" height="10.01" fill="#4040a8" />
<rect x="223.6" y="682.7" width="2.55" height="10.01" fill="#4242a9" />
<rect x="226.1" y="682.7" width="2.55" height="10.01" fill="#8f8fd2" />
<rect x="228.6" y="682.7" width="2.55" height="10.01" fill="#7a7ac7" />
<rect x="231.1" y="682.7" width="2.55" height="10.01" fill="#4040a8" />
<rect x="233.6" y="682.7" width="2.55" height="10.01" fill="#4a4aae" />
<rect x="236.1" y="682.7" width="2.55" height="10.01" fill="#fdf8f8" />
<rect x="238.6" y="682.7" width="2.55" height="10.01" fill="#e7e3ef" />
<rect x="241.1" y="682.7" width="2.55" height="10.01" fill="#8888cf" />
<rect x="243.6" y="682.7" width="2.55" height="10.01" fill="#9191d3" />
<rect x="246.1" y="682.7" width="2.55" height="10.01" fill="#9696d5" />
<rect x="248.6" y="682.7" width="2.55" height="10.01" fill="#8a8ad0" />
<rect x="251.1" y="682.7" width="2.55" height="10.01" fill="#8585ce" />
<rect x="253.6" y="682.7" width="2.55" height="10.01" fill="#9191d2" />
<rect x="256.1" y="682.7" width="2.55" height="10.01" fill="#fdf8f8" />
<rect x="258.6" y="682.7" width="2.55" height="10.01" fill="#f3eff6" />
<rect x="261.1" y="682.7" width="2.55" height="10.01" fill="#d9d9f1" />
<rect x="263.6" y="682.7" width="2.55" height="10.01" fill="#c8c8ea" />
<rect x="266.1" y="682.7" width="2.55" height="10.01" fill="#8484ce" />
<rect x="268.6" y="682.7" width="2.55" height="10.01" fill="#9d9dd8" />
<rect x="271.1" y="682.7" width="2.55" height="10.01" fill="#ceceed" />
<rect x="273.6" y="682.7" width="2.55" height="10.01" fill="#c9c9ea" />
<rect x="276.1" y="682.7" width="2.55" height="10.01" fill="#8686cf" />
<rect x="278.6" y="682.7" width="2.55" height="10.01" fill="#8a8ad0" />
<rect x="281.1" y="682.7" width="2.55" height="10.01" fill="#9494d4" />
<rect x="283.6" y="682.7" width="2.55" height="10.01" fill="#8a8ad0" />
<rect x="286.2" y="682.7" width="2.55" height="10.01" fill="#d5d5ef" />
<rect x="288.7" y="682.7" width="2.55" height="10.01" fill="#d9d8f0" />
<rect x="291.2" y="682.7" width="2.55" height="10.01" fill="#fdf8f8" />
<rect x="293.7" y="682.7" width="2.55" height="10.01" fill="#faf5f7" />
<rect x="296.2" y="682.7" width="2.55" height="10.01" fill="#d6d6ef" />
<rect x="298.7" y="682.7" width="2.55" height="10.01" fill="#cfcfed" />
<rect x="301.2" y="682.7" width="2.55" height="10.01" fill="#3838a5" />
<rect x="303.7" y="682.7" width="2.55" height="10.01" fill="#4646ab" />
<rect x="306.2" y="682.7" width="2.55" height="10.01" fill="#d1d1ee" />
<rect x="308.7" y="682.7" width="2.55" height="10.01" fill="#d1d1ee" />
<rect x="311.2" y="682.7" width="2.55" height="10.01" fill="#d7d7f0" />
<rect x="313.7" y="682.7" width="2.55" height="10.01" fill="#d8d7ef" />
<rect x="316.2" y="682.7" width="2.55" height="10.01" fill="#fdf8f8" />
<rect x="318.7" y="682.7" width="2.55" height="10.01" fill="#fdf8f8" />
<rect x="321.2" y="682.7" width="2.55" height="10.01" fill="#fdf8f8" />
<rect x="323.7" y="682.7" width="2.55" height="10.01" fill="#fdf8f8" />
<rect x="326.2" y="682.7" width="2.55" height="10.01" fill="#d0d0ed" />
<rect x="328.7" y="682.7" width="2.55" height="10.01" fill="#d8d8ef" />
<rect x="331.2" y="682.7" width="2.55" height="10.01" fill="#fdf8f8" />
<rect x="333.7" y="682.7" width="2.55" height="10.01" fill="#fdf8f8" />
<rect x="336.2" y="682.7" width="2.55" height="10.01" fill="#fdf8f8" />
<rect x="338.7" y="682.7" width="2.55" height="10.01" fill="#fdf8f8" />
<rect x="341.2" y="682.7" width="2.55" height="10.01" fill="#fdf8f8" />
<rect x="343.7" y="682.7" width="2.55" height="10.01" fill="#f6f2f6" />
<rect x="346.2" y="682.7" width="2.55" height="10.01" fill="#d4d4ef" />
<rect x="348.7" y="682.7" width="2.55" height="10.01" fill="#d9d8f0" />
<rect x="351.2" y="682.7" width="2.55" height="10.01" fill="#d5d5ef" />
<rect x="353.7" y="682.7" width="2.55" height="10.01" fill="#b2b2df" />
<rect x="356.2" y="682.7" width="2.55" height="10.01" fill="#5555b1" />
<rect x="358.7" y="682.7" width="2.55" height="10.01" fill="#6767ba" />
<rect x="361.2" y="682.7" width="2.55" height="10.01" fill="#8a8ad0" />
<rect x="363.7" y="682.7" width="2.55" height="10.01" fill="#8a8ad0" />
<rect x="366.2" y="682.7" width="2.55" height="10.01" fill="#8787cf" />
<rect x="368.7" y="682.7" width="2.55" height="10.01" fill="#8a8ad0" />
<rect x="371.2" y="682.7" width="2.55" height="10.01" fill="#8282cd" />
<rect x="373.7" y="682.7" width="2.55" height="10.01" fill="#7c7cc9" />
<rect x="376.2" y="682.7" width="2.55" height="10.01" fill="#4444aa" />
<rect x="378.7" y="682.7" width="2.55" height="10.01" fill="#5151b1" />
<rect x="381.2" y="682.7" width="2.55" height="10.01" fill="#9b9bd7" />
<rect x="383.7" y="682.7" width="2.55" height="10.01" fill="#7878c6" />
<rect x="386.2" y="682.7" width="2.55" height="10.01" fill="#8080cc" />
<rect x="388.7" y="682.7" width="2.55" height="10.01" fill="#a1a0d8" />
<rect x="391.2" y="682.7" width="2.55" height="10.01" fill="#fdf8f8" />
<rect x="393.7" y="682.7" width="2.55" height="10.01" fill="#eae6f1" />
<rect x="396.2" y="682.7" width="2.55" height="10.01" fill="#fdf8f8" />
<rect x="398.7" y="682.7" width="2.55" height="10.01" fill="#fdf8f8" />
<rect x="401.2" y="682.7" width="2.55" height="10.01" fill="#fdf8f8" />
<rect x="403.7" y="682.7" width="2.55" height="10.01" fill="#f5f0f5" />
<rect x="406.2" y="682.7" width="2.55" height="10.01" fill="#8b8bd0" />
<rect x="408.7" y="682.7" width="2.55" height="10.01" fill="#8c8cd1" />
<rect x="411.2" y="682.7" width="2.55" height="10.01" fill="#d3d3ee" />
<rect x="413.8" y="682.7" width="2.55" height="10.01" fill="#d8d8ef" />
<rect x="416.3" y="682.7" width="2.55" height="10.01" fill="#fdf8f8" />
<rect x="418.8" y="682.7" width="2.55" height="10.01" fill="#fdf8f8" />
<rect x="421.3" y="682.7" width="2.55" height="10.01" fill="#fdf8f8" />
<rect x="423.8" y="682.7" width="2.55" height="10.01" fill="#fdf8f8" />
<rect x="426.3" y="682.7" width="2.55" height="10.01" fill="#fdf8f8" />
<rect x="428.8" y="682.7" width="2.55" height="10.01" fill="#faf6f7" />
<rect x="431.3" y="682.7" width="2.55" height="10.01" fill="#d6d6ef" />
<rect x="433.8" y="682.7" width="2.55" height="10.01" fill="#d7d6ef" />
<rect x="436.3" y="682.7" width="2.55" height="10.01" fill="#fdf8f8" />
<rect x="438.8" y="682.7" width="2.55" height="10.01" fill="#f3f0f6" />
<rect x="441.3" y="682.7" width="2.55" height="10.01" fill="#fdf8f8" />
<rect x="443.8" y="682.7" width="2.55" height="10.01" fill="#fceded" />
<rect x="446.3" y="682.7" width="2.55" height="10.01" fill="#f9ced0" />
<rect x="448.8" y="682.7" width="2.55" height="10.01" fill="#f9d2d4" />
<rect x="451.3" y="682.7" width="2.55" height="10.01" fill="#fdf8f8" />
<rect x="453.8" y="682.7" width="2.55" height="10.01" fill="#fdf8f8" />
<rect x="456.3" y="682.7" width="2.55" height="10.01" fill="#fdf8f8" />
<rect x="458.8" y="682.7" width="2.55" height="10.01" fill="#fdf8f8" />
<rect x="461.3" y="682.7" width="2.55" height="10.01" fill="#f7c6c8" />
<rect x="463.8" y="682.7" width="2.55" height="10.01" fill="#f9cfd1" />
<rect x="466.3" y="682.7" width="2.55" height="10.01" fill="#8989d0" />
<rect x="468.8" y="682.7" width="2.55" height="10.01" fill="#8a8ad0" />
<rect x="471.3" y="682.7" width="2.55" height="10.01" fill="#8888cf" />
<rect x="473.8" y="682.7" width="2.55" height="10.01" fill="#8a8ad0" />
<rect x="476.3" y="682.7" width="2.55" height="10.01" fill="#7f7fcc" />
<rect x="478.8" y="682.7" width="2.55" height="10.01" fill="#8888cf" />
<rect x="481.3" y="682.7" width="2.55" height="10.01" fill="#4848ac" />
<rect x="483.8" y="682.7" width="2.55" height="10.01" fill="#6767bb" />
<rect x="486.3" y="682.7" width="2.55" height="10.01" fill="#d7d7f0" />
<rect x="488.8" y="682.7" width="2.55" height="10.01" fill="#c0c0e7" />
<rect x="491.3" y="682.7" width="2.55" height="10.01" fill="#8888cf" />
<rect x="493.8" y="682.7" width="2.55" height="10.01" fill="#8a8ad0" />
<rect x="496.3" y="682.7" width="2.55" height="10.01" fill="#9393d4" />
<rect x="498.8" y="682.7" width="2.55" height="10.01" fill="#8b8bd0" />
<rect x="501.3" y="682.7" width="2.55" height="10.01" fill="#f8cdcf" />
<rect x="503.8" y="682.7" width="2.55" height="10.01" fill="#dfbbcd" />
<rect x="506.3" y="682.7" width="2.55" height="10.01" fill="#f7c6c8" />
<rect x="508.8" y="682.7" width="2.55" height="10.01" fill="#e4becd" />
<rect x="511.3" y="682.7" width="2.55" height="10.01" fill="#9898d6" />
<rect x="513.8" y="682.7" width="2.55" height="10.01" fill="#a59acf" />
<rect x="516.3" y="682.7" width="2.55" height="10.01" fill="#8a8ad0" />
<rect x="518.8" y="682.7" width="2.55" height="10.01" fill="#abaadc" />
<rect x="521.3" y="682.7" width="2.55" height="10.01" fill="#fdf8f8" />
<rect x="523.8" y="682.7" width="2.55" height="10.01" fill="#e5e1f0" />
<rect x="526.3" y="682.7" width="2.55" height="10.01" fill="#f8c9cb" />
<rect x="528.8" y="682.7" width="2.55" height="10.01" fill="#f8ced0" />
<rect x="531.3" y="682.7" width="2.55" height="10.01" fill="#fdf8f8" />
<rect x="533.8" y="682.7" width="2.55" height="10.01" fill="#fdf6f6" />
<rect x="536.3" y="682.7" width="2.55" height="10.01" fill="#8686ce" />
<rect x="538.8" y="682.7" width="2.55" height="10.01" fill="#9393d3" />
<rect x="541.3" y="682.7" width="2.55" height="10.01" fill="#2d2d9f" />
<rect x="543.9" y="682.7" width="2.55" height="10.01" fill="#4545ab" />
<rect x="546.4" y="682.7" width="2.55" height="10.01" fill="#4747ab" />
<rect x="548.9" y="682.7" width="2.55" height="10.01" fill="#4040a8" />
<rect x="551.4" y="682.7" width="2.55" height="10.01" fill="#8f8fd2" />
<rect x="553.9" y="682.7" width="2.55" height="10.01" fill="#7c7cc9" />
<rect x="556.4" y="682.7" width="2.55" height="10.01" fill="#fdf8f8" />
<rect x="558.9" y="682.7" width="2.55" height="10.01" fill="#fdf8f8" />
<rect x="561.4" y="682.7" width="2.55" height="10.01" fill="#fdf8f8" />
<rect x="563.9" y="682.7" width="2.55" height="10.01" fill="#fdf8f8" />
<rect x="566.4" y="682.7" width="2.55" height="10.01" fill="#fdf8f8" />
<rect x="568.9" y="682.7" width="2.55" height="10.01" fill="#fdf8f8" />
<rect x="571.4" y="682.7" width="2.55" height="10.01" fill="#fdf8f8" />
<rect x="573.9" y="682.7" width="2.55" height="10.01" fill="#fdf8f8" />
<rect x="576.4" y="682.7" width="2.55" height="10.01" fill="#f9d0d1" />
<rect x="578.9" y="682.7" width="2.55" height="10.01" fill="#f9d7d9" />
<rect x="581.4" y="682.7" width="2.55" height="10.01" fill="#d5d5ef" />
<rect x="583.9" y="682.7" width="2.55" height="10.01" fill="#d6d1eb" />
<rect x="586.4" y="682.7" width="2.55" height="10.01" fill="#d1d1ee" />
<rect x="588.9" y="682.7" width="2.55" height="10.01" fill="#d7d6ef" />
<rect x="591.4" y="682.7" width="2.55" height="10.01" fill="#fdf8f8" />
<rect x="593.9" y="682.7" width="2.55" height="10.01" fill="#fdf5f5" />
<rect x="596.4" y="682.7" width="2.55" height="10.01" fill="#f9ced0" />
<rect x="598.9" y="682.7" width="2.55" height="10.01" fill="#f9cfd1" />
<rect x="601.4" y="682.7" width="2.55" height="10.01" fill="#fdf8f8" />
<rect x="603.9" y="682.7" width="2.55" height="10.01" fill="#fcecec" />
<rect x="91.0" y="692.7" width="2.55" height="10.01" fill="#f28c93" />
<rect x="93.5" y="692.7" width="2.55" height="10.01" fill="#e9919e" />
<rect x="96.0" y="692.7" width="2.55" height="10.01" fill="#f07e86" />
<rect x="98.5" y="692.7" width="2.55" height="10.01" fill="#ed7c87" />
<rect x="101.0" y="692.7" width="2.55" height="10.01" fill="#9090d3" />
<rect x="103.5" y="692.7" width="2.55" height="10.01" fill="#8b8bd0" />
<rect x="106.0" y="692.7" width="2.55" height="10.01" fill="#fdf8f8" />
<rect x="108.5" y="692.7" width="2.55" height="10.01" fill="#fad8da" />
<rect x="111.0" y="692.7" width="2.55" height="10.01" fill="#f07c84" />
<rect x="113.5" y="692.7" width="2.55" height="10.01" fill="#f18990" />
<rect x="116.0" y="692.7" width="2.55" height="10.01" fill="#f1848b" />
<rect x="118.5" y="692.7" width="2.55" height="10.01" fill="#f07c84" />
<rect x="121.0" y="692.7" width="2.55" height="10.01" fill="#f07a82" />
<rect x="123.5" y="692.7" width="2.55" height="10.01" fill="#f07c84" />
<rect x="126.0" y="692.7" width="2.55" height="10.01" fill="#ef767e" />
<rect x="128.5" y="692.7" width="2.55" height="10.01" fill="#f07c84" />
<rect x="131.0" y="692.7" width="2.55" height="10.01" fill="#f07d85" />
<rect x="133.5" y="692.7" width="2.55" height="10.01" fill="#f07c84" />
<rect x="136.0" y="692.7" width="2.55" height="10.01" fill="#f28a91" />
<rect x="138.5" y="692.7" width="2.55" height="10.01" fill="#f07c84" />
<rect x="141.0" y="692.7" width="2.55" height="10.01" fill="#f8cacc" />
<rect x="143.5" y="692.7" width="2.55" height="10.01" fill="#f8c7c9" />
<rect x="146.0" y="692.7" width="2.55" height="10.01" fill="#fdf8f8" />
<rect x="148.5" y="692.7" width="2.55" height="10.01" fill="#faf5f7" />
<rect x="151.0" y="692.7" width="2.55" height="10.01" fill="#d3d3ee" />
<rect x="153.5" y="692.7" width="2.55" height="10.01" fill="#dfddf1" />
<rect x="156.1" y="692.7" width="2.55" height="10.01" fill="#f8c8ca" />
<rect x="158.6" y="692.7" width="2.55" height="10.01" fill="#f5cbcf" />
<rect x="161.1" y="692.7" width="2.55" height="10.01" fill="#8a8ad0" />
<rect x="163.6" y="692.7" width="2.55" height="10.01" fill="#9898d6" />
<rect x="166.1" y="692.7" width="2.55" height="10.01" fill="#d6d6ef" />
<rect x="168.6" y="692.7" width="2.55" height="10.01" fill="#d1d1ee" />
<rect x="171.1" y="692.7" width="2.55" height="10.01" fill="#d0d0ed" />
<rect x="173.6" y="692.7" width="2.55" height="10.01" fill="#d2d2ee" />
<rect x="176.1" y="692.7" width="2.55" height="10.01" fill="#9b9bd7" />
<rect x="178.6" y="692.7" width="2.55" height="10.01" fill="#8a8ad0" />
<rect x="181.1" y="692.7" width="2.55" height="10.01" fill="#9999d6" />
<rect x="183.6" y="692.7" width="2.55" height="10.01" fill="#8a8ad0" />
<rect x="186.1" y="692.7" width="2.55" height="10.01" fill="#8080cc" />
<rect x="188.6" y="692.7" width="2.55" height="10.01" fill="#8a8ad0" />
<rect x="191.1" y="692.7" width="2.55" height="10.01" fill="#9797d5" />
<rect x="193.6" y="692.7" width="2.55" height="10.01" fill="#a6a4da" />
<rect x="196.1" y="692.7" width="2.55" height="10.01" fill="#fdf8f8" />
<rect x="198.6" y="692.7" width="2.55" height="10.01" fill="#faf5f7" />
<rect x="201.1" y="692.7" width="2.55" height="10.01" fill="#d9d9f0" />
<rect x="203.6" y="692.7" width="2.55" height="10.01" fill="#d2d2ee" />
<rect x="206.1" y="692.7" width="2.55" height="10.01" fill="#d0d0ed" />
<rect x="208.6" y="692.7" width="2.55" height="10.01" fill="#d2d2ee" />
<rect x="211.1" y="692.7" width="2.55" height="10.01" fill="#cfcfed" />
<rect x="213.6" y="692.7" width="2.55" height="10.01" fill="#d2d2ee" />
<rect x="216.1" y="692.7" width="2.55" height="10.01" fill="#d4d4ef" />
<rect x="218.6" y="692.7" width="2.55" height="10.01" fill="#d2d2ee" />
<rect x="221.1" y="692.7" width="2.55" height="10.01" fill="#8b8bd0" />
<rect x="223.6" y="692.7" width="2.55" height="10.01" fill="#8a8ad0" />
<rect x="226.1" y="692.7" width="2.55" height="10.01" fill="#7f7fcc" />
<rect x="228.6" y="692.7" width="2.55" height="10.01" fill="#8a8ad0" />
<rect x="231.1" y="692.7" width="2.55" height="10.01" fill="#d2d2ee" />
<rect x="233.6" y="692.7" width="2.55" height="10.01" fill="#ccccec" />
<rect x="236.1" y="692.7" width="2.55" height="10.01" fill="#8c8cd1" />
<rect x="238.6" y="692.7" width="2.55" height="10.01" fill="#928ed0" />
<rect x="241.1" y="692.7" width="2.55" height="10.01" fill="#f8ccce" />
<rect x="243.6" y="692.7" width="2.55" height="10.01" fill="#f9d2d3" />
<rect x="246.1" y="692.7" width="2.55" height="10.01" fill="#fdf8f8" />
<rect x="248.6" y="692.7" width="2.55" height="10.01" fill="#fdf7f7" />
<rect x="251.1" y="692.7" width="2.55" height="10.01" fill="#fdf8f8" />
<rect x="253.6" y="692.7" width="2.55" height="10.01" fill="#f4f0f6" />
<rect x="256.1" y="692.7" width="2.55" height="10.01" fill="#d3d3ee" />
<rect x="258.6" y="692.7" width="2.55" height="10.01" fill="#d4d4ef" />
<rect x="261.1" y="692.7" width="2.55" height="10.01" fill="#d2d2ee" />
<rect x="263.6" y="692.7" width="2.55" height="10.01" fill="#d2d2ee" />
<rect x="266.1" y="692.7" width="2.55" height="10.01" fill="#9696d5" />
<rect x="268.6" y="692.7" width="2.55" height="10.01" fill="#9393d4" />
<rect x="271.1" y="692.7" width="2.55" height="10.01" fill="#fdf8f8" />
<rect x="273.6" y="692.7" width="2.55" height="10.01" fill="#fdf8f8" />
<rect x="276.1" y="692.7" width="2.55" height="10.01" fill="#fdf8f8" />
<rect x="278.6" y="692.7" width="2.55" height="10.01" fill="#fdf8f8" />
<rect x="281.1" y="692.7" width="2.55" height="10.01" fill="#9a9ad6" />
<rect x="283.6" y="692.7" width="2.55" height="10.01" fill="#8a8ad0" />
<rect x="286.2" y="692.7" width="2.55" height="10.01" fill="#8b8bd1" />
<rect x="288.7" y="692.7" width="2.55" height="10.01" fill="#8a8ad0" />
<rect x="291.2" y="692.7" width="2.55" height="10.01" fill="#fdf8f8" />
<rect x="293.7" y="692.7" width="2.55" height="10.01" fill="#f7f2f6" />
<rect x="296.2" y="692.7" width="2.55" height="10.01" fill="#8e8ed2" />
<rect x="298.7" y="692.7" width="2.55" height="10.01" fill="#aba9db" />
<rect x="301.2" y="692.7" width="2.55" height="10.01" fill="#7f7fcc" />
<rect x="303.7" y="692.7" width="2.55" height="10.01" fill="#8a8ad0" />
<rect x="306.2" y="692.7" width="2.55" height="10.01" fill="#d3d3ee" />
<rect x="308.7" y="692.7" width="2.55" height="10.01" fill="#d2d2ee" />
<rect x="311.2" y="692.7" width="2.55" height="10.01" fill="#d2d2ee" />
<rect x="313.7" y="692.7" width="2.55" height="10.01" fill="#d2d2ee" />
<rect x="316.2" y="692.7" width="2.55" height="10.01" fill="#9595d5" />
<rect x="318.7" y="692.7" width="2.55" height="10.01" fill="#a6a5da" />
<rect x="321.2" y="692.7" width="2.55" height="10.01" fill="#fdf8f8" />
<rect x="323.7" y="692.7" width="2.55" height="10.01" fill="#efebf3" />
<rect x="326.2" y="692.7" width="2.55" height="10.01" fill="#8c8cd1" />
<rect x="328.7" y="692.7" width="2.55" height="10.01" fill="#aaa9db" />
<rect x="331.2" y="692.7" width="2.55" height="10.01" fill="#d8d8f0" />
<rect x="333.7" y="692.7" width="2.55" height="10.01" fill="#d5d5ef" />
<rect x="336.2" y="692.7" width="2.55" height="10.01" fill="#fdf8f8" />
<rect x="338.7" y="692.7" width="2.55" height="10.01" fill="#fdf8f8" />
<rect x="341.2" y="692.7" width="2.55" height="10.01" fill="#fdf8f8" />
<rect x="343.7" y="692.7" width="2.55" height="10.01" fill="#fdf8f8" />
<rect x="346.2" y="692.7" width="2.55" height="10.01" fill="#fdf8f8" />
<rect x="348.7" y="692.7" width="2.55" height="10.01" fill="#f4f0f6" />
<rect x="351.2" y="692.7" width="2.55" height="10.01" fill="#d2d2ee" />
<rect x="353.7" y="692.7" width="2.55" height="10.01" fill="#c0c0e7" />
<rect x="356.2" y="692.7" width="2.55" height="10.01" fill="#8686cf" />
<rect x="358.7" y="692.7" width="2.55" height="10.01" fill="#8a8ad0" />
<rect x="361.2" y="692.7" width="2.55" height="10.01" fill="#8686ce" />
<rect x="363.7" y="692.7" width="2.55" height="10.01" fill="#8a8ad0" />
<rect x="366.2" y="692.7" width="2.55" height="10.01" fill="#8484ce" />
<rect x="368.7" y="692.7" width="2.55" height="10.01" fill="#8a8ad0" />
<rect x="371.2" y="692.7" width="2.55" height="10.01" fill="#d5d5ef" />
<rect x="373.7" y="692.7" width="2.55" height="10.01" fill="#c6c6e9" />
<rect x="376.2" y="692.7" width="2.55" height="10.01" fill="#8383cd" />
<rect x="378.7" y="692.7" width="2.55" height="10.01" fill="#9292d3" />
<rect x="381.2" y="692.7" width="2.55" height="10.01" fill="#8b8bd0" />
<rect x="383.7" y="692.7" width="2.55" height="10.01" fill="#8a8ad0" />
<rect x="386.2" y="692.7" width="2.55" height="10.01" fill="#8080cc" />
<rect x="388.7" y="692.7" width="2.55" height="10.01" fill="#8a8ad0" />
<rect x="391.2" y="692.7" width="2.55" height="10.01" fill="#d4d4ef" />
<rect x="393.7" y="692.7" width="2.55" height="10.01" fill="#cbcbeb" />
<rect x="396.2" y="692.7" width="2.55" height="10.01" fill="#8383cd" />
<rect x="398.7" y="692.7" width="2.55" height="10.01" fill="#8a8ad0" />
<rect x="401.2" y="692.7" width="2.55" height="10.01" fill="#cfcfed" />
<rect x="403.7" y="692.7" width="2.55" height="10.01" fill="#c2c2e7" />
<rect x="406.2" y="692.7" width="2.55" height="10.01" fill="#9a9ad7" />
<rect x="408.7" y="692.7" width="2.55" height="10.01" fill="#8a8ad0" />
<rect x="411.2" y="692.7" width="2.55" height="10.01" fill="#9595d4" />
<rect x="413.8" y="692.7" width="2.55" height="10.01" fill="#8a8ad0" />
<rect x="416.3" y="692.7" width="2.55" height="10.01" fill="#8080cc" />
<rect x="418.8" y="692.7" width="2.55" height="10.01" fill="#8a8ad0" />
<rect x="421.3" y="692.7" width="2.55" height="10.01" fill="#8888cf" />
<rect x="423.8" y="692.7" width="2.55" height="10.01" fill="#8a8ad0" />
<rect x="426.3" y="692.7" width="2.55" height="10.01" fill="#8e8ed1" />
<rect x="428.8" y="692.7" width="2.55" height="10.01" fill="#8a8ad0" />
<rect x="431.3" y="692.7" width="2.55" height="10.01" fill="#d5d5ef" />
<rect x="433.8" y="692.7" width="2.55" height="10.01" fill="#cfcfed" />
<rect x="436.3" y="692.7" width="2.55" height="10.01" fill="#8080cc" />
<rect x="438.8" y="692.7" width="2.55" height="10.01" fill="#8a8ad0" />
<rect x="441.3" y="692.7" width="2.55" height="10.01" fill="#9797d5" />
<rect x="443.8" y="692.7" width="2.55" height="10.01" fill="#8a8ad0" />
<rect x="446.3" y="692.7" width="2.55" height="10.01" fill="#8f8fd2" />
<rect x="448.8" y="692.7" width="2.55" height="10.01" fill="#9595d5" />
<rect x="451.3" y="692.7" width="2.55" height="10.01" fill="#d6d6ef" />
<rect x="453.8" y="692.7" width="2.55" height="10.01" fill="#cfcfed" />
<rect x="456.3" y="692.7" width="2.55" height="10.01" fill="#d3d3ee" />
<rect x="458.8" y="692.7" width="2.55" height="10.01" fill="#d2d2ee" />
<rect x="461.3" y="692.7" width="2.55" height="10.01" fill="#d2d2ee" />
<rect x="463.8" y="692.7" width="2.55" height="10.01" fill="#d2d2ee" />
<rect x="466.3" y="692.7" width="2.55" height="10.01" fill="#ceceec" />
<rect x="468.8" y="692.7" width="2.55" height="10.01" fill="#d2d2ee" />
<rect x="471.3" y="692.7" width="2.55" height="10.01" fill="#9090d2" />
<rect x="473.8" y="692.7" width="2.55" height="10.01" fill="#9494d4" />
<rect x="476.3" y="692.7" width="2.55" height="10.01" fill="#cfcfed" />
<rect x="478.8" y="692.7" width="2.55" height="10.01" fill="#bebee6" />
<rect x="481.3" y="692.7" width="2.55" height="10.01" fill="#8686ce" />
<rect x="483.8" y="692.7" width="2.55" height="10.01" fill="#9595d4" />
<rect x="486.3" y="692.7" width="2.55" height="10.01" fill="#fdf8f8" />
<rect x="488.8" y="692.7" width="2.55" height="10.01" fill="#fbf6f7" />
<rect x="491.3" y="692.7" width="2.55" height="10.01" fill="#d2d2ee" />
<rect x="493.8" y="692.7" width="2.55" height="10.01" fill="#d2d2ee" />
<rect x="496.3" y="692.7" width="2.55" height="10.01" fill="#d8d8f0" />
<rect x="498.8" y="692.7" width="2.55" height="10.01" fill="#d2d2ee" />
<rect x="501.3" y="692.7" width="2.55" height="10.01" fill="#f28a92" />
<rect x="503.8" y="692.7" width="2.55" height="10.01" fill="#ee828b" />
<rect x="506.3" y="692.7" width="2.55" height="10.01" fill="#ea2b34" />
<rect x="508.8" y="692.7" width="2.55" height="10.01" fill="#ea2e37" />
<rect x="511.3" y="692.7" width="2.55" height="10.01" fill="#8080cc" />
<rect x="513.8" y="692.7" width="2.55" height="10.01" fill="#9f9fd9" />
<rect x="516.3" y="692.7" width="2.55" height="10.01" fill="#d0d0ed" />
<rect x="518.8" y="692.7" width="2.55" height="10.01" fill="#c3c3e8" />
<rect x="521.3" y="692.7" width="2.55" height="10.01" fill="#fdf8f8" />
<rect x="523.8" y="692.7" width="2.55" height="10.01" fill="#f7f3f7" />
<rect x="526.3" y="692.7" width="2.55" height="10.01" fill="#d0d0ed" />
<rect x="528.8" y="692.7" width="2.55" height="10.01" fill="#dddcf1" />
<rect x="531.3" y="692.7" width="2.55" height="10.01" fill="#d0d0ed" />
<rect x="533.8" y="692.7" width="2.55" height="10.01" fill="#d2d2ee" />
<rect x="536.3" y="692.7" width="2.55" height="10.01" fill="#d6d6f0" />
<rect x="538.8" y="692.7" width="2.55" height="10.01" fill="#d2d2ee" />
<rect x="541.3" y="692.7" width="2.55" height="10.01" fill="#fdf8f8" />
<rect x="543.9" y="692.7" width="2.55" height="10.01" fill="#fcecec" />
<rect x="546.4" y="692.7" width="2.55" height="10.01" fill="#f9d0d2" />
<rect x="548.9" y="692.7" width="2.55" height="10.01" fill="#f9d5d7" />
<rect x="551.4" y="692.7" width="2.55" height="10.01" fill="#cfcfed" />
<rect x="553.9" y="692.7" width="2.55" height="10.01" fill="#dbd0e6" />
<rect x="556.4" y="692.7" width="2.55" height="10.01" fill="#fdf8f8" />
<rect x="558.9" y="692.7" width="2.55" height="10.01" fill="#fbf6f7" />
<rect x="561.4" y="692.7" width="2.55" height="10.01" fill="#d1d1ee" />
<rect x="563.9" y="692.7" width="2.55" height="10.01" fill="#d2d2ee" />
<rect x="566.4" y="692.7" width="2.55" height="10.01" fill="#fdf8f8" />
<rect x="568.9" y="692.7" width="2.55" height="10.01" fill="#f2eef5" />
<rect x="571.4" y="692.7" width="2.55" height="10.01" fill="#f8cdcf" />
<rect x="573.9" y="692.7" width="2.55" height="10.01" fill="#f9d0d1" />
<rect x="576.4" y="692.7" width="2.55" height="10.01" fill="#d4d4ef" />
<rect x="578.9" y="692.7" width="2.55" height="10.01" fill="#dcd0e5" />
<rect x="581.4" y="692.7" width="2.55" height="10.01" fill="#fdf8f8" />
<rect x="583.9" y="692.7" width="2.55" height="10.01" fill="#fdf8f8" />
<rect x="586.4" y="692.7" width="2.55" height="10.01" fill="#fdf8f8" />
<rect x="588.9" y="692.7" width="2.55" height="10.01" fill="#fdf8f8" />
<rect x="591.4" y="692.7" width="2.55" height="10.01" fill="#d6d6ef" />
<rect x="593.9" y="692.7" width="2.55" height="10.01" fill="#dddcf1" />
<rect x="596.4" y="692.7" width="2.55" height="10.01" fill="#fdf8f8" />
<rect x="598.9" y="692.7" width="2.55" height="10.01" fill="#f6f2f6" />
<rect x="601.4" y="692.7" width="2.55" height="10.01" fill="#d7d7f0" />
<rect x="603.9" y="692.7" width="2.55" height="10.01" fill="#d2d2ee" />
<rect x="91.0" y="702.7" width="2.55" height="10.01" fill="#f28e95" />
<rect x="93.5" y="702.7" width="2.55" height="10.01" fill="#f29096" />
<rect x="96.0" y="702.7" width="2.55" height="10.01" fill="#f8c7c9" />
<rect x="98.5" y="702.7" width="2.55" height="10.01" fill="#f6babd" />
<rect x="101.0" y="702.7" width="2.55" height="10.01" fill="#f8ccce" />
<rect x="103.5" y="702.7" width="2.55" height="10.01" fill="#f8cacc" />
<rect x="106.0" y="702.7" width="2.55" height="10.01" fill="#ef737b" />
<rect x="108.5" y="702.7" width="2.55" height="10.01" fill="#f07f87" />
<rect x="111.0" y="702.7" width="2.55" height="10.01" fill="#f07b83" />
<rect x="113.5" y="702.7" width="2.55" height="10.01" fill="#f07c84" />
<rect x="116.0" y="702.7" width="2.55" height="10.01" fill="#ef717a" />
<rect x="118.5" y="702.7" width="2.55" height="10.01" fill="#f07c84" />
<rect x="121.0" y="702.7" width="2.55" height="10.01" fill="#f07b83" />
<rect x="123.5" y="702.7" width="2.55" height="10.01" fill="#f07c84" />
<rect x="126.0" y="702.7" width="2.55" height="10.01" fill="#ef757e" />
<rect x="128.5" y="702.7" width="2.55" height="10.01" fill="#f28e95" />
<rect x="131.0" y="702.7" width="2.55" height="10.01" fill="#f8cacc" />
<rect x="133.5" y="702.7" width="2.55" height="10.01" fill="#f6bbbe" />
<rect x="136.0" y="702.7" width="2.55" height="10.01" fill="#ef737c" />
<rect x="138.5" y="702.7" width="2.55" height="10.01" fill="#e77d8a" />
<rect x="141.0" y="702.7" width="2.55" height="10.01" fill="#8888cf" />
<rect x="143.5" y="702.7" width="2.55" height="10.01" fill="#a786bb" />
<rect x="146.0" y="702.7" width="2.55" height="10.01" fill="#d4d4ef" />
<rect x="148.5" y="702.7" width="2.55" height="10.01" fill="#cdcdec" />
<rect x="151.0" y="702.7" width="2.55" height="10.01" fill="#9898d6" />
<rect x="153.5" y="702.7" width="2.55" height="10.01" fill="#8a8ad0" />
<rect x="156.1" y="702.7" width="2.55" height="10.01" fill="#8c8cd1" />
<rect x="158.6" y="702.7" width="2.55" height="10.01" fill="#8a8ad0" />
<rect x="161.1" y="702.7" width="2.55" height="10.01" fill="#9494d4" />
<rect x="163.6" y="702.7" width="2.55" height="10.01" fill="#9797d5" />
<rect x="166.1" y="702.7" width="2.55" height="10.01" fill="#fdf8f8" />
<rect x="168.6" y="702.7" width="2.55" height="10.01" fill="#eee9f3" />
<rect x="171.1" y="702.7" width="2.55" height="10.01" fill="#fdf8f8" />
<rect x="173.6" y="702.7" width="2.55" height="10.01" fill="#fdf8f8" />
<rect x="176.1" y="702.7" width="2.55" height="10.01" fill="#fdf8f8" />
<rect x="178.6" y="702.7" width="2.55" height="10.01" fill="#fdf8f8" />
<rect x="181.1" y="702.7" width="2.55" height="10.01" fill="#fdf8f8" />
<rect x="183.6" y="702.7" width="2.55" height="10.01" fill="#fdf8f8" />
<rect x="186.1" y="702.7" width="2.55" height="10.01" fill="#fdf8f8" />
<rect x="188.6" y="702.7" width="2.55" height="10.01" fill="#f3eef4" />
<rect x="191.1" y="702.7" width="2.55" height="10.01" fill="#8585ce" />
<rect x="193.6" y="702.7" width="2.55" height="10.01" fill="#a1a0d8" />
<rect x="196.1" y="702.7" width="2.55" height="10.01" fill="#9090d2" />
<rect x="198.6" y="702.7" width="2.55" height="10.01" fill="#9796d4" />
<rect x="201.1" y="702.7" width="2.55" height="10.01" fill="#fdf8f8" />
<rect x="203.6" y="702.7" width="2.55" height="10.01" fill="#f8f4f7" />
<rect x="206.1" y="702.7" width="2.55" height="10.01" fill="#d7d7f0" />
<rect x="208.6" y="702.7" width="2.55" height="10.01" fill="#d6d6ef" />
<rect x="211.1" y="702.7" width="2.55" height="10.01" fill="#fdf8f8" />
<rect x="213.6" y="702.7" width="2.55" height="10.01" fill="#f6f2f6" />
<rect x="216.1" y="702.7" width="2.55" height="10.01" fill="#d0d0ed" />
<rect x="218.6" y="702.7" width="2.55" height="10.01" fill="#d8d7ef" />
<rect x="221.1" y="702.7" width="2.55" height="10.01" fill="#7f7fcc" />
<rect x="223.6" y="702.7" width="2.55" height="10.01" fill="#8a8ad0" />
<rect x="226.1" y="702.7" width="2.55" height="10.01" fill="#9696d5" />
<rect x="228.6" y="702.7" width="2.55" height="10.01" fill="#9f9fd9" />
<rect x="231.1" y="702.7" width="2.55" height="10.01" fill="#cfcfed" />
<rect x="233.6" y="702.7" width="2.55" height="10.01" fill="#c4c4e8" />
<rect x="236.1" y="702.7" width="2.55" height="10.01" fill="#8c8cd1" />
<rect x="238.6" y="702.7" width="2.55" height="10.01" fill="#9292d3" />
<rect x="241.1" y="702.7" width="2.55" height="10.01" fill="#f8cdcf" />
<rect x="243.6" y="702.7" width="2.55" height="10.01" fill="#f3cbd1" />
<rect x="246.1" y="702.7" width="2.55" height="10.01" fill="#d8d8f0" />
<rect x="248.6" y="702.7" width="2.55" height="10.01" fill="#ddd0e4" />
<rect x="251.1" y="702.7" width="2.55" height="10.01" fill="#fdf8f8" />
<rect x="253.6" y="702.7" width="2.55" height="10.01" fill="#f7f3f7" />
<rect x="256.1" y="702.7" width="2.55" height="10.01" fill="#d5d5ef" />
<rect x="258.6" y="702.7" width="2.55" height="10.01" fill="#dad9f0" />
<rect x="261.1" y="702.7" width="2.55" height="10.01" fill="#d3d3ee" />
<rect x="263.6" y="702.7" width="2.55" height="10.01" fill="#d2d2ee" />
<rect x="266.1" y="702.7" width="2.55" height="10.01" fill="#9a9ad6" />
<rect x="268.6" y="702.7" width="2.55" height="10.01" fill="#9b9bd7" />
<rect x="271.1" y="702.7" width="2.55" height="10.01" fill="#d7d7f0" />
<rect x="273.6" y="702.7" width="2.55" height="10.01" fill="#c7c7ea" />
<rect x="276.1" y="702.7" width="2.55" height="10.01" fill="#fdf8f8" />
<rect x="278.6" y="702.7" width="2.55" height="10.01" fill="#faf5f7" />
<rect x="281.1" y="702.7" width="2.55" height="10.01" fill="#9a9ad7" />
<rect x="283.6" y="702.7" width="2.55" height="10.01" fill="#8a8ad0" />
<rect x="286.2" y="702.7" width="2.55" height="10.01" fill="#9b9bd7" />
<rect x="288.7" y="702.7" width="2.55" height="10.01" fill="#a1a0d8" />
<rect x="291.2" y="702.7" width="2.55" height="10.01" fill="#fdf8f8" />
<rect x="293.7" y="702.7" width="2.55" height="10.01" fill="#f3eff6" />
<rect x="296.2" y="702.7" width="2.55" height="10.01" fill="#cfcfed" />
<rect x="298.7" y="702.7" width="2.55" height="10.01" fill="#d8d7ef" />
<rect x="301.2" y="702.7" width="2.55" height="10.01" fill="#fdf8f8" />
<rect x="303.7" y="702.7" width="2.55" height="10.01" fill="#f2eef5" />
<rect x="306.2" y="702.7" width="2.55" height="10.01" fill="#d2d2ee" />
<rect x="308.7" y="702.7" width="2.55" height="10.01" fill="#d3d3ee" />
<rect x="311.2" y="702.7" width="2.55" height="10.01" fill="#cfcfed" />
<rect x="313.7" y="702.7" width="2.55" height="10.01" fill="#d2d2ee" />
<rect x="316.2" y="702.7" width="2.55" height="10.01" fill="#d0d0ed" />
<rect x="318.7" y="702.7" width="2.55" height="10.01" fill="#d2d2ee" />
<rect x="321.2" y="702.7" width="2.55" height="10.01" fill="#fdf8f8" />
<rect x="323.7" y="702.7" width="2.55" height="10.01" fill="#f6f2f6" />
<rect x="326.2" y="702.7" width="2.55" height="10.01" fill="#d6d6f0" />
<rect x="328.7" y="702.7" width="2.55" height="10.01" fill="#cccceb" />
<rect x="331.2" y="702.7" width="2.55" height="10.01" fill="#8c8cd1" />
<rect x="333.7" y="702.7" width="2.55" height="10.01" fill="#9797d5" />
<rect x="336.2" y="702.7" width="2.55" height="10.01" fill="#fdf8f8" />
<rect x="338.7" y="702.7" width="2.55" height="10.01" fill="#e9e5f1" />
<rect x="341.2" y="702.7" width="2.55" height="10.01" fill="#d3d3ee" />
<rect x="343.7" y="702.7" width="2.55" height="10.01" fill="#d9d8f0" />
<rect x="346.2" y="702.7" width="2.55" height="10.01" fill="#d3d3ee" />
<rect x="348.7" y="702.7" width="2.55" height="10.01" fill="#d2d2ee" />
<rect x="351.2" y="702.7" width="2.55" height="10.01" fill="#fdf8f8" />
<rect x="353.7" y="702.7" width="2.55" height="10.01" fill="#f0edf5" />
<rect x="356.2" y="702.7" width="2.55" height="10.01" fill="#9090d2" />
<rect x="358.7" y="702.7" width="2.55" height="10.01" fill="#9897d5" />
<rect x="361.2" y="702.7" width="2.55" height="10.01" fill="#ceceec" />
<rect x="363.7" y="702.7" width="2.55" height="10.01" fill="#c9c9ea" />
<rect x="366.2" y="702.7" width="2.55" height="10.01" fill="#8282cd" />
<rect x="368.7" y="702.7" width="2.55" height="10.01" fill="#9b9bd7" />
<rect x="371.2" y="702.7" width="2.55" height="10.01" fill="#fdf8f8" />
<rect x="373.7" y="702.7" width="2.55" height="10.01" fill="#fbf6f8" />
<rect x="376.2" y="702.7" width="2.55" height="10.01" fill="#d3d3ee" />
<rect x="378.7" y="702.7" width="2.55" height="10.01" fill="#d7d7ef" />
<rect x="381.2" y="702.7" width="2.55" height="10.01" fill="#3b3ba6" />
<rect x="383.7" y="702.7" width="2.55" height="10.01" fill="#5151b0" />
<rect x="386.2" y="702.7" width="2.55" height="10.01" fill="#8282cd" />
<rect x="388.7" y="702.7" width="2.55" height="10.01" fill="#8484cd" />
<rect x="391.2" y="702.7" width="2.55" height="10.01" fill="#d3d3ee" />
<rect x="393.7" y="702.7" width="2.55" height="10.01" fill="#cbcbeb" />
<rect x="396.2" y="702.7" width="2.55" height="10.01" fill="#8d8dd1" />
<rect x="398.7" y="702.7" width="2.55" height="10.01" fill="#9696d5" />
<rect x="401.2" y="702.7" width="2.55" height="10.01" fill="#8787cf" />
<rect x="403.7" y="702.7" width="2.55" height="10.01" fill="#8a8ad0" />
<rect x="406.2" y="702.7" width="2.55" height="10.01" fill="#8181cc" />
<rect x="408.7" y="702.7" width="2.55" height="10.01" fill="#8f8fd2" />
<rect x="411.2" y="702.7" width="2.55" height="10.01" fill="#d5d5ef" />
<rect x="413.8" y="702.7" width="2.55" height="10.01" fill="#cacaeb" />
<rect x="416.3" y="702.7" width="2.55" height="10.01" fill="#8080cc" />
<rect x="418.8" y="702.7" width="2.55" height="10.01" fill="#8a8ad0" />
<rect x="421.3" y="702.7" width="2.55" height="10.01" fill="#8989d0" />
<rect x="423.8" y="702.7" width="2.55" height="10.01" fill="#8a8ad0" />
<rect x="426.3" y="702.7" width="2.55" height="10.01" fill="#d0d0ed" />
<rect x="428.8" y="702.7" width="2.55" height="10.01" fill="#d2d2ee" />
<rect x="431.3" y="702.7" width="2.55" height="10.01" fill="#ceceec" />
<rect x="433.8" y="702.7" width="2.55" height="10.01" fill="#d2d2ee" />
<rect x="436.3" y="702.7" width="2.55" height="10.01" fill="#8585ce" />
<rect x="438.8" y="702.7" width="2.55" height="10.01" fill="#8a8ad0" />
<rect x="441.3" y="702.7" width="2.55" height="10.01" fill="#8989d0" />
<rect x="443.8" y="702.7" width="2.55" height="10.01" fill="#9a9ad7" />
<rect x="446.3" y="702.7" width="2.55" height="10.01" fill="#d4d4ef" />
<rect x="448.8" y="702.7" width="2.55" height="10.01" fill="#d2d2ee" />
<rect x="451.3" y="702.7" width="2.55" height="10.01" fill="#d4d4ef" />
<rect x="453.8" y="702.7" width="2.55" height="10.01" fill="#d2d2ee" />
<rect x="456.3" y="702.7" width="2.55" height="10.01" fill="#fdf8f8" />
<rect x="458.8" y="702.7" width="2.55" height="10.01" fill="#f2eef5" />
<rect x="461.3" y="702.7" width="2.55" height="10.01" fill="#d4d4ef" />
<rect x="463.8" y="702.7" width="2.55" height="10.01" fill="#dad9f0" />
<rect x="466.3" y="702.7" width="2.55" height="10.01" fill="#cfcfed" />
<rect x="468.8" y="702.7" width="2.55" height="10.01" fill="#ceceec" />
<rect x="471.3" y="702.7" width="2.55" height="10.01" fill="#8181cc" />
<rect x="473.8" y="702.7" width="2.55" height="10.01" fill="#8a8ad0" />
<rect x="476.3" y="702.7" width="2.55" height="10.01" fill="#9696d5" />
<rect x="478.8" y="702.7" width="2.55" height="10.01" fill="#9797d5" />
<rect x="481.3" y="702.7" width="2.55" height="10.01" fill="#d2d2ee" />
<rect x="483.8" y="702.7" width="2.55" height="10.01" fill="#dad9f0" />
<rect x="486.3" y="702.7" width="2.55" height="10.01" fill="#fdf8f8" />
<rect x="488.8" y="702.7" width="2.55" height="10.01" fill="#f9f5f7" />
<rect x="491.3" y="702.7" width="2.55" height="10.01" fill="#d9d9f0" />
<rect x="493.8" y="702.7" width="2.55" height="10.01" fill="#d3d3ee" />
<rect x="496.3" y="702.7" width="2.55" height="10.01" fill="#8888cf" />
<rect x="498.8" y="702.7" width="2.55" height="10.01" fill="#9590d0" />
<rect x="501.3" y="702.7" width="2.55" height="10.01" fill="#f8cdcf" />
<rect x="503.8" y="702.7" width="2.55" height="10.01" fill="#debbcd" />
<rect x="506.3" y="702.7" width="2.55" height="10.01" fill="#fdf8f8" />
<rect x="508.8" y="702.7" width="2.55" height="10.01" fill="#fceaeb" />
<rect x="511.3" y="702.7" width="2.55" height="10.01" fill="#d5d5ef" />
<rect x="513.8" y="702.7" width="2.55" height="10.01" fill="#d3d3ee" />
<rect x="516.3" y="702.7" width="2.55" height="10.01" fill="#fdf8f8" />
<rect x="518.8" y="702.7" width="2.55" height="10.01" fill="#f1edf5" />
<rect x="521.3" y="702.7" width="2.55" height="10.01" fill="#d5d5ef" />
<rect x="523.8" y="702.7" width="2.55" height="10.01" fill="#dad9f0" />
<rect x="526.3" y="702.7" width="2.55" height="10.01" fill="#7e7ecb" />
<rect x="528.8" y="702.7" width="2.55" height="10.01" fill="#9797d5" />
<rect x="531.3" y="702.7" width="2.55" height="10.01" fill="#fdf8f8" />
<rect x="533.8" y="702.7" width="2.55" height="10.01" fill="#fdf8f8" />
<rect x="536.3" y="702.7" width="2.55" height="10.01" fill="#fdf8f8" />
<rect x="538.8" y="702.7" width="2.55" height="10.01" fill="#fdf8f8" />
<rect x="541.3" y="702.7" width="2.55" height="10.01" fill="#fdf8f8" />
<rect x="543.9" y="702.7" width="2.55" height="10.01" fill="#fdf8f8" />
<rect x="546.4" y="702.7" width="2.55" height="10.01" fill="#fdf8f8" />
<rect x="548.9" y="702.7" width="2.55" height="10.01" fill="#fdf8f8" />
<rect x="551.4" y="702.7" width="2.55" height="10.01" fill="#9696d5" />
<rect x="553.9" y="702.7" width="2.55" height="10.01" fill="#9999d6" />
<rect x="556.4" y="702.7" width="2.55" height="10.01" fill="#d6d6ef" />
<rect x="558.9" y="702.7" width="2.55" height="10.01" fill="#d6d6ef" />
<rect x="561.4" y="702.7" width="2.55" height="10.01" fill="#fdf8f8" />
<rect x="563.9" y="702.7" width="2.55" height="10.01" fill="#f2eef5" />
<rect x="566.4" y="702.7" width="2.55" height="10.01" fill="#fdf8f8" />
<rect x="568.9" y="702.7" width="2.55" height="10.01" fill="#fdf8f8" />
<rect x="571.4" y="702.7" width="2.55" height="10.01" fill="#fdf8f8" />
<rect x="573.9" y="702.7" width="2.55" height="10.01" fill="#fdf8f8" />
<rect x="576.4" y="702.7" width="2.55" height="10.01" fill="#fdf8f8" />
<rect x="578.9" y="702.7" width="2.55" height="10.01" fill="#f9f4f7" />
<rect x="581.4" y="702.7" width="2.55" height="10.01" fill="#d0d0ed" />
<rect x="583.9" y="702.7" width="2.55" height="10.01" fill="#deddf1" />
<rect x="586.4" y="702.7" width="2.55" height="10.01" fill="#8282cd" />
<rect x="588.9" y="702.7" width="2.55" height="10.01" fill="#9191d3" />
<rect x="591.4" y="702.7" width="2.55" height="10.01" fill="#d1d1ed" />
<rect x="593.9" y="702.7" width="2.55" height="10.01" fill="#cfcfed" />
<rect x="596.4" y="702.7" width="2.55" height="10.01" fill="#fdf8f8" />
<rect x="598.9" y="702.7" width="2.55" height="10.01" fill="#fdf8f8" />
<rect x="601.4" y="702.7" width="2.55" height="10.01" fill="#d0d0ed" />
<rect x="603.9" y="702.7" width="2.55" height="10.01" fill="#d2d2ee" />
<rect x="91.0" y="712.6" width="2.55" height="10.01" fill="#ea252e" />
<rect x="93.5" y="712.6" width="2.55" height="10.01" fill="#e9232d" />
<rect x="96.0" y="712.6" width="2.55" height="10.01" fill="#f07f87" />
<rect x="98.5" y="712.6" width="2.55" height="10.01" fill="#f07c84" />
<rect x="101.0" y="712.6" width="2.55" height="10.01" fill="#f07a82" />
<rect x="103.5" y="712.6" width="2.55" height="10.01" fill="#f07c84" />
<rect x="106.0" y="712.6" width="2.55" height="10.01" fill="#fdf8f8" />
<rect x="108.5" y="712.6" width="2.55" height="10.01" fill="#fcebec" />
<rect x="111.0" y="712.6" width="2.55" height="10.01" fill="#d2d2ee" />
<rect x="113.5" y="712.6" width="2.55" height="10.01" fill="#dad9f0" />
<rect x="116.0" y="712.6" width="2.55" height="10.01" fill="#d4d4ef" />
<rect x="118.5" y="712.6" width="2.55" height="10.01" fill="#c8c8ea" />
<rect x="121.0" y="712.6" width="2.55" height="10.01" fill="#8f8fd2" />
<rect x="123.5" y="712.6" width="2.55" height="10.01" fill="#9696d4" />
<rect x="126.0" y="712.6" width="2.55" height="10.01" fill="#fdf8f8" />
<rect x="128.5" y="712.6" width="2.55" height="10.01" fill="#fceeef" />
<rect x="131.0" y="712.6" width="2.55" height="10.01" fill="#f9ced0" />
<rect x="133.5" y="712.6" width="2.55" height="10.01" fill="#f8cacc" />
<rect x="136.0" y="712.6" width="2.55" height="10.01" fill="#f8c9cb" />
<rect x="138.5" y="712.6" width="2.55" height="10.01" fill="#f8cacc" />
<rect x="141.0" y="712.6" width="2.55" height="10.01" fill="#fdf8f8" />
<rect x="143.5" y="712.6" width="2.55" height="10.01" fill="#f6f1f6" />
<rect x="146.0" y="712.6" width="2.55" height="10.01" fill="#d7d7f0" />
<rect x="148.5" y="712.6" width="2.55" height="10.01" fill="#d2d2ee" />
<rect x="151.0" y="712.6" width="2.55" height="10.01" fill="#d6d6ef" />
<rect x="153.5" y="712.6" width="2.55" height="10.01" fill="#d2d2ee" />
<rect x="156.1" y="712.6" width="2.55" height="10.01" fill="#ceceed" />
<rect x="158.6" y="712.6" width="2.55" height="10.01" fill="#d2d2ee" />
<rect x="161.1" y="712.6" width="2.55" height="10.01" fill="#d8d8f0" />
<rect x="163.6" y="712.6" width="2.55" height="10.01" fill="#d2d2ee" />
<rect x="166.1" y="712.6" width="2.55" height="10.01" fill="#8282cd" />
<rect x="168.6" y="712.6" width="2.55" height="10.01" fill="#9797d5" />
<rect x="171.1" y="712.6" width="2.55" height="10.01" fill="#fdf8f8" />
<rect x="173.6" y="712.6" width="2.55" height="10.01" fill="#e3dfef" />
<rect x="176.1" y="712.6" width="2.55" height="10.01" fill="#fdf8f8" />
<rect x="178.6" y="712.6" width="2.55" height="10.01" fill="#fdf8f8" />
<rect x="181.1" y="712.6" width="2.55" height="10.01" fill="#d5d5ef" />
<rect x="183.6" y="712.6" width="2.55" height="10.01" fill="#d2d2ee" />
<rect x="186.1" y="712.6" width="2.55" height="10.01" fill="#8888cf" />
<rect x="188.6" y="712.6" width="2.55" height="10.01" fill="#9696d5" />
<rect x="191.1" y="712.6" width="2.55" height="10.01" fill="#9b9bd7" />
<rect x="193.6" y="712.6" width="2.55" height="10.01" fill="#8a8ad0" />
<rect x="196.1" y="712.6" width="2.55" height="10.01" fill="#fdf8f8" />
<rect x="198.6" y="712.6" width="2.55" height="10.01" fill="#e1ddee" />
<rect x="201.1" y="712.6" width="2.55" height="10.01" fill="#8383cd" />
<rect x="203.6" y="712.6" width="2.55" height="10.01" fill="#9392d3" />
<rect x="206.1" y="712.6" width="2.55" height="10.01" fill="#9494d4" />
<rect x="208.6" y="712.6" width="2.55" height="10.01" fill="#8a8ad0" />
<rect x="211.1" y="712.6" width="2.55" height="10.01" fill="#d6d6f0" />
<rect x="213.6" y="712.6" width="2.55" height="10.01" fill="#d4d3ee" />
<rect x="216.1" y="712.6" width="2.55" height="10.01" fill="#fdf8f8" />
<rect x="218.6" y="712.6" width="2.55" height="10.01" fill="#f1eef5" />
<rect x="221.1" y="712.6" width="2.55" height="10.01" fill="#d2d2ee" />
<rect x="223.6" y="712.6" width="2.55" height="10.01" fill="#d2d2ee" />
<rect x="226.1" y="712.6" width="2.55" height="10.01" fill="#d7d7f0" />
<rect x="228.6" y="712.6" width="2.55" height="10.01" fill="#c5c5e9" />
<rect x="231.1" y="712.6" width="2.55" height="10.01" fill="#8989d0" />
<rect x="233.6" y="712.6" width="2.55" height="10.01" fill="#8c8cd1" />
<rect x="236.1" y="712.6" width="2.55" height="10.01" fill="#d0d0ed" />
<rect x="238.6" y="712.6" width="2.55" height="10.01" fill="#c6c6e9" />
<rect x="241.1" y="712.6" width="2.55" height="10.01" fill="#d4d4ef" />
<rect x="243.6" y="712.6" width="2.55" height="10.01" fill="#d2d2ee" />
<rect x="246.1" y="712.6" width="2.55" height="10.01" fill="#d1d1ed" />
<rect x="248.6" y="712.6" width="2.55" height="10.01" fill="#c8c8ea" />
<rect x="251.1" y="712.6" width="2.55" height="10.01" fill="#9a9ad6" />
<rect x="253.6" y="712.6" width="2.55" height="10.01" fill="#8a8ad0" />
<rect x="256.1" y="712.6" width="2.55" height="10.01" fill="#8383cd" />
<rect x="258.6" y="712.6" width="2.55" height="10.01" fill="#8a8ad0" />
<rect x="261.1" y="712.6" width="2.55" height="10.01" fill="#8e8ed2" />
<rect x="263.6" y="712.6" width="2.55" height="10.01" fill="#8a8ad0" />
<rect x="266.1" y="712.6" width="2.55" height="10.01" fill="#9292d3" />
<rect x="268.6" y="712.6" width="2.55" height="10.01" fill="#8a8ad0" />
<rect x="271.1" y="712.6" width="2.55" height="10.01" fill="#d2d2ee" />
<rect x="273.6" y="712.6" width="2.55" height="10.01" fill="#cbcbeb" />
<rect x="276.1" y="712.6" width="2.55" height="10.01" fill="#8e8ed2" />
<rect x="278.6" y="712.6" width="2.55" height="10.01" fill="#8a8ad0" />
<rect x="281.1" y="712.6" width="2.55" height="10.01" fill="#8989d0" />
<rect x="283.6" y="712.6" width="2.55" height="10.01" fill="#8a8ad0" />
<rect x="286.2" y="712.6" width="2.55" height="10.01" fill="#8d8dd1" />
<rect x="288.7" y="712.6" width="2.55" height="10.01" fill="#8a8ad0" />
<rect x="291.2" y="712.6" width="2.55" height="10.01" fill="#ceceed" />
<rect x="293.7" y="712.6" width="2.55" height="10.01" fill="#bfbfe6" />
<rect x="296.2" y="712.6" width="2.55" height="10.01" fill="#9999d6" />
<rect x="298.7" y="712.6" width="2.55" height="10.01" fill="#9696d5" />
<rect x="301.2" y="712.6" width="2.55" height="10.01" fill="#ceceec" />
<rect x="303.7" y="712.6" width="2.55" height="10.01" fill="#cbcbeb" />
<rect x="306.2" y="712.6" width="2.55" height="10.01" fill="#fdf8f8" />
<rect x="308.7" y="712.6" width="2.55" height="10.01" fill="#faf6f7" />
<rect x="311.2" y="712.6" width="2.55" height="10.01" fill="#fdf8f8" />
<rect x="313.7" y="712.6" width="2.55" height="10.01" fill="#fdf8f8" />
<rect x="316.2" y="712.6" width="2.55" height="10.01" fill="#fdf8f8" />
<rect x="318.7" y="712.6" width="2.55" height="10.01" fill="#fdf8f8" />
<rect x="321.2" y="712.6" width="2.55" height="10.01" fill="#4141a8" />
<rect x="323.7" y="712.6" width="2.55" height="10.01" fill="#4848ab" />
<rect x="326.2" y="712.6" width="2.55" height="10.01" fill="#9292d3" />
<rect x="328.7" y="712.6" width="2.55" height="10.01" fill="#7474c4" />
<rect x="331.2" y="712.6" width="2.55" height="10.01" fill="#fdf8f8" />
<rect x="333.7" y="712.6" width="2.55" height="10.01" fill="#eeeaf3" />
<rect x="336.2" y="712.6" width="2.55" height="10.01" fill="#9393d3" />
<rect x="338.7" y="712.6" width="2.55" height="10.01" fill="#8d8dd1" />
<rect x="341.2" y="712.6" width="2.55" height="10.01" fill="#9898d6" />
<rect x="343.7" y="712.6" width="2.55" height="10.01" fill="#9e9ed8" />
<rect x="346.2" y="712.6" width="2.55" height="10.01" fill="#d3d3ee" />
<rect x="348.7" y="712.6" width="2.55" height="10.01" fill="#c9c9ea" />
<rect x="351.2" y="712.6" width="2.55" height="10.01" fill="#7f7fcc" />
<rect x="353.7" y="712.6" width="2.55" height="10.01" fill="#9999d6" />
<rect x="356.2" y="712.6" width="2.55" height="10.01" fill="#f07981" />
<rect x="358.7" y="712.6" width="2.55" height="10.01" fill="#ec7d87" />
<rect x="361.2" y="712.6" width="2.55" height="10.01" fill="#f8c8ca" />
<rect x="363.7" y="712.6" width="2.55" height="10.01" fill="#f7c5c7" />
<rect x="366.2" y="712.6" width="2.55" height="10.01" fill="#f28e95" />
<rect x="368.7" y="712.6" width="2.55" height="10.01" fill="#f29399" />
<rect x="371.2" y="712.6" width="2.55" height="10.01" fill="#f9d1d3" />
<rect x="373.7" y="712.6" width="2.55" height="10.01" fill="#f6b6b9" />
<rect x="376.2" y="712.6" width="2.55" height="10.01" fill="#fdf8f8" />
<rect x="378.7" y="712.6" width="2.55" height="10.01" fill="#fcf0f0" />
<rect x="381.2" y="712.6" width="2.55" height="10.01" fill="#f7c6c8" />
<rect x="383.7" y="712.6" width="2.55" height="10.01" fill="#edccd6" />
<rect x="386.2" y="712.6" width="2.55" height="10.01" fill="#ceceec" />
<rect x="388.7" y="712.6" width="2.55" height="10.01" fill="#ddd0e4" />
<rect x="391.2" y="712.6" width="2.55" height="10.01" fill="#fdf8f8" />
<rect x="393.7" y="712.6" width="2.55" height="10.01" fill="#f9f5f7" />
<rect x="396.2" y="712.6" width="2.55" height="10.01" fill="#fdf8f8" />
<rect x="398.7" y="712.6" width="2.55" height="10.01" fill="#f1edf5" />
<rect x="401.2" y="712.6" width="2.55" height="10.01" fill="#cfcfed" />
<rect x="403.7" y="712.6" width="2.55" height="10.01" fill="#d7d7ef" />
<rect x="406.2" y="712.6" width="2.55" height="10.01" fill="#fdf8f8" />
<rect x="408.7" y="712.6" width="2.55" height="10.01" fill="#f4f0f6" />
<rect x="411.2" y="712.6" width="2.55" height="10.01" fill="#fdf8f8" />
<rect x="413.8" y="712.6" width="2.55" height="10.01" fill="#fdf8f8" />
<rect x="416.3" y="712.6" width="2.55" height="10.01" fill="#fdf8f8" />
<rect x="418.8" y="712.6" width="2.55" height="10.01" fill="#fdf8f8" />
<rect x="421.3" y="712.6" width="2.55" height="10.01" fill="#fdf8f8" />
<rect x="423.8" y="712.6" width="2.55" height="10.01" fill="#fdf8f8" />
<rect x="426.3" y="712.6" width="2.55" height="10.01" fill="#fdf8f8" />
<rect x="428.8" y="712.6" width="2.55" height="10.01" fill="#fdf8f8" />
<rect x="431.3" y="712.6" width="2.55" height="10.01" fill="#d2d2ee" />
<rect x="433.8" y="712.6" width="2.55" height="10.01" fill="#cdcdec" />
<rect x="436.3" y="712.6" width="2.55" height="10.01" fill="#8f8fd2" />
<rect x="438.8" y="712.6" width="2.55" height="10.01" fill="#9090d2" />
<rect x="441.3" y="712.6" width="2.55" height="10.01" fill="#d1d1ee" />
<rect x="443.8" y="712.6" width="2.55" height="10.01" fill="#bbbbe3" />
<rect x="446.3" y="712.6" width="2.55" height="10.01" fill="#4141a8" />
<rect x="448.8" y="712.6" width="2.55" height="10.01" fill="#6969bc" />
<rect x="451.3" y="712.6" width="2.55" height="10.01" fill="#fdf8f8" />
<rect x="453.8" y="712.6" width="2.55" height="10.01" fill="#f4f0f4" />
<rect x="456.3" y="712.6" width="2.55" height="10.01" fill="#d0d0ed" />
<rect x="458.8" y="712.6" width="2.55" height="10.01" fill="#d8d7ef" />
<rect x="461.3" y="712.6" width="2.55" height="10.01" fill="#fdf8f8" />
<rect x="463.8" y="712.6" width="2.55" height="10.01" fill="#fdf8f8" />
<rect x="466.3" y="712.6" width="2.55" height="10.01" fill="#fdf8f8" />
<rect x="468.8" y="712.6" width="2.55" height="10.01" fill="#e8e4f1" />
<rect x="471.3" y="712.6" width="2.55" height="10.01" fill="#7f7fcc" />
<rect x="473.8" y="712.6" width="2.55" height="10.01" fill="#9696d5" />
<rect x="476.3" y="712.6" width="2.55" height="10.01" fill="#d1d1ee" />
<rect x="478.8" y="712.6" width="2.55" height="10.01" fill="#d2d2ee" />
<rect x="481.3" y="712.6" width="2.55" height="10.01" fill="#d0d0ed" />
<rect x="483.8" y="712.6" width="2.55" height="10.01" fill="#d2d2ee" />
<rect x="486.3" y="712.6" width="2.55" height="10.01" fill="#d4d4ef" />
<rect x="488.8" y="712.6" width="2.55" height="10.01" fill="#d2d2ee" />
<rect x="491.3" y="712.6" width="2.55" height="10.01" fill="#8d8dd1" />
<rect x="493.8" y="712.6" width="2.55" height="10.01" fill="#9999d6" />
<rect x="496.3" y="712.6" width="2.55" height="10.01" fill="#fdf8f8" />
<rect x="498.8" y="712.6" width="2.55" height="10.01" fill="#fdf5f5" />
<rect x="501.3" y="712.6" width="2.55" height="10.01" fill="#f8c7c9" />
<rect x="503.8" y="712.6" width="2.55" height="10.01" fill="#f8cacc" />
<rect x="506.3" y="712.6" width="2.55" height="10.01" fill="#f7c6c8" />
<rect x="508.8" y="712.6" width="2.55" height="10.01" fill="#f7cacd" />
<rect x="511.3" y="712.6" width="2.55" height="10.01" fill="#d2d2ee" />
<rect x="513.8" y="712.6" width="2.55" height="10.01" fill="#dfddf1" />
<rect x="516.3" y="712.6" width="2.55" height="10.01" fill="#fdf8f8" />
<rect x="518.8" y="712.6" width="2.55" height="10.01" fill="#f9f4f7" />
<rect x="521.3" y="712.6" width="2.55" height="10.01" fill="#8787cf" />
<rect x="523.8" y="712.6" width="2.55" height="10.01" fill="#9797d5" />
<rect x="526.3" y="712.6" width="2.55" height="10.01" fill="#fdf8f8" />
<rect x="528.8" y="712.6" width="2.55" height="10.01" fill="#ede8f2" />
<rect x="531.3" y="712.6" width="2.55" height="10.01" fill="#f7c5c7" />
<rect x="533.8" y="712.6" width="2.55" height="10.01" fill="#f8cbcd" />
<rect x="536.3" y="712.6" width="2.55" height="10.01" fill="#f8c7c9" />
<rect x="538.8" y="712.6" width="2.55" height="10.01" fill="#f8cacc" />
<rect x="541.3" y="712.6" width="2.55" height="10.01" fill="#f9d0d2" />
<rect x="543.9" y="712.6" width="2.55" height="10.01" fill="#f8cacc" />
<rect x="546.4" y="712.6" width="2.55" height="10.01" fill="#fdf8f8" />
<rect x="548.9" y="712.6" width="2.55" height="10.01" fill="#fcebec" />
<rect x="551.4" y="712.6" width="2.55" height="10.01" fill="#8282cd" />
<rect x="553.9" y="712.6" width="2.55" height="10.01" fill="#8d8dd1" />
<rect x="556.4" y="712.6" width="2.55" height="10.01" fill="#d0d0ed" />
<rect x="558.9" y="712.6" width="2.55" height="10.01" fill="#deddf1" />
<rect x="561.4" y="712.6" width="2.55" height="10.01" fill="#fdf8f8" />
<rect x="563.9" y="712.6" width="2.55" height="10.01" fill="#f4f0f6" />
<rect x="566.4" y="712.6" width="2.55" height="10.01" fill="#f9ced0" />
<rect x="568.9" y="712.6" width="2.55" height="10.01" fill="#f9d6d8" />
<rect x="571.4" y="712.6" width="2.55" height="10.01" fill="#9494d4" />
<rect x="573.9" y="712.6" width="2.55" height="10.01" fill="#9796d4" />
<rect x="576.4" y="712.6" width="2.55" height="10.01" fill="#fdf8f8" />
<rect x="578.9" y="712.6" width="2.55" height="10.01" fill="#f8f3f6" />
<rect x="581.4" y="712.6" width="2.55" height="10.01" fill="#9494d4" />
<rect x="583.9" y="712.6" width="2.55" height="10.01" fill="#acaadc" />
<rect x="586.4" y="712.6" width="2.55" height="10.01" fill="#d1d1ee" />
<rect x="588.9" y="712.6" width="2.55" height="10.01" fill="#cfcfed" />
<rect x="591.4" y="712.6" width="2.55" height="10.01" fill="#fdf8f8" />
<rect x="593.9" y="712.6" width="2.55" height="10.01" fill="#f9f5f7" />
<rect x="596.4" y="712.6" width="2.55" height="10.01" fill="#8e8ed1" />
<rect x="598.9" y="712.6" width="2.55" height="10.01" fill="#7979c7" />
<rect x="601.4" y="712.6" width="2.55" height="10.01" fill="#3838a4" />
<rect x="603.9" y="712.6" width="2.55" height="10.01" fill="#4242a9" />
<rect x="91.0" y="722.6" width="2.55" height="10.01" fill="#f28f96" />
<rect x="93.5" y="722.6" width="2.55" height="10.01" fill="#f49ea4" />
<rect x="96.0" y="722.6" width="2.55" height="10.01" fill="#f07a82" />
<rect x="98.5" y="722.6" width="2.55" height="10.01" fill="#f07c84" />
<rect x="101.0" y="722.6" width="2.55" height="10.01" fill="#9595d5" />
<rect x="103.5" y="722.6" width="2.55" height="10.01" fill="#9389c9" />
<rect x="106.0" y="722.6" width="2.55" height="10.01" fill="#f9d2d4" />
<rect x="108.5" y="722.6" width="2.55" height="10.01" fill="#ecc3cc" />
<rect x="111.0" y="722.6" width="2.55" height="10.01" fill="#8484ce" />
<rect x="113.5" y="722.6" width="2.55" height="10.01" fill="#9494d4" />
<rect x="116.0" y="722.6" width="2.55" height="10.01" fill="#ceceec" />
<rect x="118.5" y="722.6" width="2.55" height="10.01" fill="#dfddf1" />
<rect x="121.0" y="722.6" width="2.55" height="10.01" fill="#fdf8f8" />
<rect x="123.5" y="722.6" width="2.55" height="10.01" fill="#fcf1f1" />
<rect x="126.0" y="722.6" width="2.55" height="10.01" fill="#f8c7c9" />
<rect x="128.5" y="722.6" width="2.55" height="10.01" fill="#f8cacc" />
<rect x="131.0" y="722.6" width="2.55" height="10.01" fill="#f7c5c7" />
<rect x="133.5" y="722.6" width="2.55" height="10.01" fill="#f8cacc" />
<rect x="136.0" y="722.6" width="2.55" height="10.01" fill="#fdf8f8" />
<rect x="138.5" y="722.6" width="2.55" height="10.01" fill="#fceded" />
<rect x="141.0" y="722.6" width="2.55" height="10.01" fill="#f7c6c8" />
<rect x="143.5" y="722.6" width="2.55" height="10.01" fill="#d6b1c5" />
<rect x="146.0" y="722.6" width="2.55" height="10.01" fill="#2e2ea0" />
<rect x="148.5" y="722.6" width="2.55" height="10.01" fill="#4a48aa" />
<rect x="151.0" y="722.6" width="2.55" height="10.01" fill="#3d3da7" />
<rect x="153.5" y="722.6" width="2.55" height="10.01" fill="#4040a8" />
<rect x="156.1" y="722.6" width="2.55" height="10.01" fill="#3939a5" />
<rect x="158.6" y="722.6" width="2.55" height="10.01" fill="#5e5eb6" />
<rect x="161.1" y="722.6" width="2.55" height="10.01" fill="#cfcfed" />
<rect x="163.6" y="722.6" width="2.55" height="10.01" fill="#d4d4ee" />
<rect x="166.1" y="722.6" width="2.55" height="10.01" fill="#fdf8f8" />
<rect x="168.6" y="722.6" width="2.55" height="10.01" fill="#fdf8f8" />
<rect x="171.1" y="722.6" width="2.55" height="10.01" fill="#fdf8f8" />
<rect x="173.6" y="722.6" width="2.55" height="10.01" fill="#f4f0f5" />
<rect x="176.1" y="722.6" width="2.55" height="10.01" fill="#9a9ad6" />
<rect x="178.6" y="722.6" width="2.55" height="10.01" fill="#9292d3" />
<rect x="181.1" y="722.6" width="2.55" height="10.01" fill="#fdf8f8" />
<rect x="183.6" y="722.6" width="2.55" height="10.01" fill="#ede9f2" />
<rect x="186.1" y="722.6" width="2.55" height="10.01" fill="#9a9ad6" />
<rect x="188.6" y="722.6" width="2.55" height="10.01" fill="#8a8ad0" />
<rect x="191.1" y="722.6" width="2.55" height="10.01" fill="#8f8fd2" />
<rect x="193.6" y="722.6" width="2.55" height="10.01" fill="#8585cd" />
<rect x="196.1" y="722.6" width="2.55" height="10.01" fill="#3d3da7" />
<rect x="198.6" y="722.6" width="2.55" height="10.01" fill="#5050b0" />
<rect x="201.1" y="722.6" width="2.55" height="10.01" fill="#2d2d9f" />
<rect x="203.6" y="722.6" width="2.55" height="10.01" fill="#4040a8" />
<rect x="206.1" y="722.6" width="2.55" height="10.01" fill="#d3d3ee" />
<rect x="208.6" y="722.6" width="2.55" height="10.01" fill="#d2d2ee" />
<rect x="211.1" y="722.6" width="2.55" height="10.01" fill="#d5d5ef" />
<rect x="213.6" y="722.6" width="2.55" height="10.01" fill="#dbdaf0" />
<rect x="216.1" y="722.6" width="2.55" height="10.01" fill="#fdf8f8" />
<rect x="218.6" y="722.6" width="2.55" height="10.01" fill="#fbe6e6" />
<rect x="221.1" y="722.6" width="2.55" height="10.01" fill="#e80f19" />
<rect x="223.6" y="722.6" width="2.55" height="10.01" fill="#e81721" />
<rect x="226.1" y="722.6" width="2.55" height="10.01" fill="#f8c7c9" />
<rect x="228.6" y="722.6" width="2.55" height="10.01" fill="#f8c9cb" />
<rect x="231.1" y="722.6" width="2.55" height="10.01" fill="#f07d85" />
<rect x="233.6" y="722.6" width="2.55" height="10.01" fill="#f1838a" />
<rect x="236.1" y="722.6" width="2.55" height="10.01" fill="#ef7179" />
<rect x="238.6" y="722.6" width="2.55" height="10.01" fill="#f07c84" />
<rect x="241.1" y="722.6" width="2.55" height="10.01" fill="#f8c8ca" />
<rect x="243.6" y="722.6" width="2.55" height="10.01" fill="#f8cacc" />
<rect x="246.1" y="722.6" width="2.55" height="10.01" fill="#f8ccce" />
<rect x="248.6" y="722.6" width="2.55" height="10.01" fill="#f8cacc" />
<rect x="251.1" y="722.6" width="2.55" height="10.01" fill="#f8cbcd" />
<rect x="253.6" y="722.6" width="2.55" height="10.01" fill="#f8cacc" />
<rect x="256.1" y="722.6" width="2.55" height="10.01" fill="#f8cecf" />
<rect x="258.6" y="722.6" width="2.55" height="10.01" fill="#eec4cc" />
<rect x="261.1" y="722.6" width="2.55" height="10.01" fill="#9191d3" />
<rect x="263.6" y="722.6" width="2.55" height="10.01" fill="#9e9ed8" />
<rect x="266.1" y="722.6" width="2.55" height="10.01" fill="#d9d9f0" />
<rect x="268.6" y="722.6" width="2.55" height="10.01" fill="#d2d2ee" />
<rect x="271.1" y="722.6" width="2.55" height="10.01" fill="#d6d6f0" />
<rect x="273.6" y="722.6" width="2.55" height="10.01" fill="#d2d2ee" />
<rect x="276.1" y="722.6" width="2.55" height="10.01" fill="#9696d5" />
<rect x="278.6" y="722.6" width="2.55" height="10.01" fill="#a6a5da" />
<rect x="281.1" y="722.6" width="2.55" height="10.01" fill="#fdf8f8" />
<rect x="283.6" y="722.6" width="2.55" height="10.01" fill="#f9f4f7" />
<rect x="286.2" y="722.6" width="2.55" height="10.01" fill="#fdf8f8" />
<rect x="288.7" y="722.6" width="2.55" height="10.01" fill="#fdf4f4" />
<rect x="291.2" y="722.6" width="2.55" height="10.01" fill="#f9cfd1" />
<rect x="293.7" y="722.6" width="2.55" height="10.01" fill="#f8cbcd" />
<rect x="296.2" y="722.6" width="2.55" height="10.01" fill="#fdf8f8" />
<rect x="298.7" y="722.6" width="2.55" height="10.01" fill="#fdf8f8" />
<rect x="301.2" y="722.6" width="2.55" height="10.01" fill="#fdf8f8" />
<rect x="303.7" y="722.6" width="2.55" height="10.01" fill="#ddd9ed" />
<rect x="306.2" y="722.6" width="2.55" height="10.01" fill="#8383cd" />
<rect x="308.7" y="722.6" width="2.55" height="10.01" fill="#acaadc" />
<rect x="311.2" y="722.6" width="2.55" height="10.01" fill="#9898d6" />
<rect x="313.7" y="722.6" width="2.55" height="10.01" fill="#8a8ad0" />
<rect x="316.2" y="722.6" width="2.55" height="10.01" fill="#9090d2" />
<rect x="318.7" y="722.6" width="2.55" height="10.01" fill="#8484cd" />
<rect x="321.2" y="722.6" width="2.55" height="10.01" fill="#4b4bad" />
<rect x="323.7" y="722.6" width="2.55" height="10.01" fill="#6b6bbd" />
<rect x="326.2" y="722.6" width="2.55" height="10.01" fill="#d5d5ef" />
<rect x="328.7" y="722.6" width="2.55" height="10.01" fill="#b1b1de" />
<rect x="331.2" y="722.6" width="2.55" height="10.01" fill="#9595d4" />
<rect x="333.7" y="722.6" width="2.55" height="10.01" fill="#a8a7da" />
<rect x="336.2" y="722.6" width="2.55" height="10.01" fill="#fdf8f8" />
<rect x="338.7" y="722.6" width="2.55" height="10.01" fill="#e9e5f1" />
<rect x="341.2" y="722.6" width="2.55" height="10.01" fill="#fdf8f8" />
<rect x="343.7" y="722.6" width="2.55" height="10.01" fill="#f5f1f6" />
<rect x="346.2" y="722.6" width="2.55" height="10.01" fill="#d5d5ef" />
<rect x="348.7" y="722.6" width="2.55" height="10.01" fill="#d2d2ee" />
<rect x="351.2" y="722.6" width="2.55" height="10.01" fill="#cfcfed" />
<rect x="353.7" y="722.6" width="2.55" height="10.01" fill="#d2d2ee" />
<rect x="356.2" y="722.6" width="2.55" height="10.01" fill="#f8cdcf" />
<rect x="358.7" y="722.6" width="2.55" height="10.01" fill="#f5cbce" />
<rect x="361.2" y="722.6" width="2.55" height="10.01" fill="#4646ab" />
<rect x="363.7" y="722.6" width="2.55" height="10.01" fill="#665db0" />
<rect x="366.2" y="722.6" width="2.55" height="10.01" fill="#4e4eae" />
<rect x="368.7" y="722.6" width="2.55" height="10.01" fill="#5a5ab3" />
<rect x="371.2" y="722.6" width="2.55" height="10.01" fill="#fdf8f8" />
<rect x="373.7" y="722.6" width="2.55" height="10.01" fill="#d8d4e8" />
<rect x="376.2" y="722.6" width="2.55" height="10.01" fill="#9999d6" />
<rect x="378.7" y="722.6" width="2.55" height="10.01" fill="#9595d4" />
<rect x="381.2" y="722.6" width="2.55" height="10.01" fill="#9a9ad6" />
<rect x="383.7" y="722.6" width="2.55" height="10.01" fill="#8a8ad0" />
<rect x="386.2" y="722.6" width="2.55" height="10.01" fill="#9595d4" />
<rect x="388.7" y="722.6" width="2.55" height="10.01" fill="#9f9fd9" />
<rect x="391.2" y="722.6" width="2.55" height="10.01" fill="#d0d0ed" />
<rect x="393.7" y="722.6" width="2.55" height="10.01" fill="#d0d0ed" />
<rect x="396.2" y="722.6" width="2.55" height="10.01" fill="#8181cc" />
<rect x="398.7" y="722.6" width="2.55" height="10.01" fill="#8a8ad0" />
<rect x="401.2" y="722.6" width="2.55" height="10.01" fill="#9494d4" />
<rect x="403.7" y="722.6" width="2.55" height="10.01" fill="#8a8ad0" />
<rect x="406.2" y="722.6" width="2.55" height="10.01" fill="#9a9ad6" />
<rect x="408.7" y="722.6" width="2.55" height="10.01" fill="#8a8ad0" />
<rect x="411.2" y="722.6" width="2.55" height="10.01" fill="#d1d1ee" />
<rect x="413.8" y="722.6" width="2.55" height="10.01" fill="#d5d5ef" />
<rect x="416.3" y="722.6" width="2.55" height="10.01" fill="#fdf8f8" />
<rect x="418.8" y="722.6" width="2.55" height="10.01" fill="#f9f4f7" />
<rect x="421.3" y="722.6" width="2.55" height="10.01" fill="#d7d7f0" />
<rect x="423.8" y="722.6" width="2.55" height="10.01" fill="#d6d5ef" />
<rect x="426.3" y="722.6" width="2.55" height="10.01" fill="#fdf8f8" />
<rect x="428.8" y="722.6" width="2.55" height="10.01" fill="#f6f1f5" />
<rect x="431.3" y="722.6" width="2.55" height="10.01" fill="#9999d6" />
<rect x="433.8" y="722.6" width="2.55" height="10.01" fill="#a5a4d9" />
<rect x="436.3" y="722.6" width="2.55" height="10.01" fill="#4242a9" />
<rect x="438.8" y="722.6" width="2.55" height="10.01" fill="#4343a9" />
<rect x="441.3" y="722.6" width="2.55" height="10.01" fill="#8f8fd2" />
<rect x="443.8" y="722.6" width="2.55" height="10.01" fill="#9a9ad7" />
<rect x="446.3" y="722.6" width="2.55" height="10.01" fill="#d2d2ee" />
<rect x="448.8" y="722.6" width="2.55" height="10.01" fill="#d2d2ee" />
<rect x="451.3" y="722.6" width="2.55" height="10.01" fill="#d0d0ed" />
<rect x="453.8" y="722.6" width="2.55" height="10.01" fill="#d2d2ee" />
<rect x="456.3" y="722.6" width="2.55" height="10.01" fill="#f8c7c9" />
<rect x="458.8" y="722.6" width="2.55" height="10.01" fill="#f1cbd2" />
<rect x="461.3" y="722.6" width="2.55" height="10.01" fill="#fdf8f8" />
<rect x="463.8" y="722.6" width="2.55" height="10.01" fill="#e2deef" />
<rect x="466.3" y="722.6" width="2.55" height="10.01" fill="#9696d5" />
<rect x="468.8" y="722.6" width="2.55" height="10.01" fill="#8484cd" />
<rect x="471.3" y="722.6" width="2.55" height="10.01" fill="#4343a9" />
<rect x="473.8" y="722.6" width="2.55" height="10.01" fill="#5050b0" />
<rect x="476.3" y="722.6" width="2.55" height="10.01" fill="#9a9ad6" />
<rect x="478.8" y="722.6" width="2.55" height="10.01" fill="#8a8ad0" />
<rect x="481.3" y="722.6" width="2.55" height="10.01" fill="#9898d6" />
<rect x="483.8" y="722.6" width="2.55" height="10.01" fill="#8a8ad0" />
<rect x="486.3" y="722.6" width="2.55" height="10.01" fill="#ceceec" />
<rect x="488.8" y="722.6" width="2.55" height="10.01" fill="#c6c6e9" />
<rect x="491.3" y="722.6" width="2.55" height="10.01" fill="#8b8bd0" />
<rect x="493.8" y="722.6" width="2.55" height="10.01" fill="#8a8ad0" />
<rect x="496.3" y="722.6" width="2.55" height="10.01" fill="#8d8dd1" />
<rect x="498.8" y="722.6" width="2.55" height="10.01" fill="#8a8ad0" />
<rect x="501.3" y="722.6" width="2.55" height="10.01" fill="#fdf8f8" />
<rect x="503.8" y="722.6" width="2.55" height="10.01" fill="#efebf3" />
<rect x="506.3" y="722.6" width="2.55" height="10.01" fill="#4a4aad" />
<rect x="508.8" y="722.6" width="2.55" height="10.01" fill="#6766b8" />
<rect x="511.3" y="722.6" width="2.55" height="10.01" fill="#8f8fd2" />
<rect x="513.8" y="722.6" width="2.55" height="10.01" fill="#8888cf" />
<rect x="516.3" y="722.6" width="2.55" height="10.01" fill="#fdf8f8" />
<rect x="518.8" y="722.6" width="2.55" height="10.01" fill="#fbf6f7" />
<rect x="521.3" y="722.6" width="2.55" height="10.01" fill="#d2d2ee" />
<rect x="523.8" y="722.6" width="2.55" height="10.01" fill="#c9c9ea" />
<rect x="526.3" y="722.6" width="2.55" height="10.01" fill="#9090d3" />
<rect x="528.8" y="722.6" width="2.55" height="10.01" fill="#a298cf" />
<rect x="531.3" y="722.6" width="2.55" height="10.01" fill="#f9d0d2" />
<rect x="533.8" y="722.6" width="2.55" height="10.01" fill="#d9b8cd" />
<rect x="536.3" y="722.6" width="2.55" height="10.01" fill="#fdf8f8" />
<rect x="538.8" y="722.6" width="2.55" height="10.01" fill="#fdf8f8" />
<rect x="541.3" y="722.6" width="2.55" height="10.01" fill="#fdf8f8" />
<rect x="543.9" y="722.6" width="2.55" height="10.01" fill="#f1edf5" />
<rect x="546.4" y="722.6" width="2.55" height="10.01" fill="#ceceec" />
<rect x="548.9" y="722.6" width="2.55" height="10.01" fill="#d6d6ef" />
<rect x="551.4" y="722.6" width="2.55" height="10.01" fill="#5656b2" />
<rect x="553.9" y="722.6" width="2.55" height="10.01" fill="#5050b1" />
<rect x="556.4" y="722.6" width="2.55" height="10.01" fill="#9595d5" />
<rect x="558.9" y="722.6" width="2.55" height="10.01" fill="#8484cd" />
<rect x="561.4" y="722.6" width="2.55" height="10.01" fill="#8989d0" />
<rect x="563.9" y="722.6" width="2.55" height="10.01" fill="#8080cb" />
<rect x="566.4" y="722.6" width="2.55" height="10.01" fill="#4242a9" />
<rect x="568.9" y="722.6" width="2.55" height="10.01" fill="#4545aa" />
<rect x="571.4" y="722.6" width="2.55" height="10.01" fill="#8a8ad0" />
<rect x="573.9" y="722.6" width="2.55" height="10.01" fill="#7c7cc9" />
<rect x="576.4" y="722.6" width="2.55" height="10.01" fill="#f7c6c8" />
<rect x="578.9" y="722.6" width="2.55" height="10.01" fill="#f8cacc" />
<rect x="581.4" y="722.6" width="2.55" height="10.01" fill="#f8ccce" />
<rect x="583.9" y="722.6" width="2.55" height="10.01" fill="#f9d3d4" />
<rect x="586.4" y="722.6" width="2.55" height="10.01" fill="#fdf8f8" />
<rect x="588.9" y="722.6" width="2.55" height="10.01" fill="#fdf8f8" />
<rect x="591.4" y="722.6" width="2.55" height="10.01" fill="#fdf8f8" />
<rect x="593.9" y="722.6" width="2.55" height="10.01" fill="#fcecec" />
<rect x="596.4" y="722.6" width="2.55" height="10.01" fill="#f8c9cb" />
<rect x="598.9" y="722.6" width="2.55" height="10.01" fill="#f9d4d6" />
<rect x="601.4" y="722.6" width="2.55" height="10.01" fill="#fdf8f8" />
<rect x="603.9" y="722.6" width="2.55" height="10.01" fill="#fdf8f8" />
<rect x="90.5" y="738.5" width="515.90" height="13.50" fill="#c0c0c0" />
<rect x="100.6" y="738.5" width="1.50" height="13.50" fill="#ffffff" />
<rect x="105.0" y="738.5" width="1.50" height="13.50" fill="#ffffff" />
<rect x="150.5" y="738.5" width="1.50" height="13.50" fill="#ffffff" />
<rect x="154.0" y="738.5" width="1.50" height="13.50" fill="#ffffff" />
<rect x="158.5" y="738.5" width="5.00" height="13.50" fill="#ffffff" />
<rect x="186.2" y="738.5" width="2.00" height="13.50" fill="#ffffff" />
<rect x="195.0" y="738.5" width="1.50" height="13.50" fill="#ffffff" />
<rect x="198.8" y="738.5" width="1.50" height="13.50" fill="#ffffff" />
<rect x="207.6" y="738.5" width="4.40" height="13.50" fill="#ffffff" />
<rect x="217.7" y="738.5" width="1.50" height="13.50" fill="#ffffff" />
<rect x="248.0" y="738.5" width="1.50" height="13.50" fill="#ffffff" />
<rect x="268.9" y="738.5" width="9.30" height="13.50" fill="#ffffff" />
<rect x="293.3" y="738.5" width="2.00" height="13.50" fill="#ffffff" />
<rect x="299.9" y="738.5" width="2.00" height="13.50" fill="#ffffff" />
<rect x="304.0" y="738.5" width="7.70" height="13.50" fill="#ffffff" />
<rect x="321.8" y="738.5" width="1.50" height="13.50" fill="#ffffff" />
<rect x="326.8" y="738.5" width="3.20" height="13.50" fill="#ffffff" />
<rect x="333.0" y="738.5" width="1.50" height="13.50" fill="#ffffff" />
<rect x="339.4" y="738.5" width="1.50" height="13.50" fill="#ffffff" />
<rect x="344.5" y="738.5" width="1.50" height="13.50" fill="#ffffff" />
<rect x="349.5" y="738.5" width="1.50" height="13.50" fill="#ffffff" />
<rect x="392.3" y="738.5" width="3.70" height="13.50" fill="#ffffff" />
<rect x="398.6" y="738.5" width="1.50" height="13.50" fill="#ffffff" />
<rect x="406.0" y="738.5" width="1.50" height="13.50" fill="#ffffff" />
<rect x="411.0" y="738.5" width="1.50" height="13.50" fill="#ffffff" />
<rect x="416.0" y="738.5" width="1.50" height="13.50" fill="#ffffff" />
<rect x="417.4" y="738.5" width="1.50" height="13.50" fill="#ffffff" />
<rect x="427.8" y="738.5" width="1.50" height="13.50" fill="#ffffff" />
<rect x="435.2" y="738.5" width="5.80" height="13.50" fill="#ffffff" />
<rect x="447.0" y="738.5" width="1.50" height="13.50" fill="#ffffff" />
<rect x="453.0" y="738.5" width="1.50" height="13.50" fill="#ffffff" />
<rect x="464.8" y="738.5" width="1.50" height="13.50" fill="#ffffff" />
<rect x="476.7" y="738.5" width="1.50" height="13.50" fill="#ffffff" />
<rect x="484.4" y="738.5" width="3.00" height="13.50" fill="#ffffff" />
<rect x="491.1" y="738.5" width="2.90" height="13.50" fill="#ffffff" />
<rect x="498.5" y="738.5" width="3.00" height="13.50" fill="#ffffff" />
<rect x="518.0" y="738.5" width="1.50" height="13.50" fill="#ffffff" />
<rect x="540.4" y="738.5" width="8.90" height="13.50" fill="#ffffff" />
<rect x="576.0" y="738.5" width="1.50" height="13.50" fill="#ffffff" />
<rect x="584.8" y="738.5" width="1.50" height="13.50" fill="#ffffff" />
<rect x="589.3" y="738.5" width="1.50" height="13.50" fill="#ffffff" />
<rect x="402.4" y="738.5" width="2.00" height="13.50" fill="#000" />
<rect x="443.2" y="738.5" width="1.50" height="13.50" fill="#000" />
<rect x="488.5" y="738.5" width="1.50" height="13.50" fill="#000" />
<rect x="593.1" y="738.5" width="1.50" height="13.50" fill="#000" />
<rect x="90.5" y="752.0" width="515.90" height="15.00" fill="#c0c0c0" />
<rect x="151.5" y="752.0" width="12.50" height="15.00" fill="#ffffff" />
<rect x="186.2" y="752.0" width="2.00" height="15.00" fill="#ffffff" />
<rect x="195.5" y="752.0" width="1.50" height="15.00" fill="#ffffff" />
<rect x="199.5" y="752.0" width="1.50" height="15.00" fill="#ffffff" />
<rect x="204.5" y="752.0" width="7.50" height="15.00" fill="#ffffff" />
<rect x="270.0" y="752.0" width="7.70" height="15.00" fill="#ffffff" />
<rect x="295.0" y="752.0" width="2.00" height="15.00" fill="#ffffff" />
<rect x="301.6" y="752.0" width="1.90" height="15.00" fill="#ffffff" />
<rect x="305.4" y="752.0" width="8.80" height="15.00" fill="#ffffff" />
<rect x="323.0" y="752.0" width="1.50" height="15.00" fill="#ffffff" />
<rect x="333.0" y="752.0" width="1.50" height="15.00" fill="#ffffff" />
<rect x="337.0" y="752.0" width="1.50" height="15.00" fill="#ffffff" />
<rect x="340.7" y="752.0" width="1.50" height="15.00" fill="#ffffff" />
<rect x="345.7" y="752.0" width="1.50" height="15.00" fill="#ffffff" />
<rect x="349.5" y="752.0" width="2.50" height="15.00" fill="#ffffff" />
<rect x="397.4" y="752.0" width="7.60" height="15.00" fill="#ffffff" />
<rect x="407.4" y="752.0" width="1.50" height="15.00" fill="#ffffff" />
<rect x="415.0" y="752.0" width="1.50" height="15.00" fill="#ffffff" />
<rect x="424.8" y="752.0" width="1.50" height="15.00" fill="#ffffff" />
<rect x="435.2" y="752.0" width="1.50" height="15.00" fill="#ffffff" />
<rect x="447.0" y="752.0" width="1.50" height="15.00" fill="#ffffff" />
<rect x="450.0" y="752.0" width="1.50" height="15.00" fill="#ffffff" />
<rect x="464.8" y="752.0" width="1.50" height="15.00" fill="#ffffff" />
<rect x="485.6" y="752.0" width="17.70" height="15.00" fill="#ffffff" />
<rect x="518.0" y="752.0" width="1.50" height="15.00" fill="#ffffff" />
<rect x="567.0" y="752.0" width="1.50" height="15.00" fill="#ffffff" />
<rect x="589.3" y="752.0" width="8.80" height="15.00" fill="#ffffff" />
<rect x="150.0" y="752.0" width="1.50" height="15.00" fill="#b030a0" />
<rect x="329.3" y="752.0" width="2.00" height="15.00" fill="#b030a0" />
<rect x="506.3" y="752.0" width="1.50" height="15.00" fill="#8a1a1a" />
<rect x="90.5" y="752.0" width="4.50" height="15.00" fill="#000" />
<rect x="102.6" y="752.0" width="40.40" height="15.00" fill="#000" />
<rect x="203.0" y="752.0" width="1.50" height="15.00" fill="#000" />
<rect x="245.5" y="752.0" width="1.50" height="15.00" fill="#000" />
<rect x="315.0" y="752.0" width="2.00" height="15.00" fill="#000" />
<rect x="411.2" y="752.0" width="1.50" height="15.00" fill="#000" />
<rect x="453.0" y="752.0" width="1.50" height="15.00" fill="#000" />
<rect x="508.7" y="752.0" width="3.50" height="15.00" fill="#000" />
<rect x="546.9" y="752.0" width="1.50" height="15.00" fill="#000" />
<rect x="559.6" y="752.0" width="1.50" height="15.00" fill="#000" />
<rect x="587.2" y="752.0" width="1.50" height="15.00" fill="#000" />
<rect x="599.6" y="752.0" width="2.00" height="15.00" fill="#000" />
<rect x="90.5" y="767.0" width="515.90" height="14.00" fill="#c0c0c0" />
<rect x="157.0" y="767.0" width="2.00" height="14.00" fill="#ffffff" />
<rect x="195.8" y="767.0" width="1.50" height="14.00" fill="#ffffff" />
<rect x="200.0" y="767.0" width="1.50" height="14.00" fill="#ffffff" />
<rect x="272.7" y="767.0" width="2.00" height="14.00" fill="#ffffff" />
<rect x="326.5" y="767.0" width="3.50" height="14.00" fill="#ffffff" />
<rect x="332.5" y="767.0" width="2.00" height="14.00" fill="#ffffff" />
<rect x="336.0" y="767.0" width="1.50" height="14.00" fill="#ffffff" />
<rect x="340.0" y="767.0" width="1.50" height="14.00" fill="#ffffff" />
<rect x="405.0" y="767.0" width="1.50" height="14.00" fill="#ffffff" />
<rect x="412.5" y="767.0" width="1.50" height="14.00" fill="#ffffff" />
<rect x="429.3" y="767.0" width="1.50" height="14.00" fill="#ffffff" />
<rect x="457.4" y="767.0" width="1.50" height="14.00" fill="#ffffff" />
<rect x="466.3" y="767.0" width="1.50" height="14.00" fill="#ffffff" />
<rect x="345.7" y="767.0" width="1.50" height="14.00" fill="#8a1a1a" />
<rect x="455.0" y="767.0" width="1.50" height="14.00" fill="#8a1a1a" />
<rect x="152.2" y="767.0" width="4.80" height="14.00" fill="#000" />
<rect x="159.0" y="767.0" width="5.00" height="14.00" fill="#000" />
<rect x="293.3" y="767.0" width="2.00" height="14.00" fill="#000" />
<rect x="310.5" y="767.0" width="2.00" height="14.00" fill="#000" />
<rect x="321.8" y="767.0" width="1.50" height="14.00" fill="#000" />
<rect x="324.8" y="767.0" width="1.50" height="14.00" fill="#000" />
<rect x="330.6" y="767.0" width="1.50" height="14.00" fill="#000" />
<rect x="401.0" y="767.0" width="3.00" height="14.00" fill="#000" />
<rect x="410.0" y="767.0" width="1.50" height="14.00" fill="#000" />
<rect x="439.6" y="767.0" width="4.40" height="14.00" fill="#000" />
<rect x="476.7" y="767.0" width="1.50" height="14.00" fill="#000" />
<rect x="507.2" y="767.0" width="1.50" height="14.00" fill="#000" />
<rect x="545.7" y="767.0" width="1.50" height="14.00" fill="#000" />
<rect x="592.2" y="767.0" width="1.50" height="14.00" fill="#000" />
<rect x="90.5" y="781.0" width="515.90" height="14.50" fill="#c0c0c0" />
<rect x="186.7" y="781.0" width="2.00" height="14.50" fill="#ffffff" />
<rect x="216.0" y="781.0" width="2.00" height="14.50" fill="#ffffff" />
<rect x="271.4" y="781.0" width="3.80" height="14.50" fill="#ffffff" />
<rect x="300.4" y="781.0" width="1.50" height="14.50" fill="#ffffff" />
<rect x="304.2" y="781.0" width="1.50" height="14.50" fill="#ffffff" />
<rect x="350.8" y="781.0" width="2.00" height="14.50" fill="#ffffff" />
<rect x="429.3" y="781.0" width="1.50" height="14.50" fill="#ffffff" />
<rect x="451.5" y="781.0" width="1.50" height="14.50" fill="#ffffff" />
<rect x="487.6" y="781.0" width="8.40" height="14.50" fill="#ffffff" />
<rect x="580.4" y="781.0" width="2.00" height="14.50" fill="#ffffff" />
<rect x="210.2" y="781.0" width="2.00" height="14.50" fill="#000" />
<rect x="269.6" y="781.0" width="1.80" height="14.50" fill="#000" />
<rect x="276.4" y="781.0" width="1.50" height="14.50" fill="#000" />
<rect x="308.4" y="781.0" width="2.00" height="14.50" fill="#000" />
<rect x="485.6" y="781.0" width="1.50" height="14.50" fill="#000" />
<rect x="498.3" y="781.0" width="1.50" height="14.50" fill="#000" />
<rect x="519.6" y="781.0" width="1.50" height="14.50" fill="#000" />
<rect x="543.3" y="781.0" width="1.50" height="14.50" fill="#000" />
<rect x="576.0" y="781.0" width="1.50" height="14.50" fill="#000" />
<line x1="90.5" y1="752" x2="606.4" y2="752" stroke="#111" stroke-width="1"/>
<line x1="90.5" y1="767" x2="606.4" y2="767" stroke="#111" stroke-width="1"/>
<line x1="90.5" y1="781" x2="606.4" y2="781" stroke="#111" stroke-width="1"/>
<rect x="90.5" y="738" width="515.9" height="57.6" fill="none" stroke="#111" stroke-width="1"/>
</svg>
</body></html>
